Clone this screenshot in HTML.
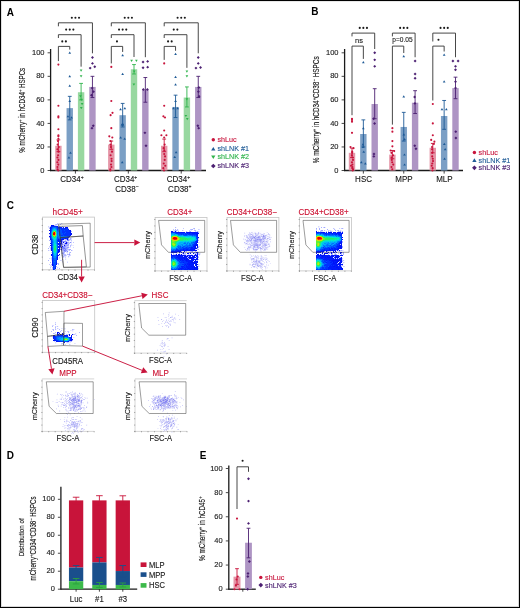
<!DOCTYPE html>
<html><head><meta charset="utf-8"><style>
html,body{margin:0;padding:0;background:#fff;}
body{width:520px;height:608px;overflow:hidden;position:relative;}
svg{display:block;font-family:"Liberation Sans", sans-serif;}
#fig{filter:blur(0.3px);}
#brd{position:absolute;left:0;top:0;}
</style></head><body>
<svg id="fig" width="520" height="608" viewBox="0 0 520 608">
<defs>
<filter id="blur2" x="-50%" y="-50%" width="200%" height="200%"><feGaussianBlur stdDeviation="2"/></filter>
</defs>
<rect x="0" y="0" width="520" height="608" fill="#fff"/>
<text transform="translate(6.80 15.60) scale(1 1.08)" font-size="10" text-anchor="start" fill="#000" font-weight="bold" >A</text>
<line x1="50.60" y1="49.00" x2="50.60" y2="171.10" stroke="#1a1a1a" stroke-width="1.3" />
<line x1="50.00" y1="170.50" x2="206.00" y2="170.50" stroke="#1a1a1a" stroke-width="1.3" />
<line x1="47.60" y1="170.50" x2="50.00" y2="170.50" stroke="#1a1a1a" stroke-width="0.8" />
<text transform="translate(44.50 172.65) scale(1 1.08)" font-size="7.5" text-anchor="end" fill="#1a1a1a" font-weight="normal" stroke="#1a1a1a" stroke-width="0.12" >0</text>
<line x1="47.60" y1="146.96" x2="50.00" y2="146.96" stroke="#1a1a1a" stroke-width="0.8" />
<text transform="translate(44.50 149.11) scale(1 1.08)" font-size="7.5" text-anchor="end" fill="#1a1a1a" font-weight="normal" stroke="#1a1a1a" stroke-width="0.12" >20</text>
<line x1="47.60" y1="123.42" x2="50.00" y2="123.42" stroke="#1a1a1a" stroke-width="0.8" />
<text transform="translate(44.50 125.57) scale(1 1.08)" font-size="7.5" text-anchor="end" fill="#1a1a1a" font-weight="normal" stroke="#1a1a1a" stroke-width="0.12" >40</text>
<line x1="47.60" y1="99.88" x2="50.00" y2="99.88" stroke="#1a1a1a" stroke-width="0.8" />
<text transform="translate(44.50 102.03) scale(1 1.08)" font-size="7.5" text-anchor="end" fill="#1a1a1a" font-weight="normal" stroke="#1a1a1a" stroke-width="0.12" >60</text>
<line x1="47.60" y1="76.34" x2="50.00" y2="76.34" stroke="#1a1a1a" stroke-width="0.8" />
<text transform="translate(44.50 78.49) scale(1 1.08)" font-size="7.5" text-anchor="end" fill="#1a1a1a" font-weight="normal" stroke="#1a1a1a" stroke-width="0.12" >80</text>
<line x1="47.60" y1="52.80" x2="50.00" y2="52.80" stroke="#1a1a1a" stroke-width="0.8" />
<text transform="translate(44.50 54.95) scale(1 1.08)" font-size="7.5" text-anchor="end" fill="#1a1a1a" font-weight="normal" stroke="#1a1a1a" stroke-width="0.12" >100</text>
<line x1="75.42" y1="170.50" x2="75.42" y2="173.60" stroke="#1a1a1a" stroke-width="0.8" />
<line x1="128.32" y1="170.50" x2="128.32" y2="173.60" stroke="#1a1a1a" stroke-width="0.8" />
<line x1="181.22" y1="170.50" x2="181.22" y2="173.60" stroke="#1a1a1a" stroke-width="0.8" />
<rect x="55.20" y="145.78" width="6.40" height="24.72" fill="#e596a8"/>
<circle cx="58.40" cy="64.57" r="1.06" fill="#c8143c"/>
<circle cx="58.40" cy="105.77" r="1.06" fill="#c8143c"/>
<circle cx="58.40" cy="116.36" r="1.06" fill="#c8143c"/>
<circle cx="58.40" cy="117.53" r="1.06" fill="#c8143c"/>
<circle cx="58.40" cy="129.31" r="1.06" fill="#c8143c"/>
<circle cx="58.40" cy="135.19" r="1.06" fill="#c8143c"/>
<circle cx="58.40" cy="136.37" r="1.06" fill="#c8143c"/>
<circle cx="58.40" cy="138.72" r="1.06" fill="#c8143c"/>
<circle cx="58.01" cy="141.07" r="1.06" fill="#c8143c"/>
<circle cx="57.63" cy="144.61" r="1.06" fill="#c8143c"/>
<circle cx="58.73" cy="146.96" r="1.06" fill="#c8143c"/>
<circle cx="57.46" cy="149.31" r="1.06" fill="#c8143c"/>
<circle cx="58.48" cy="151.67" r="1.06" fill="#c8143c"/>
<circle cx="58.10" cy="155.20" r="1.06" fill="#c8143c"/>
<circle cx="57.43" cy="157.55" r="1.06" fill="#c8143c"/>
<circle cx="58.42" cy="159.91" r="1.06" fill="#c8143c"/>
<circle cx="57.38" cy="162.26" r="1.06" fill="#c8143c"/>
<circle cx="58.25" cy="164.62" r="1.06" fill="#c8143c"/>
<circle cx="57.45" cy="166.97" r="1.06" fill="#c8143c"/>
<circle cx="57.50" cy="169.32" r="1.06" fill="#c8143c"/>
<circle cx="58.23" cy="170.50" r="1.06" fill="#c8143c"/>
<line x1="58.40" y1="151.67" x2="58.40" y2="139.90" stroke="#c8143c" stroke-width="0.9" />
<line x1="56.50" y1="139.90" x2="60.30" y2="139.90" stroke="#c8143c" stroke-width="0.9" />
<line x1="56.50" y1="151.67" x2="60.30" y2="151.67" stroke="#c8143c" stroke-width="0.9" />
<rect x="66.55" y="108.12" width="6.40" height="62.38" fill="#7b9fc5"/>
<path d="M69.75 51.57L71.09 53.81L68.41 53.81Z" fill="#1e5a96"/>
<path d="M69.75 75.11L71.09 77.35L68.41 77.35Z" fill="#1e5a96"/>
<path d="M69.75 84.52L71.09 86.76L68.41 86.76Z" fill="#1e5a96"/>
<path d="M69.75 99.83L71.09 102.06L68.41 102.06Z" fill="#1e5a96"/>
<path d="M67.95 115.13L69.29 117.37L66.61 117.37Z" fill="#1e5a96"/>
<path d="M71.55 116.30L72.89 118.54L70.21 118.54Z" fill="#1e5a96"/>
<path d="M70.47 151.61L71.81 153.85L69.13 153.85Z" fill="#1e5a96"/>
<path d="M68.92 156.32L70.27 158.56L67.58 158.56Z" fill="#1e5a96"/>
<line x1="69.75" y1="119.89" x2="69.75" y2="96.35" stroke="#1e5a96" stroke-width="0.9" />
<line x1="67.85" y1="96.35" x2="71.65" y2="96.35" stroke="#1e5a96" stroke-width="0.9" />
<line x1="67.85" y1="119.89" x2="71.65" y2="119.89" stroke="#1e5a96" stroke-width="0.9" />
<rect x="77.90" y="92.23" width="6.40" height="78.27" fill="#98d8a0"/>
<path d="M81.10 71.69L82.44 69.45L79.76 69.45Z" fill="#2fb44c"/>
<path d="M81.10 77.57L82.44 75.33L79.76 75.33Z" fill="#2fb44c"/>
<path d="M80.49 97.58L81.84 95.34L79.15 95.34Z" fill="#2fb44c"/>
<path d="M81.38 101.11L82.72 98.87L80.04 98.87Z" fill="#2fb44c"/>
<path d="M82.08 105.23L83.43 102.99L80.74 102.99Z" fill="#2fb44c"/>
<path d="M81.27 109.35L82.61 107.11L79.93 107.11Z" fill="#2fb44c"/>
<line x1="81.10" y1="99.88" x2="81.10" y2="83.40" stroke="#2fb44c" stroke-width="0.9" />
<line x1="79.20" y1="83.40" x2="83.00" y2="83.40" stroke="#2fb44c" stroke-width="0.9" />
<line x1="79.20" y1="99.88" x2="83.00" y2="99.88" stroke="#2fb44c" stroke-width="0.9" />
<rect x="89.25" y="86.93" width="6.40" height="83.57" fill="#ae95c4"/>
<path d="M92.45 56.05L93.91 57.51L92.45 58.96L90.99 57.51Z" fill="#4c2072"/>
<path d="M92.45 61.94L93.91 63.39L92.45 64.85L90.99 63.39Z" fill="#4c2072"/>
<path d="M94.75 65.23L96.21 66.69L94.75 68.14L93.29 66.69Z" fill="#4c2072"/>
<path d="M90.15 66.64L91.61 68.10L90.15 69.56L88.69 68.10Z" fill="#4c2072"/>
<path d="M92.22 86.65L93.68 88.11L92.22 89.57L90.77 88.11Z" fill="#4c2072"/>
<path d="M93.50 90.18L94.95 91.64L93.50 93.10L92.04 91.64Z" fill="#4c2072"/>
<path d="M91.45 93.72L92.91 95.17L91.45 96.63L90.00 95.17Z" fill="#4c2072"/>
<path d="M93.24 124.32L94.69 125.77L93.24 127.23L91.78 125.77Z" fill="#4c2072"/>
<path d="M91.99 126.67L93.44 128.13L91.99 129.58L90.53 128.13Z" fill="#4c2072"/>
<line x1="92.45" y1="97.53" x2="92.45" y2="76.34" stroke="#4c2072" stroke-width="0.9" />
<line x1="90.55" y1="76.34" x2="94.35" y2="76.34" stroke="#4c2072" stroke-width="0.9" />
<line x1="90.55" y1="97.53" x2="94.35" y2="97.53" stroke="#4c2072" stroke-width="0.9" />
<rect x="108.10" y="144.61" width="6.40" height="25.89" fill="#e596a8"/>
<circle cx="111.30" cy="66.92" r="1.06" fill="#c8143c"/>
<circle cx="111.30" cy="101.06" r="1.06" fill="#c8143c"/>
<circle cx="112.50" cy="112.83" r="1.06" fill="#c8143c"/>
<circle cx="110.60" cy="115.18" r="1.06" fill="#c8143c"/>
<circle cx="111.30" cy="128.13" r="1.06" fill="#c8143c"/>
<circle cx="109.30" cy="136.37" r="1.06" fill="#c8143c"/>
<circle cx="112.30" cy="137.54" r="1.06" fill="#c8143c"/>
<circle cx="110.52" cy="141.07" r="1.06" fill="#c8143c"/>
<circle cx="110.46" cy="144.61" r="1.06" fill="#c8143c"/>
<circle cx="110.88" cy="146.96" r="1.06" fill="#c8143c"/>
<circle cx="112.00" cy="151.67" r="1.06" fill="#c8143c"/>
<circle cx="110.60" cy="155.20" r="1.06" fill="#c8143c"/>
<circle cx="111.48" cy="158.73" r="1.06" fill="#c8143c"/>
<circle cx="111.61" cy="161.08" r="1.06" fill="#c8143c"/>
<circle cx="111.02" cy="164.62" r="1.06" fill="#c8143c"/>
<circle cx="111.41" cy="166.97" r="1.06" fill="#c8143c"/>
<circle cx="110.34" cy="169.32" r="1.06" fill="#c8143c"/>
<circle cx="110.33" cy="170.50" r="1.06" fill="#c8143c"/>
<line x1="111.30" y1="149.31" x2="111.30" y2="141.07" stroke="#c8143c" stroke-width="0.9" />
<line x1="109.40" y1="141.07" x2="113.20" y2="141.07" stroke="#c8143c" stroke-width="0.9" />
<line x1="109.40" y1="149.31" x2="113.20" y2="149.31" stroke="#c8143c" stroke-width="0.9" />
<rect x="119.45" y="115.18" width="6.40" height="55.32" fill="#7b9fc5"/>
<path d="M122.65 53.92L123.99 56.16L121.31 56.16Z" fill="#1e5a96"/>
<path d="M122.65 72.75L123.99 74.99L121.31 74.99Z" fill="#1e5a96"/>
<path d="M124.85 106.89L126.19 109.13L123.51 109.13Z" fill="#1e5a96"/>
<path d="M120.55 108.06L121.89 110.30L119.21 110.30Z" fill="#1e5a96"/>
<path d="M122.00 123.37L123.35 125.61L120.66 125.61Z" fill="#1e5a96"/>
<path d="M123.05 123.37L124.39 125.61L121.70 125.61Z" fill="#1e5a96"/>
<path d="M122.49 123.37L123.83 125.61L121.15 125.61Z" fill="#1e5a96"/>
<path d="M120.65 136.31L121.99 138.55L119.31 138.55Z" fill="#1e5a96"/>
<path d="M124.65 137.49L125.99 139.73L123.31 139.73Z" fill="#1e5a96"/>
<path d="M122.24 161.03L123.59 163.27L120.90 163.27Z" fill="#1e5a96"/>
<line x1="122.65" y1="126.95" x2="122.65" y2="103.41" stroke="#1e5a96" stroke-width="0.9" />
<line x1="120.75" y1="103.41" x2="124.55" y2="103.41" stroke="#1e5a96" stroke-width="0.9" />
<line x1="120.75" y1="126.95" x2="124.55" y2="126.95" stroke="#1e5a96" stroke-width="0.9" />
<rect x="130.80" y="69.28" width="6.40" height="101.22" fill="#98d8a0"/>
<path d="M131.60 62.04L132.94 59.80L130.26 59.80Z" fill="#2fb44c"/>
<path d="M136.40 62.04L137.74 59.80L135.06 59.80Z" fill="#2fb44c"/>
<path d="M134.19 72.86L135.53 70.62L132.84 70.62Z" fill="#2fb44c"/>
<path d="M133.90 85.81L135.24 83.57L132.55 83.57Z" fill="#2fb44c"/>
<line x1="134.00" y1="73.99" x2="134.00" y2="64.57" stroke="#2fb44c" stroke-width="0.9" />
<line x1="132.10" y1="64.57" x2="135.90" y2="64.57" stroke="#2fb44c" stroke-width="0.9" />
<line x1="132.10" y1="73.99" x2="135.90" y2="73.99" stroke="#2fb44c" stroke-width="0.9" />
<rect x="142.15" y="89.76" width="6.40" height="80.74" fill="#ae95c4"/>
<path d="M143.05 60.52L144.51 61.98L143.05 63.44L141.59 61.98Z" fill="#4c2072"/>
<path d="M147.65 59.94L149.11 61.39L147.65 62.85L146.19 61.39Z" fill="#4c2072"/>
<path d="M143.05 66.29L144.51 67.75L143.05 69.20L141.59 67.75Z" fill="#4c2072"/>
<path d="M147.65 65.70L149.11 67.16L147.65 68.62L146.19 67.16Z" fill="#4c2072"/>
<path d="M143.35 88.07L144.81 89.52L143.35 90.98L141.89 89.52Z" fill="#4c2072"/>
<path d="M147.35 88.07L148.81 89.52L147.35 90.98L145.89 89.52Z" fill="#4c2072"/>
<path d="M144.91 131.38L146.37 132.84L144.91 134.29L143.45 132.84Z" fill="#4c2072"/>
<path d="M146.00 144.33L147.45 145.78L146.00 147.24L144.54 145.78Z" fill="#4c2072"/>
<line x1="145.35" y1="102.23" x2="145.35" y2="77.52" stroke="#4c2072" stroke-width="0.9" />
<line x1="143.45" y1="77.52" x2="147.25" y2="77.52" stroke="#4c2072" stroke-width="0.9" />
<line x1="143.45" y1="102.23" x2="147.25" y2="102.23" stroke="#4c2072" stroke-width="0.9" />
<rect x="161.00" y="145.78" width="6.40" height="24.72" fill="#e596a8"/>
<circle cx="164.20" cy="63.39" r="1.06" fill="#c8143c"/>
<circle cx="164.20" cy="105.77" r="1.06" fill="#c8143c"/>
<circle cx="163.40" cy="116.36" r="1.06" fill="#c8143c"/>
<circle cx="165.00" cy="117.53" r="1.06" fill="#c8143c"/>
<circle cx="164.20" cy="130.48" r="1.06" fill="#c8143c"/>
<circle cx="161.40" cy="135.19" r="1.06" fill="#c8143c"/>
<circle cx="166.40" cy="135.19" r="1.06" fill="#c8143c"/>
<circle cx="164.20" cy="137.54" r="1.06" fill="#c8143c"/>
<circle cx="164.64" cy="144.61" r="1.06" fill="#c8143c"/>
<circle cx="163.64" cy="148.14" r="1.06" fill="#c8143c"/>
<circle cx="164.36" cy="150.49" r="1.06" fill="#c8143c"/>
<circle cx="164.26" cy="154.02" r="1.06" fill="#c8143c"/>
<circle cx="165.03" cy="156.38" r="1.06" fill="#c8143c"/>
<circle cx="164.70" cy="159.91" r="1.06" fill="#c8143c"/>
<circle cx="163.73" cy="163.44" r="1.06" fill="#c8143c"/>
<circle cx="165.26" cy="165.79" r="1.06" fill="#c8143c"/>
<circle cx="163.36" cy="168.15" r="1.06" fill="#c8143c"/>
<circle cx="164.02" cy="170.50" r="1.06" fill="#c8143c"/>
<line x1="164.20" y1="151.67" x2="164.20" y2="139.07" stroke="#c8143c" stroke-width="0.9" />
<line x1="162.30" y1="139.07" x2="166.10" y2="139.07" stroke="#c8143c" stroke-width="0.9" />
<line x1="162.30" y1="151.67" x2="166.10" y2="151.67" stroke="#c8143c" stroke-width="0.9" />
<rect x="172.35" y="106.94" width="6.40" height="63.56" fill="#7b9fc5"/>
<path d="M175.55 52.74L176.89 54.98L174.21 54.98Z" fill="#1e5a96"/>
<path d="M175.55 75.70L176.89 77.94L174.21 77.94Z" fill="#1e5a96"/>
<path d="M175.55 83.35L176.89 85.59L174.21 85.59Z" fill="#1e5a96"/>
<path d="M175.55 99.83L176.89 102.06L174.21 102.06Z" fill="#1e5a96"/>
<path d="M173.45 106.89L174.79 109.13L172.11 109.13Z" fill="#1e5a96"/>
<path d="M177.65 106.89L178.99 109.13L176.31 109.13Z" fill="#1e5a96"/>
<path d="M176.12 150.91L177.46 153.15L174.77 153.15Z" fill="#1e5a96"/>
<path d="M174.78 155.73L176.13 157.97L173.44 157.97Z" fill="#1e5a96"/>
<line x1="175.55" y1="117.53" x2="175.55" y2="95.17" stroke="#1e5a96" stroke-width="0.9" />
<line x1="173.65" y1="95.17" x2="177.45" y2="95.17" stroke="#1e5a96" stroke-width="0.9" />
<line x1="173.65" y1="117.53" x2="177.45" y2="117.53" stroke="#1e5a96" stroke-width="0.9" />
<rect x="183.70" y="97.53" width="6.40" height="72.97" fill="#98d8a0"/>
<path d="M186.90 72.86L188.24 70.62L185.56 70.62Z" fill="#2fb44c"/>
<path d="M186.90 77.57L188.24 75.33L185.56 75.33Z" fill="#2fb44c"/>
<path d="M186.88 100.52L188.22 98.28L185.53 98.28Z" fill="#2fb44c"/>
<path d="M185.89 117.12L187.23 114.88L184.54 114.88Z" fill="#2fb44c"/>
<path d="M187.27 120.18L188.61 117.94L185.93 117.94Z" fill="#2fb44c"/>
<line x1="186.90" y1="106.94" x2="186.90" y2="86.93" stroke="#2fb44c" stroke-width="0.9" />
<line x1="185.00" y1="86.93" x2="188.80" y2="86.93" stroke="#2fb44c" stroke-width="0.9" />
<line x1="185.00" y1="106.94" x2="188.80" y2="106.94" stroke="#2fb44c" stroke-width="0.9" />
<rect x="195.05" y="86.93" width="6.40" height="83.57" fill="#ae95c4"/>
<path d="M198.25 56.05L199.71 57.51L198.25 58.96L196.79 57.51Z" fill="#4c2072"/>
<path d="M198.25 61.94L199.71 63.39L198.25 64.85L196.79 63.39Z" fill="#4c2072"/>
<path d="M195.95 66.64L197.41 68.10L195.95 69.56L194.49 68.10Z" fill="#4c2072"/>
<path d="M200.55 66.06L202.01 67.51L200.55 68.97L199.09 67.51Z" fill="#4c2072"/>
<path d="M198.83 86.07L200.29 87.52L198.83 88.98L197.38 87.52Z" fill="#4c2072"/>
<path d="M198.41 90.18L199.87 91.64L198.41 93.10L196.95 91.64Z" fill="#4c2072"/>
<path d="M199.08 94.89L200.53 96.35L199.08 97.81L197.62 96.35Z" fill="#4c2072"/>
<path d="M197.84 124.32L199.30 125.77L197.84 127.23L196.38 125.77Z" fill="#4c2072"/>
<path d="M198.68 126.67L200.14 128.13L198.68 129.58L197.22 128.13Z" fill="#4c2072"/>
<line x1="198.25" y1="97.53" x2="198.25" y2="76.34" stroke="#4c2072" stroke-width="0.9" />
<line x1="196.35" y1="76.34" x2="200.15" y2="76.34" stroke="#4c2072" stroke-width="0.9" />
<line x1="196.35" y1="97.53" x2="200.15" y2="97.53" stroke="#4c2072" stroke-width="0.9" />
<path d="M58.40 26.30V22.80H92.45V53.31" fill="none" stroke="#333" stroke-width="0.9"/>
<path d="M58.40 38.00V34.70H81.10V66.66" fill="none" stroke="#333" stroke-width="0.9"/>
<path d="M58.40 61.07V46.40H69.75V49.60" fill="none" stroke="#333" stroke-width="0.9"/>
<circle cx="71.83" cy="17.70" r="1.05" fill="#1a1a1a"/>
<circle cx="75.42" cy="17.70" r="1.05" fill="#1a1a1a"/>
<circle cx="79.02" cy="17.70" r="1.05" fill="#1a1a1a"/>
<circle cx="66.15" cy="29.60" r="1.05" fill="#1a1a1a"/>
<circle cx="69.75" cy="29.60" r="1.05" fill="#1a1a1a"/>
<circle cx="73.35" cy="29.60" r="1.05" fill="#1a1a1a"/>
<circle cx="62.28" cy="41.40" r="1.05" fill="#1a1a1a"/>
<circle cx="65.88" cy="41.40" r="1.05" fill="#1a1a1a"/>
<path d="M111.30 26.30V22.80H145.35V57.19" fill="none" stroke="#333" stroke-width="0.9"/>
<path d="M111.30 38.00V34.70H134.00V57.00" fill="none" stroke="#333" stroke-width="0.9"/>
<path d="M111.30 63.42V46.40H122.65V51.95" fill="none" stroke="#333" stroke-width="0.9"/>
<circle cx="124.72" cy="17.70" r="1.05" fill="#1a1a1a"/>
<circle cx="128.32" cy="17.70" r="1.05" fill="#1a1a1a"/>
<circle cx="131.92" cy="17.70" r="1.05" fill="#1a1a1a"/>
<circle cx="119.05" cy="29.60" r="1.05" fill="#1a1a1a"/>
<circle cx="122.65" cy="29.60" r="1.05" fill="#1a1a1a"/>
<circle cx="126.25" cy="29.60" r="1.05" fill="#1a1a1a"/>
<circle cx="116.97" cy="41.40" r="1.05" fill="#1a1a1a"/>
<path d="M164.20 26.30V22.80H198.25V53.31" fill="none" stroke="#333" stroke-width="0.9"/>
<path d="M164.20 38.00V34.70H186.90V67.83" fill="none" stroke="#333" stroke-width="0.9"/>
<path d="M164.20 59.89V46.40H175.55V50.78" fill="none" stroke="#333" stroke-width="0.9"/>
<circle cx="177.62" cy="17.70" r="1.05" fill="#1a1a1a"/>
<circle cx="181.22" cy="17.70" r="1.05" fill="#1a1a1a"/>
<circle cx="184.82" cy="17.70" r="1.05" fill="#1a1a1a"/>
<circle cx="173.75" cy="29.60" r="1.05" fill="#1a1a1a"/>
<circle cx="177.35" cy="29.60" r="1.05" fill="#1a1a1a"/>
<circle cx="168.07" cy="41.40" r="1.05" fill="#1a1a1a"/>
<circle cx="171.68" cy="41.40" r="1.05" fill="#1a1a1a"/>
<text transform="translate(60.32 182.30) scale(1 1.08)" font-size="8" fill="#1a1a1a" stroke="#1a1a1a" stroke-width="0.12">CD34<tspan font-size="5" dy="-3.1">+</tspan></text>
<text transform="translate(113.92 182.30) scale(1 1.08)" font-size="8" fill="#1a1a1a" stroke="#1a1a1a" stroke-width="0.12">CD34<tspan font-size="5" dy="-3.1">+</tspan></text>
<text transform="translate(115.22 191.50) scale(1 1.08)" font-size="8" fill="#1a1a1a" stroke="#1a1a1a" stroke-width="0.12">CD38<tspan font-size="5" dy="-3.1">−</tspan></text>
<text transform="translate(166.82 182.30) scale(1 1.08)" font-size="8" fill="#1a1a1a" stroke="#1a1a1a" stroke-width="0.12">CD34<tspan font-size="5" dy="-3.1">+</tspan></text>
<text transform="translate(168.12 191.50) scale(1 1.08)" font-size="8" fill="#1a1a1a" stroke="#1a1a1a" stroke-width="0.12">CD38<tspan font-size="5" dy="-3.1">+</tspan></text>
<text transform="translate(24.60 110.30) rotate(-90)" font-size="8.3" text-anchor="middle" fill="#1a1a1a" stroke="#1a1a1a" stroke-width="0.15" textLength="85" lengthAdjust="spacingAndGlyphs">% mCherry<tspan font-size="5.4" dy="-3.0">+</tspan><tspan dy="3.0"> in hCD34<tspan font-size="5.4" dy="-3.0">+</tspan><tspan dy="3.0"> HSPCs</tspan></tspan></text>
<circle cx="213.30" cy="139.80" r="1.71" fill="#c8143c"/>
<text transform="translate(217.50 142.10) scale(1 1.08)" font-size="7.2" text-anchor="start" fill="#c8143c" font-weight="normal" stroke="#c8143c" stroke-width="0.12" >shLuc</text>
<path d="M213.30 146.92L215.46 150.52L211.14 150.52Z" fill="#1e5a96"/>
<text transform="translate(217.50 151.20) scale(1 1.08)" font-size="7.2" text-anchor="start" fill="#1e5a96" font-weight="normal" stroke="#1e5a96" stroke-width="0.12" >shLNK #1</text>
<path d="M213.30 158.98L215.46 155.38L211.14 155.38Z" fill="#2fb44c"/>
<text transform="translate(217.50 159.30) scale(1 1.08)" font-size="7.2" text-anchor="start" fill="#2fb44c" font-weight="normal" stroke="#2fb44c" stroke-width="0.12" >shLNK #2</text>
<path d="M213.30 163.66L215.64 166.00L213.30 168.34L210.96 166.00Z" fill="#4c2072"/>
<text transform="translate(217.50 168.30) scale(1 1.08)" font-size="7.2" text-anchor="start" fill="#4c2072" font-weight="normal" stroke="#4c2072" stroke-width="0.12" >shLNK #3</text>
<text transform="translate(311.20 15.30) scale(1 1.08)" font-size="10" text-anchor="start" fill="#000" font-weight="bold" >B</text>
<line x1="344.60" y1="49.00" x2="344.60" y2="171.10" stroke="#1a1a1a" stroke-width="1.3" />
<line x1="344.00" y1="170.50" x2="463.00" y2="170.50" stroke="#1a1a1a" stroke-width="1.3" />
<line x1="341.60" y1="170.50" x2="344.00" y2="170.50" stroke="#1a1a1a" stroke-width="0.8" />
<text transform="translate(338.50 172.65) scale(1 1.08)" font-size="7.5" text-anchor="end" fill="#1a1a1a" font-weight="normal" stroke="#1a1a1a" stroke-width="0.12" >0</text>
<line x1="341.60" y1="146.96" x2="344.00" y2="146.96" stroke="#1a1a1a" stroke-width="0.8" />
<text transform="translate(338.50 149.11) scale(1 1.08)" font-size="7.5" text-anchor="end" fill="#1a1a1a" font-weight="normal" stroke="#1a1a1a" stroke-width="0.12" >20</text>
<line x1="341.60" y1="123.42" x2="344.00" y2="123.42" stroke="#1a1a1a" stroke-width="0.8" />
<text transform="translate(338.50 125.57) scale(1 1.08)" font-size="7.5" text-anchor="end" fill="#1a1a1a" font-weight="normal" stroke="#1a1a1a" stroke-width="0.12" >40</text>
<line x1="341.60" y1="99.88" x2="344.00" y2="99.88" stroke="#1a1a1a" stroke-width="0.8" />
<text transform="translate(338.50 102.03) scale(1 1.08)" font-size="7.5" text-anchor="end" fill="#1a1a1a" font-weight="normal" stroke="#1a1a1a" stroke-width="0.12" >60</text>
<line x1="341.60" y1="76.34" x2="344.00" y2="76.34" stroke="#1a1a1a" stroke-width="0.8" />
<text transform="translate(338.50 78.49) scale(1 1.08)" font-size="7.5" text-anchor="end" fill="#1a1a1a" font-weight="normal" stroke="#1a1a1a" stroke-width="0.12" >80</text>
<line x1="341.60" y1="52.80" x2="344.00" y2="52.80" stroke="#1a1a1a" stroke-width="0.8" />
<text transform="translate(338.50 54.95) scale(1 1.08)" font-size="7.5" text-anchor="end" fill="#1a1a1a" font-weight="normal" stroke="#1a1a1a" stroke-width="0.12" >100</text>
<line x1="363.35" y1="170.50" x2="363.35" y2="173.60" stroke="#1a1a1a" stroke-width="0.8" />
<line x1="403.75" y1="170.50" x2="403.75" y2="173.60" stroke="#1a1a1a" stroke-width="0.8" />
<line x1="444.15" y1="170.50" x2="444.15" y2="173.60" stroke="#1a1a1a" stroke-width="0.8" />
<rect x="348.80" y="152.84" width="6.40" height="17.66" fill="#e596a8"/>
<circle cx="352.00" cy="118.71" r="1.06" fill="#c8143c"/>
<circle cx="352.00" cy="119.89" r="1.06" fill="#c8143c"/>
<circle cx="352.00" cy="121.65" r="1.06" fill="#c8143c"/>
<circle cx="352.00" cy="132.84" r="1.06" fill="#c8143c"/>
<circle cx="350.50" cy="146.96" r="1.06" fill="#c8143c"/>
<circle cx="353.50" cy="148.14" r="1.06" fill="#c8143c"/>
<circle cx="352.21" cy="151.67" r="1.06" fill="#c8143c"/>
<circle cx="352.18" cy="152.84" r="1.06" fill="#c8143c"/>
<circle cx="351.90" cy="155.20" r="1.06" fill="#c8143c"/>
<circle cx="352.75" cy="157.55" r="1.06" fill="#c8143c"/>
<circle cx="352.98" cy="159.91" r="1.06" fill="#c8143c"/>
<circle cx="351.94" cy="162.26" r="1.06" fill="#c8143c"/>
<circle cx="352.36" cy="164.62" r="1.06" fill="#c8143c"/>
<circle cx="351.03" cy="165.79" r="1.06" fill="#c8143c"/>
<circle cx="352.44" cy="166.97" r="1.06" fill="#c8143c"/>
<circle cx="352.32" cy="168.15" r="1.06" fill="#c8143c"/>
<circle cx="353.08" cy="169.32" r="1.06" fill="#c8143c"/>
<circle cx="352.71" cy="170.50" r="1.06" fill="#c8143c"/>
<line x1="352.00" y1="157.55" x2="352.00" y2="148.14" stroke="#c8143c" stroke-width="0.9" />
<line x1="350.10" y1="148.14" x2="353.90" y2="148.14" stroke="#c8143c" stroke-width="0.9" />
<line x1="350.10" y1="157.55" x2="353.90" y2="157.55" stroke="#c8143c" stroke-width="0.9" />
<rect x="360.15" y="134.01" width="6.40" height="36.49" fill="#7b9fc5"/>
<path d="M363.35 60.98L364.69 63.22L362.01 63.22Z" fill="#1e5a96"/>
<path d="M363.35 126.90L364.69 129.14L362.01 129.14Z" fill="#1e5a96"/>
<path d="M362.88 143.37L364.22 145.61L361.53 145.61Z" fill="#1e5a96"/>
<path d="M363.10 145.73L364.44 147.97L361.75 147.97Z" fill="#1e5a96"/>
<path d="M363.72 150.44L365.07 152.68L362.38 152.68Z" fill="#1e5a96"/>
<path d="M361.35 161.03L362.69 163.27L360.01 163.27Z" fill="#1e5a96"/>
<path d="M365.35 162.21L366.69 164.45L364.01 164.45Z" fill="#1e5a96"/>
<line x1="363.35" y1="146.96" x2="363.35" y2="119.89" stroke="#1e5a96" stroke-width="0.9" />
<line x1="361.45" y1="119.89" x2="365.25" y2="119.89" stroke="#1e5a96" stroke-width="0.9" />
<line x1="361.45" y1="146.96" x2="365.25" y2="146.96" stroke="#1e5a96" stroke-width="0.9" />
<rect x="371.50" y="104.00" width="6.40" height="66.50" fill="#ae95c4"/>
<path d="M374.70 51.34L376.16 52.80L374.70 54.26L373.24 52.80Z" fill="#4c2072"/>
<path d="M374.70 58.41L376.16 59.86L374.70 61.32L373.24 59.86Z" fill="#4c2072"/>
<path d="M374.70 64.88L376.16 66.34L374.70 67.79L373.24 66.34Z" fill="#4c2072"/>
<path d="M373.65 117.26L375.11 118.71L373.65 120.17L372.19 118.71Z" fill="#4c2072"/>
<path d="M374.62 121.96L376.07 123.42L374.62 124.88L373.16 123.42Z" fill="#4c2072"/>
<path d="M373.97 152.57L375.43 154.02L373.97 155.48L372.51 154.02Z" fill="#4c2072"/>
<path d="M373.86 154.92L375.31 156.38L373.86 157.83L372.40 156.38Z" fill="#4c2072"/>
<line x1="374.70" y1="118.71" x2="374.70" y2="88.70" stroke="#4c2072" stroke-width="0.9" />
<line x1="372.80" y1="88.70" x2="376.60" y2="88.70" stroke="#4c2072" stroke-width="0.9" />
<line x1="372.80" y1="118.71" x2="376.60" y2="118.71" stroke="#4c2072" stroke-width="0.9" />
<rect x="389.20" y="154.61" width="6.40" height="15.89" fill="#e596a8"/>
<circle cx="392.40" cy="128.13" r="1.06" fill="#c8143c"/>
<circle cx="392.40" cy="131.66" r="1.06" fill="#c8143c"/>
<circle cx="392.40" cy="141.07" r="1.06" fill="#c8143c"/>
<circle cx="392.40" cy="146.37" r="1.06" fill="#c8143c"/>
<circle cx="390.60" cy="150.49" r="1.06" fill="#c8143c"/>
<circle cx="394.20" cy="151.08" r="1.06" fill="#c8143c"/>
<circle cx="391.43" cy="152.84" r="1.06" fill="#c8143c"/>
<circle cx="392.99" cy="155.20" r="1.06" fill="#c8143c"/>
<circle cx="391.58" cy="157.55" r="1.06" fill="#c8143c"/>
<circle cx="391.84" cy="159.91" r="1.06" fill="#c8143c"/>
<circle cx="392.16" cy="162.26" r="1.06" fill="#c8143c"/>
<circle cx="393.22" cy="164.62" r="1.06" fill="#c8143c"/>
<circle cx="391.48" cy="166.97" r="1.06" fill="#c8143c"/>
<circle cx="392.29" cy="169.32" r="1.06" fill="#c8143c"/>
<line x1="392.40" y1="158.73" x2="392.40" y2="150.49" stroke="#c8143c" stroke-width="0.9" />
<line x1="390.50" y1="150.49" x2="394.30" y2="150.49" stroke="#c8143c" stroke-width="0.9" />
<line x1="390.50" y1="158.73" x2="394.30" y2="158.73" stroke="#c8143c" stroke-width="0.9" />
<rect x="400.55" y="126.95" width="6.40" height="43.55" fill="#7b9fc5"/>
<path d="M403.75 55.10L405.09 57.34L402.41 57.34Z" fill="#1e5a96"/>
<path d="M403.75 95.35L405.09 97.59L402.41 97.59Z" fill="#1e5a96"/>
<path d="M403.86 133.37L405.20 135.61L402.51 135.61Z" fill="#1e5a96"/>
<path d="M404.59 138.08L405.94 140.32L403.25 140.32Z" fill="#1e5a96"/>
<path d="M404.45 153.38L405.80 155.62L403.11 155.62Z" fill="#1e5a96"/>
<path d="M404.55 163.38L405.89 165.62L403.21 165.62Z" fill="#1e5a96"/>
<line x1="403.75" y1="141.07" x2="403.75" y2="112.36" stroke="#1e5a96" stroke-width="0.9" />
<line x1="401.85" y1="112.36" x2="405.65" y2="112.36" stroke="#1e5a96" stroke-width="0.9" />
<line x1="401.85" y1="141.07" x2="405.65" y2="141.07" stroke="#1e5a96" stroke-width="0.9" />
<rect x="411.90" y="102.70" width="6.40" height="67.80" fill="#ae95c4"/>
<path d="M415.10 59.58L416.56 61.04L415.10 62.50L413.64 61.04Z" fill="#4c2072"/>
<path d="M415.10 72.53L416.56 73.99L415.10 75.44L413.64 73.99Z" fill="#4c2072"/>
<path d="M415.10 76.77L416.56 78.22L415.10 79.68L413.64 78.22Z" fill="#4c2072"/>
<path d="M414.61 95.48L416.07 96.94L414.61 98.39L413.16 96.94Z" fill="#4c2072"/>
<path d="M414.91 101.95L416.37 103.41L414.91 104.87L413.46 103.41Z" fill="#4c2072"/>
<path d="M414.79 144.33L416.25 145.78L414.79 147.24L413.33 145.78Z" fill="#4c2072"/>
<path d="M415.95 147.27L417.40 148.73L415.95 150.18L414.49 148.73Z" fill="#4c2072"/>
<line x1="415.10" y1="113.53" x2="415.10" y2="90.70" stroke="#4c2072" stroke-width="0.9" />
<line x1="413.20" y1="90.70" x2="417.00" y2="90.70" stroke="#4c2072" stroke-width="0.9" />
<line x1="413.20" y1="113.53" x2="417.00" y2="113.53" stroke="#4c2072" stroke-width="0.9" />
<rect x="429.60" y="147.78" width="6.40" height="22.72" fill="#e596a8"/>
<circle cx="432.80" cy="104.00" r="1.06" fill="#c8143c"/>
<circle cx="432.80" cy="123.42" r="1.06" fill="#c8143c"/>
<circle cx="432.80" cy="135.19" r="1.06" fill="#c8143c"/>
<circle cx="431.20" cy="139.90" r="1.06" fill="#c8143c"/>
<circle cx="434.40" cy="141.66" r="1.06" fill="#c8143c"/>
<circle cx="433.81" cy="144.02" r="1.06" fill="#c8143c"/>
<circle cx="432.03" cy="146.96" r="1.06" fill="#c8143c"/>
<circle cx="432.09" cy="149.31" r="1.06" fill="#c8143c"/>
<circle cx="432.21" cy="152.84" r="1.06" fill="#c8143c"/>
<circle cx="432.21" cy="156.38" r="1.06" fill="#c8143c"/>
<circle cx="432.77" cy="158.73" r="1.06" fill="#c8143c"/>
<circle cx="433.00" cy="161.08" r="1.06" fill="#c8143c"/>
<circle cx="432.28" cy="163.44" r="1.06" fill="#c8143c"/>
<circle cx="431.71" cy="165.79" r="1.06" fill="#c8143c"/>
<circle cx="432.62" cy="168.15" r="1.06" fill="#c8143c"/>
<circle cx="432.51" cy="170.50" r="1.06" fill="#c8143c"/>
<line x1="432.80" y1="152.84" x2="432.80" y2="143.43" stroke="#c8143c" stroke-width="0.9" />
<line x1="430.90" y1="143.43" x2="434.70" y2="143.43" stroke="#c8143c" stroke-width="0.9" />
<line x1="430.90" y1="152.84" x2="434.70" y2="152.84" stroke="#c8143c" stroke-width="0.9" />
<rect x="440.95" y="116.00" width="6.40" height="54.50" fill="#7b9fc5"/>
<path d="M444.15 53.57L445.49 55.81L442.81 55.81Z" fill="#1e5a96"/>
<path d="M444.15 80.17L445.49 82.41L442.81 82.41Z" fill="#1e5a96"/>
<path d="M441.95 108.06L443.29 110.30L440.61 110.30Z" fill="#1e5a96"/>
<path d="M446.35 108.06L447.69 110.30L445.01 110.30Z" fill="#1e5a96"/>
<path d="M444.30 142.79L445.64 145.03L442.95 145.03Z" fill="#1e5a96"/>
<path d="M445.15 148.08L446.49 150.32L443.80 150.32Z" fill="#1e5a96"/>
<path d="M444.57 157.50L445.91 159.74L443.23 159.74Z" fill="#1e5a96"/>
<line x1="444.15" y1="129.31" x2="444.15" y2="100.47" stroke="#1e5a96" stroke-width="0.9" />
<line x1="442.25" y1="100.47" x2="446.05" y2="100.47" stroke="#1e5a96" stroke-width="0.9" />
<line x1="442.25" y1="129.31" x2="446.05" y2="129.31" stroke="#1e5a96" stroke-width="0.9" />
<rect x="452.30" y="88.11" width="6.40" height="82.39" fill="#ae95c4"/>
<path d="M452.90 59.58L454.36 61.04L452.90 62.50L451.44 61.04Z" fill="#4c2072"/>
<path d="M458.10 59.58L459.56 61.04L458.10 62.50L456.64 61.04Z" fill="#4c2072"/>
<path d="M455.50 64.88L456.96 66.34L455.50 67.79L454.04 66.34Z" fill="#4c2072"/>
<path d="M455.50 68.29L456.96 69.75L455.50 71.20L454.04 69.75Z" fill="#4c2072"/>
<path d="M455.50 80.18L456.96 81.64L455.50 83.09L454.04 81.64Z" fill="#4c2072"/>
<path d="M455.53 86.65L456.99 88.11L455.53 89.57L454.08 88.11Z" fill="#4c2072"/>
<path d="M455.76 130.20L457.21 131.66L455.76 133.11L454.30 131.66Z" fill="#4c2072"/>
<path d="M455.89 136.56L457.34 138.01L455.89 139.47L454.43 138.01Z" fill="#4c2072"/>
<line x1="455.50" y1="98.70" x2="455.50" y2="77.16" stroke="#4c2072" stroke-width="0.9" />
<line x1="453.60" y1="77.16" x2="457.40" y2="77.16" stroke="#4c2072" stroke-width="0.9" />
<line x1="453.60" y1="98.70" x2="457.40" y2="98.70" stroke="#4c2072" stroke-width="0.9" />
<path d="M352.00 36.40V33.10H374.70V49.00" fill="none" stroke="#333" stroke-width="0.9"/>
<path d="M352.00 115.21V46.10H363.35V58.92" fill="none" stroke="#333" stroke-width="0.9"/>
<circle cx="359.75" cy="27.90" r="1.05" fill="#1a1a1a"/>
<circle cx="363.35" cy="27.90" r="1.05" fill="#1a1a1a"/>
<circle cx="366.95" cy="27.90" r="1.05" fill="#1a1a1a"/>
<text transform="translate(358.98 42.60) scale(1 1.08)" font-size="7.5" text-anchor="middle" fill="#222" font-weight="normal" stroke="#222" stroke-width="0.12" >ns</text>
<path d="M392.40 36.40V33.10H415.10V57.24" fill="none" stroke="#333" stroke-width="0.9"/>
<path d="M392.40 124.63V46.10H403.75V53.03" fill="none" stroke="#333" stroke-width="0.9"/>
<circle cx="400.15" cy="27.90" r="1.05" fill="#1a1a1a"/>
<circle cx="403.75" cy="27.90" r="1.05" fill="#1a1a1a"/>
<circle cx="407.35" cy="27.90" r="1.05" fill="#1a1a1a"/>
<text transform="translate(392.30 42.30) scale(1 1.08)" font-size="6.6" text-anchor="start" fill="#222" font-weight="normal" stroke="#222" stroke-width="0.12" >p=0.05</text>
<path d="M432.80 41.50V33.10H455.50V57.24" fill="none" stroke="#333" stroke-width="0.9"/>
<path d="M432.80 100.50V46.10H444.15V51.50" fill="none" stroke="#333" stroke-width="0.9"/>
<circle cx="440.55" cy="27.90" r="1.05" fill="#1a1a1a"/>
<circle cx="444.15" cy="27.90" r="1.05" fill="#1a1a1a"/>
<circle cx="447.75" cy="27.90" r="1.05" fill="#1a1a1a"/>
<circle cx="438.48" cy="39.80" r="1.05" fill="#1a1a1a"/>
<text transform="translate(363.55 181.70) scale(1 1.08)" font-size="8" text-anchor="middle" fill="#1a1a1a" font-weight="normal" stroke="#1a1a1a" stroke-width="0.12" >HSC</text>
<text transform="translate(403.95 181.70) scale(1 1.08)" font-size="8" text-anchor="middle" fill="#1a1a1a" font-weight="normal" stroke="#1a1a1a" stroke-width="0.12" >MPP</text>
<text transform="translate(444.35 181.70) scale(1 1.08)" font-size="8" text-anchor="middle" fill="#1a1a1a" font-weight="normal" stroke="#1a1a1a" stroke-width="0.12" >MLP</text>
<text transform="translate(319.40 109.80) rotate(-90)" font-size="8.3" text-anchor="middle" fill="#1a1a1a" stroke="#1a1a1a" stroke-width="0.15" textLength="106.8" lengthAdjust="spacingAndGlyphs">% mCherry<tspan font-size="5.4" dy="-3.0">+</tspan><tspan dy="3.0"> in hCD34<tspan font-size="5.4" dy="-3.0">+</tspan><tspan dy="3.0">CD38<tspan font-size="5.4" dy="-3.0">&#8722;</tspan><tspan dy="3.0"> HSPCs</tspan></tspan></tspan></text>
<circle cx="474.40" cy="152.50" r="1.71" fill="#c8143c"/>
<text transform="translate(478.60 154.70) scale(1 1.08)" font-size="7.2" text-anchor="start" fill="#c8143c" font-weight="normal" stroke="#c8143c" stroke-width="0.12" >shLuc</text>
<path d="M474.40 158.32L476.56 161.92L472.24 161.92Z" fill="#1e5a96"/>
<text transform="translate(478.60 162.50) scale(1 1.08)" font-size="7.2" text-anchor="start" fill="#1e5a96" font-weight="normal" stroke="#1e5a96" stroke-width="0.12" >shLNK #1</text>
<path d="M474.40 165.46L476.74 167.80L474.40 170.14L472.06 167.80Z" fill="#4c2072"/>
<text transform="translate(478.60 170.00) scale(1 1.08)" font-size="7.2" text-anchor="start" fill="#4c2072" font-weight="normal" stroke="#4c2072" stroke-width="0.12" >shLNK #3</text>
<text transform="translate(6.80 209.00) scale(1 1.08)" font-size="10" text-anchor="start" fill="#000" font-weight="bold" >C</text>
<rect x="42.60" y="217.10" width="51.90" height="52.70" fill="none" stroke="#c4c4c4" stroke-width="0.8"/>
<path d="M41.70 219.10h1.1M42.60 269.60v1.1M41.70 225.44h1.1M49.09 269.60v1.1M41.70 231.78h1.1M55.58 269.60v1.1M41.70 238.11h1.1M62.06 269.60v1.1M41.70 244.45h1.1M68.55 269.60v1.1M41.70 250.79h1.1M75.04 269.60v1.1M41.70 257.12h1.1M81.53 269.60v1.1M41.70 263.46h1.1M88.01 269.60v1.1M41.70 269.80h1.1M94.50 269.60v1.1" stroke="#555" stroke-width="0.5"/>
<text transform="translate(52.60 214.90) scale(1 1.08)" font-size="8.2" text-anchor="start" fill="#cc1030" font-weight="normal" stroke="#cc1030" stroke-width="0.12" >hCD45+</text>
<text transform="translate(38.00 244.60) rotate(-90) scale(1 1.08)" font-size="7.9" text-anchor="middle" fill="#1a1a1a" stroke="#1a1a1a" stroke-width="0.12">CD38</text>
<text transform="translate(57.60 279.60) scale(1 1.08)" font-size="8" text-anchor="start" fill="#1a1a1a" font-weight="normal" stroke="#1a1a1a" stroke-width="0.12" >CD34</text>
<path d="M51 225h3v1h-3zM63 227h1v1h-1zM65 227h3v1h-3zM70 230h1v1h-1zM49 233h1v1h-1zM71 233h1v1h-1zM71 234h1v1h-1zM70 235h1v1h-1zM50 239h1v1h-1zM62 239h2v1h-2zM67 239h1v1h-1zM61 240h1v1h-1zM61 241h1v1h-1zM61 242h1v1h-1zM50 243h1v1h-1zM60 243h2v1h-2zM58 244h1v1h-1zM60 244h1v1h-1zM60 245h1v1h-1zM58 246h1v1h-1zM60 246h1v1h-1zM58 247h2v1h-2zM61 247h1v1h-1zM51 248h1v1h-1zM59 248h1v1h-1zM51 249h1v1h-1zM58 249h2v1h-2zM61 249h1v1h-1zM51 250h1v1h-1zM58 250h2v1h-2zM58 251h2v1h-2zM58 252h1v1h-1zM51 254h1v1h-1zM51 255h1v1h-1zM57 257h1v1h-1zM57 258h1v1h-1zM57 259h1v1h-1zM52 264h1v1h-1zM56 264h1v1h-1zM52 265h1v1h-1zM55 268h1v1h-1z" fill="#0012f5"/>
<path d="M51 226h1v1h-1zM57 226h1v1h-1zM50 227h1v1h-1zM59 227h3v1h-3zM50 228h1v1h-1zM65 228h1v1h-1zM67 228h1v1h-1zM50 229h1v1h-1zM68 229h1v1h-1zM50 230h1v1h-1zM69 230h1v1h-1zM50 231h1v1h-1zM70 231h1v1h-1zM50 232h1v1h-1zM70 232h1v1h-1zM70 233h1v1h-1zM70 234h1v1h-1zM50 236h1v1h-1zM69 236h1v1h-1zM50 237h1v1h-1zM68 237h1v1h-1zM50 238h1v1h-1zM65 238h1v1h-1zM67 238h1v1h-1zM58 239h1v1h-1zM60 239h2v1h-2zM58 240h1v1h-1zM60 240h1v1h-1zM58 241h3v1h-3zM59 242h1v1h-1zM51 243h1v1h-1zM58 243h2v1h-2zM51 244h1v1h-1zM59 244h1v1h-1zM51 245h1v1h-1zM59 245h1v1h-1zM51 246h1v1h-1zM59 246h1v1h-1zM51 247h1v1h-1zM57 255h1v1h-1zM57 256h1v1h-1zM52 260h1v1h-1zM52 261h1v1h-1zM52 262h1v1h-1zM56 262h1v1h-1zM52 263h1v1h-1zM56 263h1v1h-1zM55 267h1v1h-1zM53 269h1v1h-1z" fill="#001bfc"/>
<path d="M52 226h5v1h-5zM51 227h1v1h-1zM57 227h2v1h-2zM51 228h1v1h-1zM57 228h1v1h-1zM59 228h6v1h-6zM66 228h1v1h-1zM57 229h1v1h-1zM61 229h7v1h-7zM62 230h2v1h-2zM65 230h4v1h-4zM62 231h8v1h-8zM62 232h3v1h-3zM66 232h4v1h-4zM50 233h1v1h-1zM63 233h1v1h-1zM65 233h5v1h-5zM50 234h1v1h-1zM63 234h7v1h-7zM50 235h1v1h-1zM61 235h2v1h-2zM64 235h6v1h-6zM67 237h1v1h-1zM62 238h3v1h-3zM66 238h1v1h-1zM51 239h1v1h-1zM59 239h1v1h-1zM51 240h1v1h-1zM57 240h1v1h-1zM59 240h1v1h-1zM51 241h1v1h-1zM51 242h1v1h-1zM57 243h1v1h-1zM57 252h1v1h-1zM52 253h1v1h-1zM57 253h1v1h-1zM52 254h1v1h-1zM57 254h1v1h-1zM52 255h1v1h-1zM52 256h1v1h-1zM52 257h1v1h-1zM52 258h1v1h-1zM52 259h1v1h-1zM56 260h1v1h-1zM56 261h1v1h-1zM53 264h1v1h-1zM53 265h1v1h-1zM55 265h1v1h-1zM53 266h1v1h-1zM55 266h1v1h-1zM53 267h1v1h-1zM53 268h1v1h-1z" fill="#0032ff"/>
<path d="M52 227h1v1h-1zM56 227h1v1h-1zM58 228h1v1h-1zM51 229h1v1h-1zM59 229h2v1h-2zM51 230h1v1h-1zM57 230h1v1h-1zM59 230h3v1h-3zM64 230h1v1h-1zM59 231h3v1h-3zM59 232h3v1h-3zM65 232h1v1h-1zM59 233h4v1h-4zM64 233h1v1h-1zM59 234h4v1h-4zM59 235h2v1h-2zM63 235h1v1h-1zM67 236h2v1h-2zM57 237h1v1h-1zM62 237h5v1h-5zM51 238h1v1h-1zM57 238h2v1h-2zM60 238h2v1h-2zM57 239h1v1h-1zM52 241h1v1h-1zM57 241h1v1h-1zM52 242h1v1h-1zM57 242h1v1h-1zM52 244h1v1h-1zM57 244h1v1h-1zM52 245h1v1h-1zM57 245h1v1h-1zM57 246h1v1h-1zM52 247h1v1h-1zM57 247h1v1h-1zM52 248h1v1h-1zM57 248h1v1h-1zM52 249h1v1h-1zM57 249h1v1h-1zM52 250h1v1h-1zM57 250h1v1h-1zM52 251h1v1h-1zM57 251h1v1h-1zM52 252h1v1h-1zM56 257h1v1h-1zM53 258h1v1h-1zM56 258h1v1h-1zM53 259h1v1h-1zM56 259h1v1h-1zM53 260h3v1h-3zM53 261h1v1h-1zM55 261h1v1h-1zM53 262h3v1h-3zM53 263h3v1h-3zM54 264h2v1h-2zM54 265h1v1h-1zM54 266h1v1h-1zM54 267h1v1h-1zM54 268h1v1h-1zM54 269h1v1h-1z" fill="#0051ff"/>
<path d="M53 227h3v1h-3zM52 228h1v1h-1zM56 228h1v1h-1zM58 229h1v1h-1zM58 230h1v1h-1zM51 231h1v1h-1zM57 231h2v1h-2zM57 232h1v1h-1zM57 233h1v1h-1zM57 234h1v1h-1zM57 235h1v1h-1zM51 236h1v1h-1zM57 236h2v1h-2zM61 236h6v1h-6zM51 237h1v1h-1zM58 237h1v1h-1zM60 237h2v1h-2zM59 238h1v1h-1zM52 239h1v1h-1zM52 240h1v1h-1zM52 243h1v1h-1zM52 246h1v1h-1zM53 255h1v1h-1zM56 255h1v1h-1zM53 256h1v1h-1zM56 256h1v1h-1zM53 257h1v1h-1zM54 258h2v1h-2zM54 259h2v1h-2zM54 261h1v1h-1z" fill="#0070ff"/>
<path d="M53 228h1v1h-1zM55 228h1v1h-1zM52 229h1v1h-1zM56 229h1v1h-1zM51 232h1v1h-1zM58 232h1v1h-1zM51 233h1v1h-1zM58 233h1v1h-1zM51 234h1v1h-1zM58 234h1v1h-1zM51 235h1v1h-1zM58 235h1v1h-1zM60 236h1v1h-1zM59 237h1v1h-1zM56 239h1v1h-1zM56 240h1v1h-1zM56 241h1v1h-1zM53 242h1v1h-1zM56 242h1v1h-1zM56 243h1v1h-1zM53 253h1v1h-1zM56 253h1v1h-1zM53 254h1v1h-1zM56 254h1v1h-1zM54 256h2v1h-2zM54 257h2v1h-2z" fill="#0090ff"/>
<path d="M54 228h1v1h-1zM52 230h1v1h-1zM56 230h1v1h-1zM59 236h1v1h-1zM52 238h1v1h-1zM56 238h1v1h-1zM53 240h1v1h-1zM53 241h1v1h-1zM53 243h1v1h-1zM53 244h1v1h-1zM56 244h1v1h-1zM53 245h1v1h-1zM56 245h1v1h-1zM53 252h1v1h-1zM56 252h1v1h-1zM54 255h1v1h-1z" fill="#00adfd"/>
<path d="M53 229h1v1h-1zM55 229h1v1h-1zM56 231h1v1h-1zM52 237h1v1h-1zM56 237h1v1h-1zM53 239h1v1h-1zM55 240h1v1h-1zM54 241h2v1h-2zM55 242h1v1h-1zM53 246h1v1h-1zM56 246h1v1h-1zM53 247h1v1h-1zM56 247h1v1h-1zM53 248h1v1h-1zM53 249h1v1h-1zM56 249h1v1h-1zM53 250h1v1h-1zM56 250h1v1h-1zM53 251h1v1h-1zM56 251h1v1h-1zM54 254h2v1h-2zM55 255h1v1h-1z" fill="#00c0ef"/>
<path d="M54 229h1v1h-1zM52 231h1v1h-1zM56 232h1v1h-1zM56 236h1v1h-1zM55 239h1v1h-1zM54 240h1v1h-1zM54 242h1v1h-1zM54 243h2v1h-2zM56 248h1v1h-1zM54 253h2v1h-2z" fill="#00d4e2"/>
<path d="M49 230h1v1h-1zM49 236h1v1h-1zM63 242h1v1h-1zM66 242h1v1h-1zM65 243h2v1h-2zM50 245h1v1h-1zM64 245h1v1h-1zM62 246h1v1h-1zM59 254h1v1h-1zM58 255h1v1h-1z" fill="#0009ed"/>
<path d="M53 230h1v1h-1zM55 230h1v1h-1zM56 233h1v1h-1zM56 235h1v1h-1zM52 236h1v1h-1zM53 238h1v1h-1zM55 238h1v1h-1zM54 239h1v1h-1zM54 244h2v1h-2zM54 252h1v1h-1z" fill="#00e7d5"/>
<path d="M54 230h1v1h-1zM56 234h1v1h-1zM53 237h1v1h-1zM54 238h1v1h-1zM54 245h2v1h-2zM55 251h1v1h-1zM55 252h1v1h-1z" fill="#0aecb3"/>
<path d="M53 231h1v1h-1z" fill="#63f033"/>
<path d="M54 231h1v1h-1zM55 235h1v1h-1z" fill="#b4f00a"/>
<path d="M55 231h1v1h-1zM55 236h1v1h-1zM54 237h1v1h-1zM54 248h2v1h-2zM54 249h2v1h-2z" fill="#21ef66"/>
<path d="M52 232h1v1h-1zM52 235h1v1h-1zM55 237h1v1h-1zM54 246h2v1h-2zM54 247h2v1h-2zM54 250h2v1h-2zM54 251h1v1h-1z" fill="#15ee8c"/>
<path d="M53 232h1v1h-1z" fill="#ff4500"/>
<path d="M54 232h1v1h-1zM53 233h2v1h-2zM53 234h2v1h-2z" fill="#e60000"/>
<path d="M55 232h1v1h-1z" fill="#cfe700"/>
<path d="M52 233h1v1h-1zM52 234h1v1h-1zM53 236h1v1h-1z" fill="#3af047"/>
<path d="M55 233h1v1h-1zM54 235h1v1h-1z" fill="#ff9300"/>
<path d="M55 234h1v1h-1zM53 235h1v1h-1z" fill="#ebc300"/>
<path d="M54 236h1v1h-1z" fill="#8cf01e"/>
<path d="M57.5 223.0h.7v.7h-.7zM61.5 223.1h.7v.7h-.7zM55.5 224.0h.7v.7h-.7zM56.2 224.5h.7v.7h-.7zM57.3 224.4h.7v.7h-.7zM60.1 224.3h.7v.7h-.7zM54.2 225.2h.7v.7h-.7zM55.1 225.4h.7v.7h-.7zM58.4 225.5h.7v.7h-.7zM48.4 226.5h.7v.7h-.7zM50.1 226.1h.7v.7h-.7zM59.5 226.5h.7v.7h-.7zM62.2 226.3h.7v.7h-.7zM49.6 227.3h.7v.7h-.7zM62.3 227.6h.7v.7h-.7zM49.3 228.0h.7v.7h-.7zM68.1 228.4h.7v.7h-.7zM71.1 231.1h.7v.7h-.7zM49.5 234.5h.7v.7h-.7zM49.2 237.1h.7v.7h-.7zM69.0 237.4h.7v.7h-.7zM68.1 238.3h.7v.7h-.7zM70.1 238.1h.7v.7h-.7zM65.4 239.4h.7v.7h-.7zM68.1 239.0h.7v.7h-.7zM70.4 239.3h.7v.7h-.7zM49.1 240.1h.7v.7h-.7zM50.3 240.1h.7v.7h-.7zM62.0 240.3h.7v.7h-.7zM67.0 240.1h.7v.7h-.7zM68.2 240.5h.7v.7h-.7zM71.3 240.5h.7v.7h-.7zM50.4 241.3h.7v.7h-.7zM62.2 241.4h.7v.7h-.7zM63.1 241.2h.7v.7h-.7zM64.4 241.2h.7v.7h-.7zM65.4 241.5h.7v.7h-.7zM50.5 242.4h.7v.7h-.7zM60.2 242.1h.7v.7h-.7zM70.2 242.2h.7v.7h-.7zM62.3 243.2h.7v.7h-.7zM61.5 244.1h.7v.7h-.7zM62.1 244.3h.7v.7h-.7zM64.5 244.1h.7v.7h-.7zM68.1 244.5h.7v.7h-.7zM58.4 245.6h.7v.7h-.7zM65.5 245.3h.7v.7h-.7zM49.1 246.5h.7v.7h-.7zM50.5 247.1h.7v.7h-.7zM60.2 247.2h.7v.7h-.7zM62.2 247.3h.7v.7h-.7zM63.5 247.5h.7v.7h-.7zM67.0 247.6h.7v.7h-.7zM48.3 248.1h.7v.7h-.7zM50.4 248.3h.7v.7h-.7zM62.3 248.6h.7v.7h-.7zM63.5 248.6h.7v.7h-.7zM64.5 248.4h.7v.7h-.7zM67.5 248.6h.7v.7h-.7zM50.2 249.6h.7v.7h-.7zM60.5 249.1h.7v.7h-.7zM65.1 249.4h.7v.7h-.7zM68.2 249.6h.7v.7h-.7zM70.2 249.1h.7v.7h-.7zM48.5 250.2h.7v.7h-.7zM63.6 250.5h.7v.7h-.7zM64.3 250.6h.7v.7h-.7zM65.4 250.1h.7v.7h-.7zM66.6 250.2h.7v.7h-.7zM67.4 251.0h.7v.7h-.7zM51.4 252.1h.7v.7h-.7zM59.3 252.4h.7v.7h-.7zM62.3 252.6h.7v.7h-.7zM63.5 252.0h.7v.7h-.7zM69.3 252.6h.7v.7h-.7zM70.0 252.2h.7v.7h-.7zM63.2 254.4h.7v.7h-.7zM67.5 254.4h.7v.7h-.7zM69.5 254.5h.7v.7h-.7zM59.4 255.4h.7v.7h-.7zM64.2 255.4h.7v.7h-.7zM65.5 255.3h.7v.7h-.7zM51.5 257.4h.7v.7h-.7zM59.4 257.5h.7v.7h-.7zM49.5 258.4h.7v.7h-.7zM51.2 258.4h.7v.7h-.7zM51.5 259.6h.7v.7h-.7zM62.1 259.0h.7v.7h-.7zM48.2 260.0h.7v.7h-.7zM60.6 260.2h.7v.7h-.7zM50.2 262.1h.7v.7h-.7zM57.0 263.2h.7v.7h-.7zM58.0 263.3h.7v.7h-.7zM49.1 264.4h.7v.7h-.7zM51.2 264.3h.7v.7h-.7zM58.3 264.0h.7v.7h-.7zM50.5 265.6h.7v.7h-.7zM51.5 266.4h.7v.7h-.7zM56.1 266.1h.7v.7h-.7zM50.2 267.5h.7v.7h-.7zM52.3 267.0h.7v.7h-.7zM57.4 267.5h.7v.7h-.7zM52.0 268.6h.7v.7h-.7zM59.3 268.3h.7v.7h-.7z" fill="#1428ff" fill-opacity="0.7"/>
<path d="M71.1 250.3h0.7v0.7h-0.7zM65.0 240.3h0.7v0.7h-0.7zM62.7 247.7h0.7v0.7h-0.7zM63.2 244.4h0.7v0.7h-0.7zM66.2 247.7h0.7v0.7h-0.7zM65.7 250.7h0.7v0.7h-0.7zM64.1 246.0h0.7v0.7h-0.7zM64.9 248.3h0.7v0.7h-0.7zM63.5 247.0h0.7v0.7h-0.7zM67.4 240.1h0.7v0.7h-0.7zM65.6 249.7h0.7v0.7h-0.7zM62.1 250.7h0.7v0.7h-0.7zM68.9 254.1h0.7v0.7h-0.7zM67.9 245.7h0.7v0.7h-0.7zM62.5 246.3h0.7v0.7h-0.7zM66.6 249.3h0.7v0.7h-0.7zM63.4 257.2h0.7v0.7h-0.7zM64.4 247.1h0.7v0.7h-0.7zM68.1 243.8h0.7v0.7h-0.7zM66.7 252.0h0.7v0.7h-0.7zM68.2 247.2h0.7v0.7h-0.7zM70.9 244.4h0.7v0.7h-0.7zM63.1 241.6h0.7v0.7h-0.7zM62.6 248.7h0.7v0.7h-0.7zM64.6 238.7h0.7v0.7h-0.7zM64.6 240.7h0.7v0.7h-0.7zM65.1 256.8h0.7v0.7h-0.7zM70.8 244.9h0.7v0.7h-0.7zM63.8 241.7h0.7v0.7h-0.7zM60.7 245.4h0.7v0.7h-0.7zM64.8 246.3h0.7v0.7h-0.7zM63.5 250.6h0.7v0.7h-0.7zM72.7 244.9h0.7v0.7h-0.7zM62.4 249.2h0.7v0.7h-0.7zM64.3 249.9h0.7v0.7h-0.7zM65.4 254.1h0.7v0.7h-0.7zM69.4 239.3h0.7v0.7h-0.7zM64.5 243.6h0.7v0.7h-0.7zM61.8 246.5h0.7v0.7h-0.7zM64.8 240.8h0.7v0.7h-0.7zM61.2 249.7h0.7v0.7h-0.7zM69.3 242.8h0.7v0.7h-0.7zM64.9 248.7h0.7v0.7h-0.7zM68.4 256.6h0.7v0.7h-0.7zM64.7 242.8h0.7v0.7h-0.7zM62.2 241.3h0.7v0.7h-0.7zM62.2 245.0h0.7v0.7h-0.7zM73.3 247.4h0.7v0.7h-0.7zM61.5 240.1h0.7v0.7h-0.7zM67.4 243.4h0.7v0.7h-0.7zM68.5 237.9h0.7v0.7h-0.7zM64.6 250.4h0.7v0.7h-0.7zM63.3 250.3h0.7v0.7h-0.7zM61.7 243.6h0.7v0.7h-0.7zM62.4 247.5h0.7v0.7h-0.7zM66.8 243.0h0.7v0.7h-0.7zM59.5 248.1h0.7v0.7h-0.7zM67.0 242.5h0.7v0.7h-0.7zM67.6 242.5h0.7v0.7h-0.7zM59.8 244.5h0.7v0.7h-0.7zM67.7 246.8h0.7v0.7h-0.7zM64.1 246.5h0.7v0.7h-0.7zM64.7 242.5h0.7v0.7h-0.7zM61.1 244.1h0.7v0.7h-0.7zM59.6 245.1h0.7v0.7h-0.7zM64.4 243.2h0.7v0.7h-0.7zM61.5 244.3h0.7v0.7h-0.7zM63.0 256.2h0.7v0.7h-0.7zM59.5 245.6h0.7v0.7h-0.7zM59.8 245.7h0.7v0.7h-0.7zM62.6 239.8h0.7v0.7h-0.7zM60.1 244.6h0.7v0.7h-0.7zM69.1 242.7h0.7v0.7h-0.7zM63.7 253.7h0.7v0.7h-0.7zM70.3 242.0h0.7v0.7h-0.7zM65.2 248.3h0.7v0.7h-0.7zM62.7 246.8h0.7v0.7h-0.7zM64.1 248.3h0.7v0.7h-0.7zM65.6 243.9h0.7v0.7h-0.7zM68.5 255.7h0.7v0.7h-0.7zM66.4 245.1h0.7v0.7h-0.7zM67.4 244.2h0.7v0.7h-0.7zM65.0 242.9h0.7v0.7h-0.7zM60.2 249.0h0.7v0.7h-0.7zM62.8 249.4h0.7v0.7h-0.7zM61.7 254.7h0.7v0.7h-0.7zM68.4 246.9h0.7v0.7h-0.7zM63.4 246.4h0.7v0.7h-0.7zM61.6 253.3h0.7v0.7h-0.7zM62.7 245.8h0.7v0.7h-0.7zM70.1 245.0h0.7v0.7h-0.7zM65.6 245.5h0.7v0.7h-0.7zM63.9 247.7h0.7v0.7h-0.7zM64.5 241.3h0.7v0.7h-0.7zM66.5 250.6h0.7v0.7h-0.7zM69.5 240.1h0.7v0.7h-0.7zM63.9 249.4h0.7v0.7h-0.7zM68.0 242.2h0.7v0.7h-0.7zM63.5 243.5h0.7v0.7h-0.7zM69.0 249.2h0.7v0.7h-0.7zM62.8 247.1h0.7v0.7h-0.7zM68.6 242.8h0.7v0.7h-0.7zM64.5 243.6h0.7v0.7h-0.7zM64.8 244.3h0.7v0.7h-0.7zM66.5 241.0h0.7v0.7h-0.7zM61.6 252.5h0.7v0.7h-0.7zM66.5 243.9h0.7v0.7h-0.7zM66.9 251.3h0.7v0.7h-0.7zM64.1 248.9h0.7v0.7h-0.7zM64.6 247.6h0.7v0.7h-0.7zM64.9 251.0h0.7v0.7h-0.7zM62.0 255.5h0.7v0.7h-0.7zM63.0 252.8h0.7v0.7h-0.7zM65.4 251.0h0.7v0.7h-0.7zM66.6 246.5h0.7v0.7h-0.7zM69.7 246.9h0.7v0.7h-0.7zM61.8 244.8h0.7v0.7h-0.7zM69.1 252.9h0.7v0.7h-0.7zM60.3 248.9h0.7v0.7h-0.7zM65.8 240.8h0.7v0.7h-0.7zM67.2 245.4h0.7v0.7h-0.7zM66.7 237.8h0.7v0.7h-0.7zM61.7 241.4h0.7v0.7h-0.7zM63.3 247.6h0.7v0.7h-0.7zM64.9 247.7h0.7v0.7h-0.7zM63.8 241.4h0.7v0.7h-0.7zM64.8 248.2h0.7v0.7h-0.7zM62.6 241.7h0.7v0.7h-0.7zM64.1 251.0h0.7v0.7h-0.7zM62.0 246.9h0.7v0.7h-0.7zM61.4 247.6h0.7v0.7h-0.7zM73.1 242.2h0.7v0.7h-0.7zM61.5 244.7h0.7v0.7h-0.7zM66.9 244.9h0.7v0.7h-0.7zM63.9 246.2h0.7v0.7h-0.7zM61.1 250.6h0.7v0.7h-0.7zM61.7 245.9h0.7v0.7h-0.7zM63.7 246.0h0.7v0.7h-0.7zM63.9 248.6h0.7v0.7h-0.7zM63.2 247.0h0.7v0.7h-0.7zM67.0 246.7h0.7v0.7h-0.7zM64.5 253.9h0.7v0.7h-0.7zM61.0 238.0h0.7v0.7h-0.7zM66.5 241.9h0.7v0.7h-0.7zM67.3 253.8h0.7v0.7h-0.7zM63.3 244.6h0.7v0.7h-0.7zM60.0 239.0h0.7v0.7h-0.7zM64.7 243.0h0.7v0.7h-0.7zM59.9 244.9h0.7v0.7h-0.7zM66.1 239.0h0.7v0.7h-0.7zM68.1 240.3h0.7v0.7h-0.7zM63.1 241.9h0.7v0.7h-0.7zM65.8 246.6h0.7v0.7h-0.7zM62.9 248.2h0.7v0.7h-0.7zM66.3 239.4h0.7v0.7h-0.7zM60.6 239.9h0.7v0.7h-0.7zM62.3 239.7h0.7v0.7h-0.7zM70.3 246.2h0.7v0.7h-0.7zM64.0 238.9h0.7v0.7h-0.7zM69.2 250.0h0.7v0.7h-0.7zM64.0 248.4h0.7v0.7h-0.7zM63.4 255.7h0.7v0.7h-0.7zM65.6 255.5h0.7v0.7h-0.7zM68.0 244.9h0.7v0.7h-0.7zM61.0 250.6h0.7v0.7h-0.7zM60.3 240.2h0.7v0.7h-0.7zM65.7 247.6h0.7v0.7h-0.7zM63.9 255.9h0.7v0.7h-0.7zM62.5 253.3h0.7v0.7h-0.7zM65.2 246.2h0.7v0.7h-0.7zM63.4 254.9h0.7v0.7h-0.7zM62.1 237.6h0.7v0.7h-0.7zM62.9 253.0h0.7v0.7h-0.7zM60.2 247.5h0.7v0.7h-0.7zM69.4 254.6h0.7v0.7h-0.7zM67.0 261.8h0.7v0.7h-0.7zM64.6 245.6h0.7v0.7h-0.7zM67.7 244.7h0.7v0.7h-0.7zM63.7 250.1h0.7v0.7h-0.7zM66.3 244.6h0.7v0.7h-0.7zM62.3 244.4h0.7v0.7h-0.7zM68.4 254.2h0.7v0.7h-0.7zM63.3 241.8h0.7v0.7h-0.7zM67.2 241.9h0.7v0.7h-0.7zM64.3 246.1h0.7v0.7h-0.7zM60.2 246.3h0.7v0.7h-0.7zM63.4 249.1h0.7v0.7h-0.7zM62.3 250.3h0.7v0.7h-0.7zM64.1 245.7h0.7v0.7h-0.7zM69.8 255.4h0.7v0.7h-0.7zM63.2 251.6h0.7v0.7h-0.7zM61.2 243.0h0.7v0.7h-0.7zM61.5 248.1h0.7v0.7h-0.7zM65.5 246.8h0.7v0.7h-0.7zM65.5 241.8h0.7v0.7h-0.7zM66.4 244.2h0.7v0.7h-0.7zM63.6 253.1h0.7v0.7h-0.7zM65.2 251.4h0.7v0.7h-0.7zM71.0 242.6h0.7v0.7h-0.7zM65.9 238.2h0.7v0.7h-0.7zM71.1 238.6h0.7v0.7h-0.7zM69.4 249.0h0.7v0.7h-0.7zM62.2 242.1h0.7v0.7h-0.7zM71.6 250.2h0.7v0.7h-0.7zM66.8 250.9h0.7v0.7h-0.7zM62.4 250.2h0.7v0.7h-0.7zM63.7 254.7h0.7v0.7h-0.7zM62.6 253.3h0.7v0.7h-0.7zM62.3 248.2h0.7v0.7h-0.7zM65.3 249.5h0.7v0.7h-0.7zM67.4 242.1h0.7v0.7h-0.7zM65.4 258.8h0.7v0.7h-0.7zM67.8 245.9h0.7v0.7h-0.7zM65.5 249.0h0.7v0.7h-0.7zM66.7 249.0h0.7v0.7h-0.7zM66.2 248.4h0.7v0.7h-0.7zM63.8 253.8h0.7v0.7h-0.7zM68.4 239.5h0.7v0.7h-0.7zM60.9 249.2h0.7v0.7h-0.7zM60.6 245.1h0.7v0.7h-0.7zM63.3 247.8h0.7v0.7h-0.7zM62.4 261.5h0.7v0.7h-0.7zM66.9 251.0h0.7v0.7h-0.7zM64.6 250.7h0.7v0.7h-0.7zM64.0 252.1h0.7v0.7h-0.7z" fill="#2030ff" fill-opacity="0.55"/>
<path d="M58.50 224.10L90.20 223.20L90.20 267.10L63.60 267.60Z" fill="none" stroke="#3a3a3a" stroke-width="0.5"/>
<path d="M58.80 226.40L82.40 225.60L83.20 236.00L60.30 237.60Z" fill="none" stroke="#3a3a3a" stroke-width="0.55"/>
<path d="M60.30 237.60L83.20 236.00L86.40 266.80L63.60 267.20Z" fill="none" stroke="#3a3a3a" stroke-width="0.55"/>
<line x1="94.60" y1="242.60" x2="134.30" y2="242.60" stroke="#c8143c" stroke-width="0.95" />
<path d="M140.30 242.60L134.30 245.80L134.30 239.40Z" fill="#c8143c"/>
<line x1="81.60" y1="259.80" x2="81.60" y2="276.50" stroke="#c8143c" stroke-width="0.95" />
<path d="M81.60 282.50L78.40 276.50L84.80 276.50Z" fill="#c8143c"/>
<rect x="155.10" y="217.50" width="51.90" height="53.40" fill="none" stroke="#c4c4c4" stroke-width="0.8"/>
<path d="M154.20 219.50h1.1M155.10 270.70v1.1M154.20 225.93h1.1M161.59 270.70v1.1M154.20 232.35h1.1M168.07 270.70v1.1M154.20 238.77h1.1M174.56 270.70v1.1M154.20 245.20h1.1M181.05 270.70v1.1M154.20 251.62h1.1M187.54 270.70v1.1M154.20 258.05h1.1M194.03 270.70v1.1M154.20 264.47h1.1M200.51 270.70v1.1M154.20 270.90h1.1M207.00 270.70v1.1" stroke="#555" stroke-width="0.5"/>
<text transform="translate(167.30 214.80) scale(1 1.08)" font-size="8" text-anchor="start" fill="#cc1030" font-weight="normal" stroke="#cc1030" stroke-width="0.12" >CD34+</text>
<text transform="translate(149.90 245.00) rotate(-90) scale(1 1.08)" font-size="7.3" text-anchor="middle" fill="#1a1a1a" stroke="#1a1a1a" stroke-width="0.12">mCherry</text>
<text transform="translate(180.60 280.60) scale(1 1.08)" font-size="7.6" text-anchor="middle" fill="#1a1a1a" font-weight="normal" stroke="#1a1a1a" stroke-width="0.12" >FSC-A</text>
<path d="M171 231h2v1h-2zM175 231h1v1h-1zM181 232h1v1h-1zM184 232h1v1h-1zM187 232h5v1h-5zM194 232h1v1h-1zM198 233h1v1h-1zM197 234h1v1h-1zM198 237h1v1h-1zM197 242h1v1h-1zM196 243h1v1h-1zM197 244h1v1h-1zM196 245h2v1h-2zM195 246h1v1h-1zM197 246h1v1h-1zM195 247h1v1h-1zM197 247h1v1h-1zM195 248h2v1h-2zM194 249h1v1h-1zM189 250h1v1h-1zM191 250h1v1h-1zM193 250h4v1h-4zM177 251h4v1h-4zM184 251h1v1h-1zM171 252h2v1h-2zM175 252h2v1h-2zM179 252h1v1h-1zM181 252h1v1h-1zM196 252h2v1h-2zM183 253h1v1h-1zM188 253h1v1h-1zM190 253h1v1h-1zM197 253h1v1h-1zM171 254h1v1h-1zM176 254h1v1h-1zM178 254h2v1h-2zM195 254h1v1h-1zM197 254h1v1h-1zM177 255h1v1h-1zM179 255h1v1h-1zM182 255h1v1h-1zM185 255h1v1h-1zM190 255h2v1h-2zM194 255h4v1h-4zM184 256h4v1h-4zM189 256h1v1h-1zM192 256h3v1h-3zM197 256h1v1h-1zM183 257h2v1h-2zM186 257h1v1h-1zM188 257h1v1h-1zM190 257h6v1h-6zM197 257h1v1h-1zM184 258h1v1h-1zM187 258h1v1h-1zM189 258h1v1h-1zM191 258h1v1h-1zM193 258h1v1h-1zM197 258h1v1h-1zM184 259h1v1h-1zM186 259h1v1h-1zM188 259h1v1h-1zM191 259h2v1h-2zM194 259h1v1h-1zM196 259h2v1h-2zM186 260h1v1h-1zM195 260h1v1h-1zM191 261h2v1h-2zM194 261h1v1h-1zM196 261h2v1h-2zM191 262h5v1h-5zM197 262h1v1h-1zM194 263h1v1h-1zM196 263h1v1h-1zM189 264h1v1h-1zM196 264h2v1h-2zM195 265h1v1h-1zM191 266h1v1h-1zM194 266h1v1h-1zM197 266h1v1h-1zM192 267h1v1h-1zM194 267h4v1h-4zM188 268h1v1h-1zM194 268h1v1h-1zM197 268h1v1h-1zM190 269h1v1h-1zM192 269h3v1h-3zM197 269h1v1h-1z" fill="#0012f5"/>
<path d="M171 232h5v1h-5zM176 233h8v1h-8zM185 233h1v1h-1zM188 233h1v1h-1zM190 233h2v1h-2zM181 234h1v1h-1zM183 234h1v1h-1zM185 234h2v1h-2zM188 234h8v1h-8zM196 235h1v1h-1zM196 236h2v1h-2zM197 237h1v1h-1zM197 238h1v1h-1zM197 239h1v1h-1zM195 241h1v1h-1zM195 242h1v1h-1zM194 243h2v1h-2zM193 244h2v1h-2zM193 245h1v1h-1zM182 247h1v1h-1zM186 247h1v1h-1zM189 247h2v1h-2zM193 247h1v1h-1zM183 248h6v1h-6zM190 248h1v1h-1zM176 249h2v1h-2zM180 249h3v1h-3zM184 249h2v1h-2zM188 249h2v1h-2zM175 250h3v1h-3zM179 250h1v1h-1zM181 250h2v1h-2zM172 256h5v1h-5zM172 257h1v1h-1zM174 257h2v1h-2zM175 258h3v1h-3zM177 259h2v1h-2zM183 259h1v1h-1zM178 260h1v1h-1zM181 260h1v1h-1zM184 260h1v1h-1zM179 261h1v1h-1zM181 261h5v1h-5zM180 262h3v1h-3zM184 262h4v1h-4zM184 263h3v1h-3zM182 264h3v1h-3zM186 264h1v1h-1zM185 265h1v1h-1zM187 265h1v1h-1zM184 266h2v1h-2zM179 267h1v1h-1zM181 267h1v1h-1zM183 267h1v1h-1zM185 267h1v1h-1zM178 268h2v1h-2zM184 268h1v1h-1zM186 268h1v1h-1zM172 269h1v1h-1zM175 269h1v1h-1zM180 269h1v1h-1zM182 269h2v1h-2zM188 269h1v1h-1z" fill="#0032ff"/>
<path d="M176 232h5v1h-5zM182 232h2v1h-2zM186 232h1v1h-1zM192 232h2v1h-2zM195 232h3v1h-3zM187 233h1v1h-1zM189 233h1v1h-1zM192 233h6v1h-6zM196 234h1v1h-1zM197 235h1v1h-1zM197 240h1v1h-1zM196 241h2v1h-2zM196 242h1v1h-1zM195 244h2v1h-2zM194 245h2v1h-2zM193 246h2v1h-2zM191 247h2v1h-2zM194 247h1v1h-1zM191 248h4v1h-4zM183 249h1v1h-1zM186 249h2v1h-2zM190 249h4v1h-4zM178 250h1v1h-1zM180 250h1v1h-1zM183 250h6v1h-6zM190 250h1v1h-1zM192 250h1v1h-1zM171 251h6v1h-6zM173 252h2v1h-2zM171 255h6v1h-6zM178 255h1v1h-1zM180 255h2v1h-2zM183 255h2v1h-2zM187 255h3v1h-3zM192 255h1v1h-1zM171 256h1v1h-1zM177 256h6v1h-6zM190 256h1v1h-1zM196 256h1v1h-1zM171 257h1v1h-1zM176 257h7v1h-7zM185 257h1v1h-1zM189 257h1v1h-1zM178 258h6v1h-6zM185 258h2v1h-2zM190 258h1v1h-1zM192 258h1v1h-1zM196 258h1v1h-1zM179 259h4v1h-4zM185 259h1v1h-1zM187 259h1v1h-1zM193 259h1v1h-1zM195 259h1v1h-1zM180 260h1v1h-1zM182 260h2v1h-2zM185 260h1v1h-1zM187 260h7v1h-7zM186 261h5v1h-5zM195 261h1v1h-1zM183 262h1v1h-1zM188 262h3v1h-3zM196 262h1v1h-1zM187 263h7v1h-7zM195 263h1v1h-1zM185 264h1v1h-1zM187 264h2v1h-2zM190 264h4v1h-4zM195 264h1v1h-1zM184 265h1v1h-1zM186 265h1v1h-1zM188 265h6v1h-6zM196 265h1v1h-1zM181 266h3v1h-3zM186 266h5v1h-5zM192 266h2v1h-2zM196 266h1v1h-1zM182 267h1v1h-1zM184 267h1v1h-1zM186 267h6v1h-6zM193 267h1v1h-1zM180 268h4v1h-4zM185 268h1v1h-1zM187 268h1v1h-1zM189 268h5v1h-5zM195 268h2v1h-2zM178 269h2v1h-2zM181 269h1v1h-1zM184 269h4v1h-4zM189 269h1v1h-1zM191 269h1v1h-1zM195 269h2v1h-2z" fill="#001bfc"/>
<path d="M171 233h1v1h-1zM183 235h1v1h-1zM187 235h1v1h-1zM189 235h3v1h-3zM193 235h1v1h-1zM191 242h2v1h-2zM184 243h2v1h-2zM187 243h1v1h-1zM189 243h1v1h-1zM191 243h3v1h-3zM186 244h1v1h-1zM189 244h2v1h-2zM178 245h1v1h-1zM182 245h1v1h-1zM185 245h4v1h-4zM191 245h1v1h-1zM177 246h3v1h-3zM185 246h2v1h-2zM188 246h3v1h-3zM179 247h1v1h-1zM181 247h1v1h-1zM184 247h1v1h-1zM177 248h2v1h-2zM171 249h1v1h-1zM173 249h3v1h-3zM171 250h1v1h-1zM174 250h1v1h-1zM174 258h1v1h-1zM171 259h1v1h-1zM173 259h1v1h-1zM178 261h1v1h-1zM178 263h2v1h-2zM177 266h1v1h-1zM178 267h1v1h-1zM174 268h1v1h-1z" fill="#0070ff"/>
<path d="M172 233h3v1h-3zM174 234h1v1h-1zM177 234h1v1h-1zM178 235h4v1h-4zM188 235h1v1h-1zM192 236h1v1h-1zM194 236h2v1h-2zM196 239h1v1h-1zM193 241h2v1h-2zM184 242h2v1h-2zM187 242h2v1h-2zM183 243h1v1h-1zM190 243h1v1h-1zM181 244h2v1h-2zM187 244h1v1h-1zM191 244h1v1h-1zM179 245h2v1h-2zM184 245h1v1h-1zM181 246h2v1h-2zM177 247h1v1h-1zM172 249h1v1h-1zM171 260h1v1h-1zM177 261h1v1h-1zM178 262h1v1h-1zM178 264h1v1h-1zM177 265h1v1h-1zM171 266h1v1h-1zM172 267h1v1h-1zM175 267h2v1h-2zM172 268h1v1h-1zM175 268h1v1h-1z" fill="#0090ff"/>
<path d="M175 233h1v1h-1zM184 233h1v1h-1zM186 233h1v1h-1zM178 234h3v1h-3zM182 234h1v1h-1zM184 234h1v1h-1zM187 234h1v1h-1zM184 235h3v1h-3zM192 235h1v1h-1zM194 235h2v1h-2zM196 237h1v1h-1zM196 238h1v1h-1zM196 240h1v1h-1zM193 242h2v1h-2zM192 244h1v1h-1zM189 245h2v1h-2zM192 245h1v1h-1zM180 246h1v1h-1zM183 246h2v1h-2zM187 246h1v1h-1zM191 246h2v1h-2zM178 247h1v1h-1zM180 247h1v1h-1zM183 247h1v1h-1zM185 247h1v1h-1zM187 247h2v1h-2zM176 248h1v1h-1zM179 248h4v1h-4zM189 248h1v1h-1zM178 249h2v1h-2zM172 250h2v1h-2zM173 257h1v1h-1zM171 258h3v1h-3zM176 259h1v1h-1zM177 260h1v1h-1zM179 260h1v1h-1zM180 261h1v1h-1zM179 262h1v1h-1zM180 263h4v1h-4zM179 264h3v1h-3zM178 265h6v1h-6zM178 266h3v1h-3zM177 267h1v1h-1zM180 267h1v1h-1zM171 268h1v1h-1zM176 268h2v1h-2zM171 269h1v1h-1zM173 269h2v1h-2zM176 269h2v1h-2z" fill="#0051ff"/>
<path d="M171 234h3v1h-3zM176 234h1v1h-1zM182 235h1v1h-1zM188 236h1v1h-1zM193 236h1v1h-1zM195 237h1v1h-1zM194 240h2v1h-2zM192 241h1v1h-1zM180 242h3v1h-3zM179 243h2v1h-2zM186 243h1v1h-1zM188 243h1v1h-1zM180 244h1v1h-1zM183 244h3v1h-3zM188 244h1v1h-1zM181 245h1v1h-1zM183 245h1v1h-1zM176 247h1v1h-1zM171 248h2v1h-2zM174 248h2v1h-2zM172 259h1v1h-1zM174 259h2v1h-2zM176 260h1v1h-1zM176 266h1v1h-1zM171 267h1v1h-1zM173 268h1v1h-1z" fill="#00adfd"/>
<path d="M175 234h1v1h-1zM171 235h1v1h-1zM180 236h1v1h-1zM184 236h4v1h-4zM189 236h1v1h-1zM191 236h1v1h-1zM195 238h1v1h-1zM195 239h1v1h-1zM185 241h1v1h-1zM188 241h1v1h-1zM190 241h2v1h-2zM179 242h1v1h-1zM183 242h1v1h-1zM186 242h1v1h-1zM189 242h2v1h-2zM178 243h1v1h-1zM181 243h2v1h-2zM177 244h3v1h-3zM177 245h1v1h-1zM176 246h1v1h-1zM171 247h1v1h-1zM175 247h1v1h-1zM173 248h1v1h-1zM175 260h1v1h-1zM171 261h1v1h-1zM176 261h1v1h-1zM177 262h1v1h-1zM177 263h1v1h-1zM177 264h1v1h-1zM173 267h2v1h-2z" fill="#00c0ef"/>
<path d="M172 235h1v1h-1zM179 236h1v1h-1zM186 237h3v1h-3zM190 237h1v1h-1zM192 237h1v1h-1zM193 238h2v1h-2zM193 239h1v1h-1zM189 240h3v1h-3zM179 241h1v1h-1zM177 242h1v1h-1zM176 245h1v1h-1zM171 246h1v1h-1zM173 247h2v1h-2zM173 260h2v1h-2zM175 261h1v1h-1zM171 262h1v1h-1zM176 263h1v1h-1zM171 264h1v1h-1zM176 264h1v1h-1zM172 266h1v1h-1z" fill="#00e7d5"/>
<path d="M173 235h2v1h-2zM176 235h1v1h-1zM185 237h1v1h-1zM189 237h1v1h-1zM191 238h2v1h-2zM190 239h3v1h-3zM183 240h6v1h-6zM178 241h1v1h-1zM176 243h1v1h-1zM176 244h1v1h-1zM175 246h1v1h-1zM171 263h1v1h-1zM175 265h1v1h-1zM173 266h2v1h-2z" fill="#0aecb3"/>
<path d="M175 235h1v1h-1zM171 236h1v1h-1zM178 236h1v1h-1zM181 237h4v1h-4zM187 238h4v1h-4zM184 239h1v1h-1zM186 239h1v1h-1zM188 239h2v1h-2zM179 240h4v1h-4zM177 241h1v1h-1zM176 242h1v1h-1zM171 245h1v1h-1zM172 246h1v1h-1zM172 261h1v1h-1zM172 265h1v1h-1z" fill="#15ee8c"/>
<path d="M177 235h1v1h-1zM181 236h3v1h-3zM190 236h1v1h-1zM191 237h1v1h-1zM193 237h2v1h-2zM194 239h1v1h-1zM192 240h2v1h-2zM180 241h5v1h-5zM186 241h2v1h-2zM189 241h1v1h-1zM178 242h1v1h-1zM177 243h1v1h-1zM172 247h1v1h-1zM172 260h1v1h-1zM176 262h1v1h-1zM171 265h1v1h-1zM176 265h1v1h-1zM175 266h1v1h-1z" fill="#00d4e2"/>
<path d="M172 236h1v1h-1zM171 237h1v1h-1zM179 239h1v1h-1zM174 241h1v1h-1zM172 242h3v1h-3zM174 243h1v1h-1zM175 244h1v1h-1zM174 264h1v1h-1z" fill="#63f033"/>
<path d="M173 236h1v1h-1zM175 236h2v1h-2zM175 240h1v1h-1z" fill="#cfe700"/>
<path d="M174 236h1v1h-1zM173 240h2v1h-2zM176 240h1v1h-1z" fill="#ddd500"/>
<path d="M177 236h1v1h-1zM179 237h1v1h-1zM180 238h2v1h-2zM181 239h1v1h-1zM171 240h1v1h-1zM178 240h1v1h-1zM175 241h2v1h-2zM175 243h1v1h-1zM172 245h1v1h-1zM173 246h1v1h-1zM174 262h1v1h-1zM172 263h1v1h-1zM172 264h1v1h-1zM175 264h1v1h-1zM173 265h2v1h-2z" fill="#3af047"/>
<path d="M172 237h1v1h-1zM172 239h1v1h-1z" fill="#f9b100"/>
<path d="M173 237h1v1h-1zM174 239h2v1h-2z" fill="#fc2400"/>
<path d="M174 237h1v1h-1zM173 238h4v1h-4z" fill="#e60000"/>
<path d="M175 237h1v1h-1z" fill="#f11200"/>
<path d="M176 237h1v1h-1zM176 239h1v1h-1z" fill="#ff4500"/>
<path d="M177 237h1v1h-1zM177 239h1v1h-1z" fill="#ebc300"/>
<path d="M178 237h1v1h-1zM171 238h1v1h-1zM179 238h1v1h-1zM171 239h1v1h-1zM172 240h1v1h-1zM177 240h1v1h-1zM172 241h2v1h-2zM172 243h1v1h-1zM172 244h1v1h-1zM173 245h2v1h-2zM173 262h1v1h-1zM173 263h2v1h-2z" fill="#8cf01e"/>
<path d="M180 237h1v1h-1zM182 238h5v1h-5zM180 239h1v1h-1zM182 239h2v1h-2zM185 239h1v1h-1zM187 239h1v1h-1zM171 241h1v1h-1zM171 242h1v1h-1zM175 242h1v1h-1zM171 243h1v1h-1zM171 244h1v1h-1zM175 245h1v1h-1zM174 246h1v1h-1zM173 261h2v1h-2zM172 262h1v1h-1zM175 262h1v1h-1zM175 263h1v1h-1z" fill="#21ef66"/>
<path d="M172 238h1v1h-1zM173 239h1v1h-1z" fill="#ff6c00"/>
<path d="M177 238h1v1h-1z" fill="#ff9300"/>
<path d="M178 238h1v1h-1zM178 239h1v1h-1zM173 243h1v1h-1zM173 244h2v1h-2zM173 264h1v1h-1z" fill="#b4f00a"/>
<path d="M183 252h1v1h-1zM187 253h1v1h-1zM193 253h1v1h-1zM181 254h1v1h-1z" fill="#0009ed"/>
<path d="M175.4 227.1h.7v.7h-.7zM183.0 228.4h.7v.7h-.7zM193.5 228.1h.7v.7h-.7zM194.3 228.6h.7v.7h-.7zM173.3 229.5h.7v.7h-.7zM175.1 229.1h.7v.7h-.7zM177.4 229.3h.7v.7h-.7zM190.5 229.2h.7v.7h-.7zM191.3 229.5h.7v.7h-.7zM192.0 229.0h.7v.7h-.7zM198.6 229.3h.7v.7h-.7zM174.6 230.3h.7v.7h-.7zM175.1 230.4h.7v.7h-.7zM176.1 230.3h.7v.7h-.7zM177.5 230.3h.7v.7h-.7zM182.5 230.1h.7v.7h-.7zM189.4 230.6h.7v.7h-.7zM194.4 230.2h.7v.7h-.7zM195.4 230.3h.7v.7h-.7zM173.0 231.4h.7v.7h-.7zM174.5 231.0h.7v.7h-.7zM176.3 231.5h.7v.7h-.7zM178.1 231.3h.7v.7h-.7zM186.4 231.1h.7v.7h-.7zM189.4 231.5h.7v.7h-.7zM190.3 231.3h.7v.7h-.7zM195.5 231.3h.7v.7h-.7zM197.2 231.3h.7v.7h-.7zM198.5 231.6h.7v.7h-.7zM185.1 232.5h.7v.7h-.7zM198.4 232.1h.7v.7h-.7zM198.3 238.6h.7v.7h-.7zM198.3 240.2h.7v.7h-.7zM198.6 242.4h.7v.7h-.7zM198.6 246.3h.7v.7h-.7zM196.5 247.0h.7v.7h-.7zM198.0 247.2h.7v.7h-.7zM197.3 248.2h.7v.7h-.7zM195.4 249.3h.7v.7h-.7zM197.2 249.4h.7v.7h-.7zM198.3 249.2h.7v.7h-.7zM181.3 251.1h.7v.7h-.7zM185.6 251.3h.7v.7h-.7zM186.2 251.4h.7v.7h-.7zM190.5 251.5h.7v.7h-.7zM191.5 251.0h.7v.7h-.7zM192.3 251.2h.7v.7h-.7zM195.1 251.2h.7v.7h-.7zM177.5 252.4h.7v.7h-.7zM180.2 252.2h.7v.7h-.7zM182.4 252.5h.7v.7h-.7zM188.5 252.5h.7v.7h-.7zM189.2 252.6h.7v.7h-.7zM190.3 252.3h.7v.7h-.7zM191.5 252.3h.7v.7h-.7zM192.5 252.3h.7v.7h-.7zM193.6 252.3h.7v.7h-.7zM194.3 252.2h.7v.7h-.7zM195.0 252.2h.7v.7h-.7zM198.3 252.2h.7v.7h-.7zM171.3 253.2h.7v.7h-.7zM173.3 253.3h.7v.7h-.7zM176.6 253.3h.7v.7h-.7zM179.2 253.0h.7v.7h-.7zM182.2 253.6h.7v.7h-.7zM184.1 253.4h.7v.7h-.7zM185.3 253.1h.7v.7h-.7zM194.2 253.6h.7v.7h-.7zM195.4 253.2h.7v.7h-.7zM196.5 253.5h.7v.7h-.7zM198.5 253.2h.7v.7h-.7zM199.6 253.6h.7v.7h-.7zM173.3 254.2h.7v.7h-.7zM174.5 254.2h.7v.7h-.7zM175.0 254.1h.7v.7h-.7zM180.4 254.2h.7v.7h-.7zM183.5 254.2h.7v.7h-.7zM184.2 254.5h.7v.7h-.7zM185.5 254.3h.7v.7h-.7zM188.6 254.1h.7v.7h-.7zM191.4 254.5h.7v.7h-.7zM196.3 254.5h.7v.7h-.7zM198.4 254.3h.7v.7h-.7zM199.3 254.5h.7v.7h-.7zM186.4 255.2h.7v.7h-.7zM193.1 255.2h.7v.7h-.7zM183.3 256.0h.7v.7h-.7zM188.1 256.3h.7v.7h-.7zM191.6 256.5h.7v.7h-.7zM198.1 256.4h.7v.7h-.7zM187.5 257.2h.7v.7h-.7zM196.3 257.0h.7v.7h-.7zM198.1 257.1h.7v.7h-.7zM188.2 258.1h.7v.7h-.7zM194.3 258.1h.7v.7h-.7zM189.4 259.1h.7v.7h-.7zM198.2 259.2h.7v.7h-.7zM196.0 260.4h.7v.7h-.7zM197.1 260.0h.7v.7h-.7zM193.2 261.5h.7v.7h-.7zM198.5 264.5h.7v.7h-.7zM198.5 266.2h.7v.7h-.7zM198.2 268.5h.7v.7h-.7z" fill="#1428ff" fill-opacity="0.7"/>
<path d="M158.60 220.40L204.70 220.40L204.70 252.30L168.40 252.30L161.50 244.90Z" fill="none" stroke="#3a3a3a" stroke-width="0.5"/>
<rect x="227.00" y="217.50" width="51.90" height="53.40" fill="none" stroke="#c4c4c4" stroke-width="0.8"/>
<path d="M226.10 219.50h1.1M227.00 270.70v1.1M226.10 225.93h1.1M233.49 270.70v1.1M226.10 232.35h1.1M239.97 270.70v1.1M226.10 238.77h1.1M246.46 270.70v1.1M226.10 245.20h1.1M252.95 270.70v1.1M226.10 251.62h1.1M259.44 270.70v1.1M226.10 258.05h1.1M265.92 270.70v1.1M226.10 264.47h1.1M272.41 270.70v1.1M226.10 270.90h1.1M278.90 270.70v1.1" stroke="#555" stroke-width="0.5"/>
<text transform="translate(226.70 214.80) scale(1 1.08)" font-size="8" text-anchor="start" fill="#cc1030" font-weight="normal" stroke="#cc1030" stroke-width="0.12" >CD34+CD38−</text>
<text transform="translate(221.80 245.00) rotate(-90) scale(1 1.08)" font-size="7.3" text-anchor="middle" fill="#1a1a1a" stroke="#1a1a1a" stroke-width="0.12">mCherry</text>
<text transform="translate(252.50 280.60) scale(1 1.08)" font-size="7.6" text-anchor="middle" fill="#1a1a1a" font-weight="normal" stroke="#1a1a1a" stroke-width="0.12" >FSC-A</text>
<ellipse cx="256.50" cy="241" rx="12" ry="8" fill="#9090ff" fill-opacity="0.10" filter="url(#blur2)"/>
<path d="M266.8 232.4h0.7v0.7h-0.7zM262.4 249.0h0.7v0.7h-0.7zM269.5 236.7h0.7v0.7h-0.7zM247.5 241.9h0.7v0.7h-0.7zM263.9 240.7h0.7v0.7h-0.7zM244.4 246.9h0.7v0.7h-0.7zM268.0 244.3h0.7v0.7h-0.7zM246.7 236.8h0.7v0.7h-0.7zM262.1 234.1h0.7v0.7h-0.7zM257.4 243.1h0.7v0.7h-0.7zM249.3 243.4h0.7v0.7h-0.7zM251.4 240.8h0.7v0.7h-0.7zM260.6 248.8h0.7v0.7h-0.7zM249.6 236.7h0.7v0.7h-0.7zM262.3 237.8h0.7v0.7h-0.7zM256.7 244.8h0.7v0.7h-0.7zM250.2 244.7h0.7v0.7h-0.7zM249.4 232.6h0.7v0.7h-0.7zM254.6 245.0h0.7v0.7h-0.7zM264.7 246.0h0.7v0.7h-0.7zM248.8 250.4h0.7v0.7h-0.7zM265.4 236.4h0.7v0.7h-0.7zM263.8 237.6h0.7v0.7h-0.7zM256.6 235.6h0.7v0.7h-0.7zM254.5 244.6h0.7v0.7h-0.7zM247.2 239.5h0.7v0.7h-0.7zM269.5 234.7h0.7v0.7h-0.7zM268.4 238.3h0.7v0.7h-0.7zM268.5 246.2h0.7v0.7h-0.7zM261.2 239.2h0.7v0.7h-0.7zM252.2 235.2h0.7v0.7h-0.7zM250.8 238.7h0.7v0.7h-0.7zM246.6 250.3h0.7v0.7h-0.7zM252.9 247.6h0.7v0.7h-0.7zM254.9 232.9h0.7v0.7h-0.7zM253.3 249.5h0.7v0.7h-0.7zM253.1 249.0h0.7v0.7h-0.7zM254.4 247.4h0.7v0.7h-0.7zM244.4 232.7h0.7v0.7h-0.7zM267.5 238.4h0.7v0.7h-0.7zM269.1 243.7h0.7v0.7h-0.7zM262.6 238.0h0.7v0.7h-0.7zM260.4 249.9h0.7v0.7h-0.7zM249.6 241.0h0.7v0.7h-0.7zM269.0 239.3h0.7v0.7h-0.7zM254.9 241.4h0.7v0.7h-0.7zM248.2 247.2h0.7v0.7h-0.7zM265.4 246.7h0.7v0.7h-0.7zM252.1 238.1h0.7v0.7h-0.7zM264.3 233.5h0.7v0.7h-0.7zM263.6 236.7h0.7v0.7h-0.7zM244.2 242.5h0.7v0.7h-0.7zM250.4 233.6h0.7v0.7h-0.7zM256.7 245.5h0.7v0.7h-0.7zM249.6 239.9h0.7v0.7h-0.7zM261.4 246.2h0.7v0.7h-0.7zM261.2 234.3h0.7v0.7h-0.7zM251.2 242.8h0.7v0.7h-0.7zM263.2 235.8h0.7v0.7h-0.7zM249.9 234.9h0.7v0.7h-0.7zM258.9 238.2h0.7v0.7h-0.7zM270.0 241.6h0.7v0.7h-0.7zM265.0 244.4h0.7v0.7h-0.7zM246.1 241.0h0.7v0.7h-0.7zM265.9 249.4h0.7v0.7h-0.7zM251.2 234.3h0.7v0.7h-0.7zM253.3 248.5h0.7v0.7h-0.7zM250.3 246.8h0.7v0.7h-0.7zM246.1 243.3h0.7v0.7h-0.7zM249.2 239.0h0.7v0.7h-0.7zM248.8 236.8h0.7v0.7h-0.7zM260.8 235.9h0.7v0.7h-0.7zM252.1 244.9h0.7v0.7h-0.7zM251.7 235.9h0.7v0.7h-0.7zM258.0 233.2h0.7v0.7h-0.7zM253.9 242.5h0.7v0.7h-0.7zM245.8 235.1h0.7v0.7h-0.7zM254.3 237.4h0.7v0.7h-0.7zM252.9 239.9h0.7v0.7h-0.7zM270.1 238.9h0.7v0.7h-0.7zM262.9 235.9h0.7v0.7h-0.7zM267.6 240.1h0.7v0.7h-0.7zM254.2 248.8h0.7v0.7h-0.7zM260.5 249.3h0.7v0.7h-0.7zM260.0 239.0h0.7v0.7h-0.7zM247.2 237.4h0.7v0.7h-0.7zM268.2 234.1h0.7v0.7h-0.7zM264.9 250.4h0.7v0.7h-0.7zM253.7 249.2h0.7v0.7h-0.7zM265.5 235.0h0.7v0.7h-0.7zM249.3 239.7h0.7v0.7h-0.7zM265.6 235.5h0.7v0.7h-0.7zM254.1 241.8h0.7v0.7h-0.7zM246.6 236.7h0.7v0.7h-0.7zM246.5 243.4h0.7v0.7h-0.7zM260.2 237.8h0.7v0.7h-0.7zM259.0 240.1h0.7v0.7h-0.7zM255.3 240.3h0.7v0.7h-0.7zM259.9 241.3h0.7v0.7h-0.7zM263.8 246.8h0.7v0.7h-0.7zM248.1 241.0h0.7v0.7h-0.7zM246.8 240.2h0.7v0.7h-0.7zM255.2 241.7h0.7v0.7h-0.7zM260.4 233.6h0.7v0.7h-0.7zM264.2 241.7h0.7v0.7h-0.7zM256.9 239.2h0.7v0.7h-0.7zM247.0 248.3h0.7v0.7h-0.7zM263.0 247.5h0.7v0.7h-0.7zM268.3 233.2h0.7v0.7h-0.7zM263.6 235.0h0.7v0.7h-0.7zM250.7 247.5h0.7v0.7h-0.7zM256.8 249.5h0.7v0.7h-0.7zM250.4 241.6h0.7v0.7h-0.7zM244.3 235.5h0.7v0.7h-0.7zM247.8 246.9h0.7v0.7h-0.7zM257.6 244.1h0.7v0.7h-0.7zM266.8 242.5h0.7v0.7h-0.7zM260.2 239.5h0.7v0.7h-0.7zM253.0 246.5h0.7v0.7h-0.7zM248.1 246.1h0.7v0.7h-0.7zM265.4 236.8h0.7v0.7h-0.7zM251.7 232.0h0.7v0.7h-0.7zM247.3 243.7h0.7v0.7h-0.7zM257.1 249.0h0.7v0.7h-0.7zM249.4 244.4h0.7v0.7h-0.7zM243.4 238.7h0.7v0.7h-0.7zM252.9 236.3h0.7v0.7h-0.7zM259.1 235.9h0.7v0.7h-0.7zM256.1 234.6h0.7v0.7h-0.7zM249.9 234.8h0.7v0.7h-0.7zM260.5 248.6h0.7v0.7h-0.7zM254.1 237.0h0.7v0.7h-0.7zM260.6 242.7h0.7v0.7h-0.7zM260.7 240.4h0.7v0.7h-0.7zM263.0 236.7h0.7v0.7h-0.7zM244.5 242.1h0.7v0.7h-0.7zM247.1 235.8h0.7v0.7h-0.7zM256.9 244.2h0.7v0.7h-0.7zM248.0 237.9h0.7v0.7h-0.7zM263.3 240.8h0.7v0.7h-0.7zM255.5 236.3h0.7v0.7h-0.7zM249.5 232.7h0.7v0.7h-0.7zM263.5 245.2h0.7v0.7h-0.7zM262.4 237.1h0.7v0.7h-0.7zM255.0 247.0h0.7v0.7h-0.7zM250.4 244.2h0.7v0.7h-0.7zM249.1 248.7h0.7v0.7h-0.7zM250.3 236.5h0.7v0.7h-0.7zM268.7 246.2h0.7v0.7h-0.7zM267.0 238.2h0.7v0.7h-0.7zM267.7 244.0h0.7v0.7h-0.7zM265.9 245.3h0.7v0.7h-0.7zM255.1 245.8h0.7v0.7h-0.7zM251.6 236.0h0.7v0.7h-0.7zM245.4 249.3h0.7v0.7h-0.7zM252.6 234.7h0.7v0.7h-0.7zM262.0 246.0h0.7v0.7h-0.7zM259.2 238.9h0.7v0.7h-0.7zM265.3 248.9h0.7v0.7h-0.7zM246.2 235.9h0.7v0.7h-0.7zM260.4 247.7h0.7v0.7h-0.7zM251.0 233.9h0.7v0.7h-0.7zM263.7 235.9h0.7v0.7h-0.7zM254.7 232.4h0.7v0.7h-0.7zM250.9 245.6h0.7v0.7h-0.7zM266.2 243.7h0.7v0.7h-0.7zM254.4 240.3h0.7v0.7h-0.7zM252.6 245.4h0.7v0.7h-0.7zM249.1 248.4h0.7v0.7h-0.7zM265.4 235.2h0.7v0.7h-0.7zM248.7 246.5h0.7v0.7h-0.7zM264.7 235.5h0.7v0.7h-0.7zM252.6 247.8h0.7v0.7h-0.7zM268.7 237.4h0.7v0.7h-0.7zM262.1 241.5h0.7v0.7h-0.7zM262.1 247.0h0.7v0.7h-0.7zM252.9 239.6h0.7v0.7h-0.7zM244.0 235.9h0.7v0.7h-0.7zM267.5 241.5h0.7v0.7h-0.7zM267.1 236.4h0.7v0.7h-0.7zM257.6 246.3h0.7v0.7h-0.7zM260.7 238.6h0.7v0.7h-0.7zM247.5 248.0h0.7v0.7h-0.7zM263.3 235.2h0.7v0.7h-0.7zM264.1 243.0h0.7v0.7h-0.7zM255.7 248.8h0.7v0.7h-0.7zM248.5 237.7h0.7v0.7h-0.7zM266.0 234.9h0.7v0.7h-0.7zM250.0 238.2h0.7v0.7h-0.7zM247.6 238.2h0.7v0.7h-0.7zM269.5 245.8h0.7v0.7h-0.7zM269.2 233.9h0.7v0.7h-0.7zM255.0 235.7h0.7v0.7h-0.7zM246.2 235.9h0.7v0.7h-0.7zM262.0 241.5h0.7v0.7h-0.7zM255.8 234.7h0.7v0.7h-0.7zM254.2 246.1h0.7v0.7h-0.7zM254.9 242.9h0.7v0.7h-0.7zM254.6 236.3h0.7v0.7h-0.7zM267.0 246.7h0.7v0.7h-0.7zM266.2 244.9h0.7v0.7h-0.7zM255.5 237.9h0.7v0.7h-0.7zM245.9 240.0h0.7v0.7h-0.7zM262.5 244.0h0.7v0.7h-0.7zM254.7 240.6h0.7v0.7h-0.7zM254.3 244.8h0.7v0.7h-0.7zM248.2 244.4h0.7v0.7h-0.7zM253.8 241.3h0.7v0.7h-0.7zM244.3 242.3h0.7v0.7h-0.7zM264.3 249.9h0.7v0.7h-0.7zM246.0 242.9h0.7v0.7h-0.7zM262.6 241.7h0.7v0.7h-0.7zM265.6 241.9h0.7v0.7h-0.7zM253.9 246.5h0.7v0.7h-0.7zM269.8 238.8h0.7v0.7h-0.7zM250.7 239.6h0.7v0.7h-0.7zM254.6 240.0h0.7v0.7h-0.7zM252.8 237.0h0.7v0.7h-0.7zM263.2 249.9h0.7v0.7h-0.7zM249.2 247.2h0.7v0.7h-0.7zM249.0 234.5h0.7v0.7h-0.7zM265.1 244.1h0.7v0.7h-0.7zM258.4 236.3h0.7v0.7h-0.7zM252.8 244.1h0.7v0.7h-0.7zM265.3 240.9h0.7v0.7h-0.7zM258.0 234.4h0.7v0.7h-0.7zM252.8 248.2h0.7v0.7h-0.7zM253.4 236.8h0.7v0.7h-0.7zM250.9 236.7h0.7v0.7h-0.7zM256.2 240.1h0.7v0.7h-0.7zM261.0 238.9h0.7v0.7h-0.7zM267.7 246.9h0.7v0.7h-0.7zM265.7 244.0h0.7v0.7h-0.7zM250.0 233.9h0.7v0.7h-0.7zM249.6 246.7h0.7v0.7h-0.7zM247.4 249.2h0.7v0.7h-0.7zM247.8 248.9h0.7v0.7h-0.7zM264.3 244.7h0.7v0.7h-0.7zM264.5 247.9h0.7v0.7h-0.7zM261.9 242.1h0.7v0.7h-0.7zM255.1 248.8h0.7v0.7h-0.7zM250.4 236.4h0.7v0.7h-0.7zM256.6 233.1h0.7v0.7h-0.7zM247.2 241.3h0.7v0.7h-0.7zM257.8 248.4h0.7v0.7h-0.7zM265.9 240.9h0.7v0.7h-0.7zM261.2 248.0h0.7v0.7h-0.7zM254.6 250.3h0.7v0.7h-0.7zM260.4 244.1h0.7v0.7h-0.7zM259.7 245.0h0.7v0.7h-0.7zM256.3 249.1h0.7v0.7h-0.7zM262.6 243.9h0.7v0.7h-0.7zM266.5 239.0h0.7v0.7h-0.7zM257.4 246.6h0.7v0.7h-0.7zM255.0 240.0h0.7v0.7h-0.7zM265.5 237.6h0.7v0.7h-0.7zM254.2 241.6h0.7v0.7h-0.7zM264.6 238.3h0.7v0.7h-0.7zM251.3 243.1h0.7v0.7h-0.7zM267.1 242.4h0.7v0.7h-0.7zM251.4 232.1h0.7v0.7h-0.7zM268.1 243.6h0.7v0.7h-0.7zM264.5 249.3h0.7v0.7h-0.7zM259.9 243.9h0.7v0.7h-0.7zM259.3 244.9h0.7v0.7h-0.7zM261.2 240.7h0.7v0.7h-0.7zM246.0 235.4h0.7v0.7h-0.7zM264.1 249.4h0.7v0.7h-0.7zM253.2 247.6h0.7v0.7h-0.7zM258.4 236.9h0.7v0.7h-0.7zM254.6 238.1h0.7v0.7h-0.7zM260.6 249.7h0.7v0.7h-0.7zM258.6 232.7h0.7v0.7h-0.7zM265.1 242.9h0.7v0.7h-0.7zM256.1 239.8h0.7v0.7h-0.7zM260.6 236.0h0.7v0.7h-0.7zM246.6 250.4h0.7v0.7h-0.7zM266.7 234.5h0.7v0.7h-0.7zM262.7 236.6h0.7v0.7h-0.7zM262.5 248.3h0.7v0.7h-0.7zM245.6 243.9h0.7v0.7h-0.7zM255.7 249.7h0.7v0.7h-0.7zM269.2 245.6h0.7v0.7h-0.7zM247.8 248.4h0.7v0.7h-0.7zM244.9 239.0h0.7v0.7h-0.7zM255.1 244.9h0.7v0.7h-0.7zM264.7 238.9h0.7v0.7h-0.7zM260.2 239.9h0.7v0.7h-0.7zM258.5 237.6h0.7v0.7h-0.7zM252.2 243.5h0.7v0.7h-0.7zM265.7 243.4h0.7v0.7h-0.7zM254.8 248.9h0.7v0.7h-0.7zM261.7 243.4h0.7v0.7h-0.7zM265.0 237.4h0.7v0.7h-0.7zM250.4 240.0h0.7v0.7h-0.7zM265.3 248.9h0.7v0.7h-0.7zM265.7 247.4h0.7v0.7h-0.7zM258.7 237.2h0.7v0.7h-0.7zM265.0 245.0h0.7v0.7h-0.7zM252.6 233.6h0.7v0.7h-0.7zM264.7 235.8h0.7v0.7h-0.7zM268.4 236.4h0.7v0.7h-0.7zM261.5 240.8h0.7v0.7h-0.7zM250.2 246.3h0.7v0.7h-0.7zM264.1 236.4h0.7v0.7h-0.7zM267.4 248.8h0.7v0.7h-0.7zM256.1 243.2h0.7v0.7h-0.7zM248.5 235.4h0.7v0.7h-0.7zM253.1 242.7h0.7v0.7h-0.7zM257.2 234.8h0.7v0.7h-0.7zM270.1 239.1h0.7v0.7h-0.7zM260.3 247.0h0.7v0.7h-0.7zM259.4 238.6h0.7v0.7h-0.7zM266.6 241.2h0.7v0.7h-0.7zM250.3 246.8h0.7v0.7h-0.7zM269.2 236.8h0.7v0.7h-0.7zM248.7 235.4h0.7v0.7h-0.7zM245.0 243.4h0.7v0.7h-0.7zM246.5 250.2h0.7v0.7h-0.7zM258.5 244.2h0.7v0.7h-0.7zM261.3 239.5h0.7v0.7h-0.7zM249.3 232.7h0.7v0.7h-0.7z" fill="#3838e6" fill-opacity="0.42"/>
<path d="M251.4 242.1h0.7v0.7h-0.7zM262.9 235.1h0.7v0.7h-0.7zM263.3 239.1h0.7v0.7h-0.7zM255.2 234.3h0.7v0.7h-0.7zM257.9 237.7h0.7v0.7h-0.7zM260.7 241.1h0.7v0.7h-0.7zM262.2 236.4h0.7v0.7h-0.7zM255.0 241.0h0.7v0.7h-0.7zM256.7 236.6h0.7v0.7h-0.7zM255.2 239.5h0.7v0.7h-0.7zM259.9 239.8h0.7v0.7h-0.7zM258.0 239.4h0.7v0.7h-0.7zM260.3 240.7h0.7v0.7h-0.7zM262.9 238.1h0.7v0.7h-0.7zM257.0 238.4h0.7v0.7h-0.7zM259.1 237.0h0.7v0.7h-0.7zM263.9 235.8h0.7v0.7h-0.7zM258.3 236.9h0.7v0.7h-0.7zM254.9 238.2h0.7v0.7h-0.7zM263.5 235.7h0.7v0.7h-0.7zM253.6 235.8h0.7v0.7h-0.7zM252.6 241.7h0.7v0.7h-0.7zM251.0 238.3h0.7v0.7h-0.7zM258.4 239.2h0.7v0.7h-0.7zM262.5 239.2h0.7v0.7h-0.7zM254.5 237.3h0.7v0.7h-0.7zM258.8 236.4h0.7v0.7h-0.7zM254.6 238.6h0.7v0.7h-0.7zM255.6 242.5h0.7v0.7h-0.7zM255.4 239.1h0.7v0.7h-0.7zM253.1 237.9h0.7v0.7h-0.7zM258.2 237.1h0.7v0.7h-0.7zM258.0 237.7h0.7v0.7h-0.7zM261.3 235.5h0.7v0.7h-0.7zM257.7 240.6h0.7v0.7h-0.7zM255.9 239.7h0.7v0.7h-0.7zM257.7 240.1h0.7v0.7h-0.7zM270.7 237.3h0.7v0.7h-0.7zM258.2 237.3h0.7v0.7h-0.7zM254.5 243.0h0.7v0.7h-0.7zM262.6 239.2h0.7v0.7h-0.7zM253.6 244.5h0.7v0.7h-0.7zM263.8 238.3h0.7v0.7h-0.7zM255.4 239.0h0.7v0.7h-0.7zM264.2 237.9h0.7v0.7h-0.7zM254.1 237.5h0.7v0.7h-0.7zM248.5 240.0h0.7v0.7h-0.7zM257.6 241.0h0.7v0.7h-0.7zM258.2 239.0h0.7v0.7h-0.7zM257.4 233.9h0.7v0.7h-0.7zM257.1 238.8h0.7v0.7h-0.7zM261.3 239.6h0.7v0.7h-0.7zM253.4 237.9h0.7v0.7h-0.7zM258.1 241.1h0.7v0.7h-0.7zM254.7 233.4h0.7v0.7h-0.7zM254.3 237.0h0.7v0.7h-0.7zM262.6 239.4h0.7v0.7h-0.7zM251.2 240.0h0.7v0.7h-0.7zM263.5 239.4h0.7v0.7h-0.7zM252.7 241.9h0.7v0.7h-0.7zM259.7 235.6h0.7v0.7h-0.7zM265.3 238.3h0.7v0.7h-0.7zM248.6 238.5h0.7v0.7h-0.7zM256.3 239.4h0.7v0.7h-0.7zM258.5 235.7h0.7v0.7h-0.7zM258.6 239.9h0.7v0.7h-0.7zM256.3 237.7h0.7v0.7h-0.7zM252.3 237.5h0.7v0.7h-0.7zM254.6 237.7h0.7v0.7h-0.7zM255.0 233.3h0.7v0.7h-0.7zM258.9 236.2h0.7v0.7h-0.7zM255.7 235.4h0.7v0.7h-0.7zM256.6 236.9h0.7v0.7h-0.7zM263.5 233.4h0.7v0.7h-0.7zM251.8 237.9h0.7v0.7h-0.7zM251.7 237.2h0.7v0.7h-0.7zM267.0 238.6h0.7v0.7h-0.7zM257.0 239.4h0.7v0.7h-0.7zM259.0 238.9h0.7v0.7h-0.7zM257.0 237.2h0.7v0.7h-0.7zM261.7 240.0h0.7v0.7h-0.7zM256.9 238.2h0.7v0.7h-0.7zM252.3 235.9h0.7v0.7h-0.7zM250.4 237.2h0.7v0.7h-0.7zM263.0 240.8h0.7v0.7h-0.7zM256.4 237.1h0.7v0.7h-0.7zM259.9 239.8h0.7v0.7h-0.7zM253.4 237.8h0.7v0.7h-0.7zM259.5 239.6h0.7v0.7h-0.7zM260.1 240.3h0.7v0.7h-0.7zM258.1 236.7h0.7v0.7h-0.7zM250.7 236.0h0.7v0.7h-0.7zM260.4 241.8h0.7v0.7h-0.7zM260.3 236.9h0.7v0.7h-0.7zM249.9 240.1h0.7v0.7h-0.7zM252.6 237.4h0.7v0.7h-0.7zM263.1 236.2h0.7v0.7h-0.7zM255.0 239.4h0.7v0.7h-0.7zM254.4 240.1h0.7v0.7h-0.7zM263.8 237.3h0.7v0.7h-0.7zM262.9 235.4h0.7v0.7h-0.7zM257.4 237.1h0.7v0.7h-0.7zM246.6 237.1h0.7v0.7h-0.7zM259.4 237.0h0.7v0.7h-0.7zM251.6 239.5h0.7v0.7h-0.7zM253.4 240.1h0.7v0.7h-0.7zM260.5 238.9h0.7v0.7h-0.7zM255.8 237.8h0.7v0.7h-0.7zM263.4 242.9h0.7v0.7h-0.7zM258.2 232.0h0.7v0.7h-0.7zM251.7 234.4h0.7v0.7h-0.7zM262.8 234.3h0.7v0.7h-0.7zM262.2 238.6h0.7v0.7h-0.7zM256.0 241.5h0.7v0.7h-0.7zM255.9 240.9h0.7v0.7h-0.7zM261.6 236.2h0.7v0.7h-0.7zM256.6 240.8h0.7v0.7h-0.7zM247.6 240.3h0.7v0.7h-0.7zM255.8 239.9h0.7v0.7h-0.7zM255.4 236.8h0.7v0.7h-0.7zM248.3 234.3h0.7v0.7h-0.7zM253.4 237.6h0.7v0.7h-0.7zM251.8 238.4h0.7v0.7h-0.7zM257.8 238.8h0.7v0.7h-0.7zM258.9 239.3h0.7v0.7h-0.7zM253.9 238.9h0.7v0.7h-0.7zM256.7 238.9h0.7v0.7h-0.7zM249.3 236.4h0.7v0.7h-0.7zM252.6 235.7h0.7v0.7h-0.7zM255.0 236.4h0.7v0.7h-0.7z" fill="#3838e6" fill-opacity="0.42"/>
<path d="M258.3 242.5h0.7v0.7h-0.7zM254.7 244.2h0.7v0.7h-0.7zM256.3 245.6h0.7v0.7h-0.7zM259.4 247.0h0.7v0.7h-0.7zM255.9 245.0h0.7v0.7h-0.7zM258.8 245.0h0.7v0.7h-0.7zM255.1 249.2h0.7v0.7h-0.7zM259.6 248.4h0.7v0.7h-0.7zM256.4 245.3h0.7v0.7h-0.7zM262.2 245.0h0.7v0.7h-0.7zM259.6 243.7h0.7v0.7h-0.7zM265.8 247.3h0.7v0.7h-0.7zM258.1 245.5h0.7v0.7h-0.7zM256.4 246.9h0.7v0.7h-0.7zM259.1 244.0h0.7v0.7h-0.7zM260.7 251.4h0.7v0.7h-0.7zM259.2 243.8h0.7v0.7h-0.7zM257.6 247.2h0.7v0.7h-0.7zM257.1 242.1h0.7v0.7h-0.7zM263.1 241.4h0.7v0.7h-0.7zM253.6 244.7h0.7v0.7h-0.7zM259.1 241.0h0.7v0.7h-0.7zM253.2 245.9h0.7v0.7h-0.7zM257.3 239.8h0.7v0.7h-0.7zM264.2 248.8h0.7v0.7h-0.7zM265.3 245.3h0.7v0.7h-0.7zM255.8 243.7h0.7v0.7h-0.7zM263.7 244.4h0.7v0.7h-0.7zM254.0 247.4h0.7v0.7h-0.7zM262.6 242.7h0.7v0.7h-0.7zM256.5 247.1h0.7v0.7h-0.7zM253.9 246.2h0.7v0.7h-0.7zM258.4 247.6h0.7v0.7h-0.7zM256.1 244.4h0.7v0.7h-0.7zM256.6 249.2h0.7v0.7h-0.7zM261.7 242.8h0.7v0.7h-0.7zM257.2 245.7h0.7v0.7h-0.7zM258.6 246.5h0.7v0.7h-0.7zM255.2 243.7h0.7v0.7h-0.7zM266.0 248.1h0.7v0.7h-0.7zM256.3 249.5h0.7v0.7h-0.7zM263.9 239.8h0.7v0.7h-0.7zM260.3 247.7h0.7v0.7h-0.7zM259.7 245.0h0.7v0.7h-0.7zM263.6 246.1h0.7v0.7h-0.7zM251.4 245.3h0.7v0.7h-0.7zM259.9 242.1h0.7v0.7h-0.7zM263.5 245.2h0.7v0.7h-0.7zM254.0 244.8h0.7v0.7h-0.7zM256.8 246.7h0.7v0.7h-0.7zM256.6 243.9h0.7v0.7h-0.7zM264.3 244.0h0.7v0.7h-0.7zM257.7 245.0h0.7v0.7h-0.7zM256.8 247.0h0.7v0.7h-0.7zM255.1 244.0h0.7v0.7h-0.7zM265.9 240.8h0.7v0.7h-0.7zM255.5 245.4h0.7v0.7h-0.7zM251.0 239.3h0.7v0.7h-0.7zM256.9 247.8h0.7v0.7h-0.7zM260.2 243.8h0.7v0.7h-0.7zM255.3 251.5h0.7v0.7h-0.7zM261.2 242.5h0.7v0.7h-0.7zM265.0 248.6h0.7v0.7h-0.7zM256.9 240.9h0.7v0.7h-0.7zM266.6 244.9h0.7v0.7h-0.7zM257.5 245.9h0.7v0.7h-0.7zM258.3 248.1h0.7v0.7h-0.7zM257.0 245.2h0.7v0.7h-0.7zM261.3 248.4h0.7v0.7h-0.7zM256.7 243.8h0.7v0.7h-0.7z" fill="#3838e6" fill-opacity="0.42"/>
<path d="M269.9 263.4h0.7v0.7h-0.7zM257.6 265.6h0.7v0.7h-0.7zM266.7 262.6h0.7v0.7h-0.7zM253.1 261.3h0.7v0.7h-0.7zM254.6 263.5h0.7v0.7h-0.7zM251.6 256.3h0.7v0.7h-0.7zM251.2 255.5h0.7v0.7h-0.7zM260.0 266.1h0.7v0.7h-0.7zM265.9 254.9h0.7v0.7h-0.7zM265.2 258.7h0.7v0.7h-0.7zM256.4 256.5h0.7v0.7h-0.7zM251.1 267.3h0.7v0.7h-0.7zM256.3 260.6h0.7v0.7h-0.7zM266.9 258.6h0.7v0.7h-0.7zM266.1 258.5h0.7v0.7h-0.7zM254.1 259.7h0.7v0.7h-0.7zM253.6 258.5h0.7v0.7h-0.7zM259.2 265.7h0.7v0.7h-0.7zM252.6 259.3h0.7v0.7h-0.7zM251.4 261.8h0.7v0.7h-0.7zM257.5 255.0h0.7v0.7h-0.7zM266.3 259.2h0.7v0.7h-0.7zM253.0 258.2h0.7v0.7h-0.7zM249.7 263.8h0.7v0.7h-0.7zM252.3 264.4h0.7v0.7h-0.7zM254.7 266.3h0.7v0.7h-0.7zM258.3 266.3h0.7v0.7h-0.7zM252.3 259.2h0.7v0.7h-0.7zM256.9 268.1h0.7v0.7h-0.7zM269.0 261.4h0.7v0.7h-0.7zM258.5 255.9h0.7v0.7h-0.7zM254.5 267.2h0.7v0.7h-0.7zM256.7 257.6h0.7v0.7h-0.7zM253.5 266.8h0.7v0.7h-0.7zM259.8 262.0h0.7v0.7h-0.7zM265.2 259.7h0.7v0.7h-0.7zM260.9 258.6h0.7v0.7h-0.7zM255.7 263.7h0.7v0.7h-0.7zM260.8 259.3h0.7v0.7h-0.7zM255.2 255.0h0.7v0.7h-0.7zM253.8 255.9h0.7v0.7h-0.7zM254.9 259.9h0.7v0.7h-0.7zM265.3 267.0h0.7v0.7h-0.7zM251.8 258.1h0.7v0.7h-0.7zM263.3 263.8h0.7v0.7h-0.7zM257.7 263.7h0.7v0.7h-0.7zM254.2 266.4h0.7v0.7h-0.7zM262.2 256.7h0.7v0.7h-0.7zM268.2 264.8h0.7v0.7h-0.7zM249.8 254.6h0.7v0.7h-0.7zM253.2 258.5h0.7v0.7h-0.7zM252.8 266.3h0.7v0.7h-0.7zM264.0 257.7h0.7v0.7h-0.7zM263.4 259.1h0.7v0.7h-0.7zM266.5 265.4h0.7v0.7h-0.7zM250.0 257.6h0.7v0.7h-0.7zM265.6 257.1h0.7v0.7h-0.7zM264.7 255.3h0.7v0.7h-0.7zM257.3 265.0h0.7v0.7h-0.7zM264.5 266.2h0.7v0.7h-0.7zM258.0 261.5h0.7v0.7h-0.7zM251.7 265.2h0.7v0.7h-0.7zM263.8 265.8h0.7v0.7h-0.7zM260.4 257.7h0.7v0.7h-0.7zM256.5 260.1h0.7v0.7h-0.7zM255.5 256.0h0.7v0.7h-0.7zM263.1 257.5h0.7v0.7h-0.7zM259.8 260.5h0.7v0.7h-0.7zM256.4 258.4h0.7v0.7h-0.7zM252.0 262.3h0.7v0.7h-0.7zM266.1 262.1h0.7v0.7h-0.7zM252.6 263.8h0.7v0.7h-0.7zM258.7 265.3h0.7v0.7h-0.7zM251.4 258.3h0.7v0.7h-0.7zM253.3 254.9h0.7v0.7h-0.7zM253.1 264.3h0.7v0.7h-0.7zM251.4 258.8h0.7v0.7h-0.7zM256.6 256.5h0.7v0.7h-0.7zM260.8 255.6h0.7v0.7h-0.7zM258.1 256.8h0.7v0.7h-0.7zM254.3 257.6h0.7v0.7h-0.7zM255.2 256.7h0.7v0.7h-0.7zM266.8 267.6h0.7v0.7h-0.7zM265.5 266.2h0.7v0.7h-0.7zM255.9 256.7h0.7v0.7h-0.7zM255.7 259.4h0.7v0.7h-0.7zM256.8 266.2h0.7v0.7h-0.7zM266.2 264.4h0.7v0.7h-0.7zM268.8 261.3h0.7v0.7h-0.7zM252.3 258.4h0.7v0.7h-0.7z" fill="#3838e6" fill-opacity="0.38"/>
<path d="M262.3 264.7h0.7v0.7h-0.7zM259.8 265.3h0.7v0.7h-0.7zM259.4 262.3h0.7v0.7h-0.7zM261.3 263.3h0.7v0.7h-0.7zM259.9 267.0h0.7v0.7h-0.7zM264.1 262.6h0.7v0.7h-0.7zM261.5 258.3h0.7v0.7h-0.7zM255.7 263.6h0.7v0.7h-0.7zM256.0 259.4h0.7v0.7h-0.7zM255.4 263.8h0.7v0.7h-0.7zM253.6 264.2h0.7v0.7h-0.7zM261.2 256.7h0.7v0.7h-0.7zM259.4 264.7h0.7v0.7h-0.7zM254.1 263.9h0.7v0.7h-0.7zM256.8 264.1h0.7v0.7h-0.7zM260.4 263.9h0.7v0.7h-0.7zM249.7 264.5h0.7v0.7h-0.7zM263.4 259.2h0.7v0.7h-0.7zM266.1 261.3h0.7v0.7h-0.7zM253.7 258.8h0.7v0.7h-0.7zM262.5 264.2h0.7v0.7h-0.7zM255.9 260.9h0.7v0.7h-0.7zM250.9 259.3h0.7v0.7h-0.7zM253.4 263.0h0.7v0.7h-0.7zM257.1 265.1h0.7v0.7h-0.7zM258.6 262.0h0.7v0.7h-0.7zM259.8 266.7h0.7v0.7h-0.7zM256.7 262.9h0.7v0.7h-0.7zM256.4 260.1h0.7v0.7h-0.7zM255.1 261.0h0.7v0.7h-0.7zM253.9 261.8h0.7v0.7h-0.7zM256.7 263.4h0.7v0.7h-0.7zM260.8 268.2h0.7v0.7h-0.7zM256.5 262.1h0.7v0.7h-0.7zM259.6 260.8h0.7v0.7h-0.7zM261.3 264.6h0.7v0.7h-0.7zM258.0 266.0h0.7v0.7h-0.7zM255.8 261.8h0.7v0.7h-0.7zM256.6 261.9h0.7v0.7h-0.7zM253.8 262.2h0.7v0.7h-0.7zM260.9 264.0h0.7v0.7h-0.7zM261.1 263.9h0.7v0.7h-0.7zM260.6 259.6h0.7v0.7h-0.7zM256.8 257.6h0.7v0.7h-0.7zM265.4 268.5h0.7v0.7h-0.7zM257.7 261.1h0.7v0.7h-0.7zM259.5 259.9h0.7v0.7h-0.7zM261.9 269.2h0.7v0.7h-0.7zM252.9 260.5h0.7v0.7h-0.7zM261.6 266.4h0.7v0.7h-0.7zM260.2 263.3h0.7v0.7h-0.7zM257.6 262.9h0.7v0.7h-0.7zM256.2 261.3h0.7v0.7h-0.7zM256.5 267.0h0.7v0.7h-0.7zM252.0 265.3h0.7v0.7h-0.7zM253.3 258.3h0.7v0.7h-0.7zM251.4 259.9h0.7v0.7h-0.7zM259.3 261.2h0.7v0.7h-0.7zM257.9 259.8h0.7v0.7h-0.7zM258.4 258.0h0.7v0.7h-0.7zM258.7 261.1h0.7v0.7h-0.7zM254.3 266.0h0.7v0.7h-0.7zM262.8 261.0h0.7v0.7h-0.7zM262.2 263.6h0.7v0.7h-0.7zM261.3 264.7h0.7v0.7h-0.7zM258.5 261.1h0.7v0.7h-0.7zM262.3 260.5h0.7v0.7h-0.7zM257.9 264.5h0.7v0.7h-0.7zM252.2 264.4h0.7v0.7h-0.7zM256.6 261.8h0.7v0.7h-0.7zM259.5 262.7h0.7v0.7h-0.7zM258.6 260.7h0.7v0.7h-0.7zM255.5 261.7h0.7v0.7h-0.7zM256.8 259.8h0.7v0.7h-0.7zM262.0 267.3h0.7v0.7h-0.7zM253.2 261.4h0.7v0.7h-0.7zM260.8 255.7h0.7v0.7h-0.7zM260.9 262.7h0.7v0.7h-0.7zM260.2 265.4h0.7v0.7h-0.7zM262.0 258.6h0.7v0.7h-0.7zM260.0 262.9h0.7v0.7h-0.7zM260.0 258.4h0.7v0.7h-0.7zM255.2 264.6h0.7v0.7h-0.7zM261.4 267.4h0.7v0.7h-0.7zM252.9 266.3h0.7v0.7h-0.7zM257.0 261.7h0.7v0.7h-0.7zM256.9 264.3h0.7v0.7h-0.7zM261.4 260.0h0.7v0.7h-0.7zM259.9 263.0h0.7v0.7h-0.7zM255.7 265.1h0.7v0.7h-0.7zM255.2 261.1h0.7v0.7h-0.7zM257.8 262.8h0.7v0.7h-0.7zM255.5 261.2h0.7v0.7h-0.7zM261.5 262.9h0.7v0.7h-0.7zM259.0 262.4h0.7v0.7h-0.7zM260.9 266.0h0.7v0.7h-0.7zM257.6 264.9h0.7v0.7h-0.7zM255.5 262.5h0.7v0.7h-0.7zM254.4 261.0h0.7v0.7h-0.7zM267.6 260.0h0.7v0.7h-0.7z" fill="#3838e6" fill-opacity="0.42"/>
<path d="M230.50 220.40L276.60 220.40L276.60 252.30L240.30 252.30L233.40 244.90Z" fill="none" stroke="#3a3a3a" stroke-width="0.5"/>
<rect x="299.50" y="217.50" width="51.90" height="53.40" fill="none" stroke="#c4c4c4" stroke-width="0.8"/>
<path d="M298.60 219.50h1.1M299.50 270.70v1.1M298.60 225.93h1.1M305.99 270.70v1.1M298.60 232.35h1.1M312.48 270.70v1.1M298.60 238.77h1.1M318.96 270.70v1.1M298.60 245.20h1.1M325.45 270.70v1.1M298.60 251.62h1.1M331.94 270.70v1.1M298.60 258.05h1.1M338.42 270.70v1.1M298.60 264.47h1.1M344.91 270.70v1.1M298.60 270.90h1.1M351.40 270.70v1.1" stroke="#555" stroke-width="0.5"/>
<text transform="translate(298.50 214.80) scale(1 1.08)" font-size="8" text-anchor="start" fill="#cc1030" font-weight="normal" stroke="#cc1030" stroke-width="0.12" >CD34+CD38+</text>
<text transform="translate(294.30 245.00) rotate(-90) scale(1 1.08)" font-size="7.3" text-anchor="middle" fill="#1a1a1a" stroke="#1a1a1a" stroke-width="0.12">mCherry</text>
<text transform="translate(325.00 280.60) scale(1 1.08)" font-size="7.6" text-anchor="middle" fill="#1a1a1a" font-weight="normal" stroke="#1a1a1a" stroke-width="0.12" >FSC-A</text>
<path d="M316 231h1v1h-1zM321 232h1v1h-1zM323 232h1v1h-1zM326 232h1v1h-1zM328 232h4v1h-4zM333 232h1v1h-1zM338 232h3v1h-3zM342 232h1v1h-1zM342 233h1v1h-1zM341 234h1v1h-1zM342 237h1v1h-1zM342 239h1v1h-1zM341 243h1v1h-1zM341 244h1v1h-1zM339 245h3v1h-3zM340 246h2v1h-2zM340 247h2v1h-2zM338 248h1v1h-1zM340 248h2v1h-2zM337 249h1v1h-1zM334 250h1v1h-1zM339 250h1v1h-1zM320 251h2v1h-2zM323 251h1v1h-1zM326 251h1v1h-1zM333 251h1v1h-1zM316 252h1v1h-1zM320 252h1v1h-1zM322 252h1v1h-1zM328 252h1v1h-1zM331 252h1v1h-1zM333 252h2v1h-2zM336 252h1v1h-1zM340 252h2v1h-2zM316 253h1v1h-1zM322 253h1v1h-1zM324 253h2v1h-2zM331 253h1v1h-1zM340 253h1v1h-1zM318 254h1v1h-1zM320 254h1v1h-1zM318 255h1v1h-1zM321 255h1v1h-1zM323 255h2v1h-2zM332 255h1v1h-1zM335 255h1v1h-1zM337 255h1v1h-1zM342 255h1v1h-1zM322 256h1v1h-1zM327 256h1v1h-1zM331 256h3v1h-3zM335 256h5v1h-5zM325 257h1v1h-1zM327 257h4v1h-4zM335 257h4v1h-4zM341 257h1v1h-1zM331 258h1v1h-1zM333 258h1v1h-1zM335 258h1v1h-1zM340 258h2v1h-2zM335 259h3v1h-3zM339 259h1v1h-1zM341 259h1v1h-1zM332 260h10v1h-10zM333 261h1v1h-1zM337 261h2v1h-2zM341 261h1v1h-1zM333 262h1v1h-1zM335 262h2v1h-2zM339 262h3v1h-3zM333 263h2v1h-2zM339 263h2v1h-2zM337 264h3v1h-3zM342 264h1v1h-1zM336 265h1v1h-1zM340 265h1v1h-1zM333 266h2v1h-2zM336 267h2v1h-2zM338 268h1v1h-1zM341 268h2v1h-2zM332 269h1v1h-1zM338 269h2v1h-2zM342 269h1v1h-1z" fill="#0012f5"/>
<path d="M316 232h2v1h-2zM322 232h1v1h-1zM324 232h1v1h-1zM334 232h2v1h-2zM337 232h1v1h-1zM325 233h1v1h-1zM332 233h1v1h-1zM335 233h5v1h-5zM341 233h1v1h-1zM336 234h1v1h-1zM338 234h2v1h-2zM340 235h1v1h-1zM341 241h1v1h-1zM340 242h2v1h-2zM339 243h2v1h-2zM337 246h3v1h-3zM338 247h2v1h-2zM329 248h1v1h-1zM331 248h2v1h-2zM334 248h2v1h-2zM337 248h1v1h-1zM339 248h1v1h-1zM324 249h1v1h-1zM329 249h2v1h-2zM332 249h1v1h-1zM334 249h3v1h-3zM338 249h1v1h-1zM323 250h2v1h-2zM326 250h8v1h-8zM335 250h1v1h-1zM337 250h1v1h-1zM316 251h4v1h-4zM322 251h1v1h-1zM317 252h3v1h-3zM316 255h2v1h-2zM319 255h2v1h-2zM322 255h1v1h-1zM325 255h5v1h-5zM331 255h1v1h-1zM333 255h2v1h-2zM336 255h1v1h-1zM338 255h1v1h-1zM340 255h2v1h-2zM316 256h1v1h-1zM318 256h2v1h-2zM321 256h1v1h-1zM323 256h4v1h-4zM328 256h3v1h-3zM316 257h2v1h-2zM320 257h5v1h-5zM326 257h1v1h-1zM331 257h2v1h-2zM334 257h1v1h-1zM321 258h2v1h-2zM324 258h7v1h-7zM332 258h1v1h-1zM337 258h1v1h-1zM339 258h1v1h-1zM323 259h12v1h-12zM338 259h1v1h-1zM340 259h1v1h-1zM326 260h1v1h-1zM329 260h3v1h-3zM331 261h2v1h-2zM334 261h3v1h-3zM340 261h1v1h-1zM326 262h1v1h-1zM330 262h2v1h-2zM334 262h1v1h-1zM337 262h1v1h-1zM332 263h1v1h-1zM335 263h2v1h-2zM338 263h1v1h-1zM331 264h6v1h-6zM340 264h2v1h-2zM330 265h1v1h-1zM332 265h1v1h-1zM334 265h2v1h-2zM337 265h1v1h-1zM339 265h1v1h-1zM329 266h4v1h-4zM335 266h6v1h-6zM328 267h8v1h-8zM338 267h4v1h-4zM328 268h10v1h-10zM339 268h2v1h-2zM324 269h1v1h-1zM326 269h1v1h-1zM328 269h1v1h-1zM331 269h1v1h-1zM333 269h5v1h-5zM340 269h2v1h-2z" fill="#001bfc"/>
<path d="M318 232h3v1h-3zM320 233h1v1h-1zM323 233h2v1h-2zM326 233h1v1h-1zM328 233h4v1h-4zM333 233h2v1h-2zM340 233h1v1h-1zM326 234h1v1h-1zM328 234h2v1h-2zM332 234h1v1h-1zM334 234h2v1h-2zM340 234h1v1h-1zM339 235h1v1h-1zM341 235h1v1h-1zM341 236h1v1h-1zM341 238h1v1h-1zM341 240h1v1h-1zM340 241h1v1h-1zM339 242h1v1h-1zM338 243h1v1h-1zM337 244h3v1h-3zM337 245h2v1h-2zM336 246h1v1h-1zM323 247h1v1h-1zM328 247h1v1h-1zM331 247h1v1h-1zM333 247h2v1h-2zM336 247h2v1h-2zM324 248h5v1h-5zM333 248h1v1h-1zM336 248h1v1h-1zM322 249h2v1h-2zM325 249h4v1h-4zM331 249h1v1h-1zM333 249h1v1h-1zM321 250h2v1h-2zM325 250h1v1h-1zM317 256h1v1h-1zM320 256h1v1h-1zM318 257h2v1h-2zM319 258h2v1h-2zM323 258h1v1h-1zM324 260h2v1h-2zM327 260h2v1h-2zM324 261h2v1h-2zM327 261h4v1h-4zM323 262h1v1h-1zM325 262h1v1h-1zM327 262h3v1h-3zM332 262h1v1h-1zM327 263h5v1h-5zM325 264h6v1h-6zM324 265h6v1h-6zM331 265h1v1h-1zM333 265h1v1h-1zM326 266h2v1h-2zM322 267h2v1h-2zM325 267h3v1h-3zM322 268h2v1h-2zM325 268h3v1h-3zM316 269h1v1h-1zM320 269h4v1h-4zM325 269h1v1h-1zM327 269h1v1h-1zM329 269h2v1h-2z" fill="#0032ff"/>
<path d="M316 233h3v1h-3zM321 233h2v1h-2zM327 233h1v1h-1zM324 234h2v1h-2zM327 234h1v1h-1zM330 234h2v1h-2zM333 234h1v1h-1zM337 234h1v1h-1zM326 235h1v1h-1zM335 235h1v1h-1zM338 235h1v1h-1zM341 237h1v1h-1zM341 239h1v1h-1zM336 243h1v1h-1zM336 244h1v1h-1zM330 245h1v1h-1zM333 245h4v1h-4zM324 246h1v1h-1zM331 246h3v1h-3zM335 246h1v1h-1zM325 247h1v1h-1zM327 247h1v1h-1zM329 247h2v1h-2zM332 247h1v1h-1zM335 247h1v1h-1zM323 248h1v1h-1zM330 248h1v1h-1zM320 249h2v1h-2zM318 250h1v1h-1zM320 250h1v1h-1zM316 258h3v1h-3zM322 259h1v1h-1zM322 260h2v1h-2zM322 261h2v1h-2zM326 261h1v1h-1zM324 262h1v1h-1zM324 263h1v1h-1zM326 263h1v1h-1zM324 264h1v1h-1zM322 266h1v1h-1zM324 266h2v1h-2zM328 266h1v1h-1zM321 267h1v1h-1zM324 267h1v1h-1zM320 268h2v1h-2zM324 268h1v1h-1zM317 269h3v1h-3z" fill="#0051ff"/>
<path d="M319 233h1v1h-1zM316 234h1v1h-1zM320 234h1v1h-1zM323 234h1v1h-1zM324 235h2v1h-2zM328 235h6v1h-6zM336 235h2v1h-2zM336 236h1v1h-1zM338 236h3v1h-3zM340 237h1v1h-1zM338 241h2v1h-2zM337 242h2v1h-2zM332 243h2v1h-2zM337 243h1v1h-1zM327 244h1v1h-1zM331 244h1v1h-1zM334 244h2v1h-2zM323 245h1v1h-1zM326 245h4v1h-4zM327 246h1v1h-1zM329 246h2v1h-2zM334 246h1v1h-1zM321 247h2v1h-2zM324 247h1v1h-1zM326 247h1v1h-1zM321 248h2v1h-2zM316 249h1v1h-1zM316 250h2v1h-2zM319 250h1v1h-1zM316 259h1v1h-1zM320 259h2v1h-2zM321 261h1v1h-1zM322 262h1v1h-1zM323 263h1v1h-1zM325 263h1v1h-1zM322 265h2v1h-2zM323 266h1v1h-1zM320 267h1v1h-1zM317 268h1v1h-1z" fill="#0070ff"/>
<path d="M317 234h2v1h-2zM323 235h1v1h-1zM326 236h1v1h-1zM329 236h4v1h-4zM335 236h1v1h-1zM339 237h1v1h-1zM339 239h1v1h-1zM337 240h2v1h-2zM330 241h1v1h-1zM332 241h1v1h-1zM334 241h3v1h-3zM323 242h3v1h-3zM322 243h1v1h-1zM324 244h1v1h-1zM322 245h1v1h-1zM321 246h1v1h-1zM320 247h1v1h-1zM318 248h2v1h-2zM317 259h1v1h-1zM316 260h1v1h-1zM321 262h1v1h-1zM321 263h1v1h-1zM321 264h1v1h-1zM321 265h1v1h-1zM320 266h1v1h-1zM318 267h1v1h-1z" fill="#00c0ef"/>
<path d="M319 234h1v1h-1zM322 234h1v1h-1zM327 235h1v1h-1zM334 235h1v1h-1zM340 240h1v1h-1zM337 241h1v1h-1zM328 242h1v1h-1zM334 242h1v1h-1zM324 243h2v1h-2zM327 243h3v1h-3zM331 243h1v1h-1zM335 243h1v1h-1zM326 244h1v1h-1zM328 244h1v1h-1zM332 244h1v1h-1zM324 245h2v1h-2zM331 245h2v1h-2zM323 246h1v1h-1zM325 246h2v1h-2zM328 246h1v1h-1zM320 248h1v1h-1zM319 249h1v1h-1zM318 259h2v1h-2zM321 260h1v1h-1zM322 263h1v1h-1zM323 264h1v1h-1zM321 266h1v1h-1zM316 267h1v1h-1zM316 268h1v1h-1zM319 268h1v1h-1z" fill="#0090ff"/>
<path d="M321 234h1v1h-1zM322 235h1v1h-1zM333 236h2v1h-2zM337 236h1v1h-1zM340 238h1v1h-1zM340 239h1v1h-1zM339 240h1v1h-1zM326 242h2v1h-2zM330 242h4v1h-4zM335 242h2v1h-2zM326 243h1v1h-1zM330 243h1v1h-1zM334 243h1v1h-1zM322 244h2v1h-2zM325 244h1v1h-1zM329 244h2v1h-2zM333 244h1v1h-1zM322 246h1v1h-1zM316 248h2v1h-2zM317 249h2v1h-2zM320 260h1v1h-1zM322 264h1v1h-1zM317 267h1v1h-1zM319 267h1v1h-1zM318 268h1v1h-1z" fill="#00adfd"/>
<path d="M316 235h1v1h-1zM321 235h1v1h-1zM324 236h2v1h-2zM327 236h2v1h-2zM337 237h1v1h-1zM339 238h1v1h-1zM336 240h1v1h-1zM324 241h6v1h-6zM331 241h1v1h-1zM333 241h1v1h-1zM322 242h1v1h-1zM329 242h1v1h-1zM321 243h1v1h-1zM323 243h1v1h-1zM321 245h1v1h-1zM316 247h4v1h-4zM319 260h1v1h-1zM320 261h1v1h-1zM316 266h1v1h-1z" fill="#00d4e2"/>
<path d="M317 235h3v1h-3zM325 237h1v1h-1zM330 237h2v1h-2zM337 238h2v1h-2zM335 239h2v1h-2zM325 240h6v1h-6zM333 240h1v1h-1zM321 242h1v1h-1zM320 245h1v1h-1zM316 246h1v1h-1zM319 261h1v1h-1zM320 264h1v1h-1zM316 265h1v1h-1zM317 266h2v1h-2z" fill="#0aecb3"/>
<path d="M320 235h1v1h-1zM323 236h1v1h-1zM332 237h5v1h-5zM338 237h1v1h-1zM337 239h2v1h-2zM331 240h2v1h-2zM334 240h2v1h-2zM323 241h1v1h-1zM321 244h1v1h-1zM320 246h1v1h-1zM317 260h2v1h-2zM316 261h1v1h-1zM320 262h1v1h-1zM320 265h1v1h-1zM319 266h1v1h-1z" fill="#00e7d5"/>
<path d="M316 236h1v1h-1zM323 237h1v1h-1zM325 238h2v1h-2zM326 239h1v1h-1zM320 241h2v1h-2zM319 242h1v1h-1zM316 244h1v1h-1zM319 245h1v1h-1zM317 246h1v1h-1zM319 262h1v1h-1zM319 264h1v1h-1zM318 265h1v1h-1z" fill="#3af047"/>
<path d="M317 236h1v1h-1zM320 236h1v1h-1zM322 239h1v1h-1zM317 240h1v1h-1zM318 244h1v1h-1z" fill="#cfe700"/>
<path d="M318 236h1v1h-1zM316 237h1v1h-1zM316 239h1v1h-1zM318 240h3v1h-3z" fill="#ddd500"/>
<path d="M319 236h1v1h-1zM322 238h1v1h-1z" fill="#ebc300"/>
<path d="M321 236h1v1h-1zM323 238h1v1h-1zM316 240h1v1h-1zM317 243h1v1h-1zM317 244h1v1h-1zM317 245h1v1h-1zM318 262h1v1h-1zM317 263h1v1h-1zM317 264h1v1h-1z" fill="#8cf01e"/>
<path d="M322 236h1v1h-1zM324 237h1v1h-1zM327 238h7v1h-7zM325 239h1v1h-1zM327 239h3v1h-3zM323 240h1v1h-1zM320 242h1v1h-1zM316 245h1v1h-1zM318 246h1v1h-1zM318 261h1v1h-1zM316 263h1v1h-1zM317 265h1v1h-1zM319 265h1v1h-1z" fill="#21ef66"/>
<path d="M317 237h1v1h-1zM319 239h2v1h-2z" fill="#ff4500"/>
<path d="M318 237h2v1h-2zM318 238h3v1h-3z" fill="#e60000"/>
<path d="M320 237h1v1h-1zM321 238h1v1h-1z" fill="#f11200"/>
<path d="M321 237h1v1h-1zM321 239h1v1h-1z" fill="#ff6c00"/>
<path d="M322 237h1v1h-1zM321 240h1v1h-1zM318 243h1v1h-1zM318 245h1v1h-1zM318 263h1v1h-1zM318 264h1v1h-1z" fill="#b4f00a"/>
<path d="M326 237h4v1h-4zM334 238h3v1h-3zM330 239h5v1h-5zM324 240h1v1h-1zM322 241h1v1h-1zM320 243h1v1h-1zM320 244h1v1h-1zM319 246h1v1h-1zM317 261h1v1h-1zM316 262h1v1h-1zM320 263h1v1h-1zM316 264h1v1h-1z" fill="#15ee8c"/>
<path d="M316 238h1v1h-1z" fill="#f9b100"/>
<path d="M317 238h1v1h-1zM318 239h1v1h-1z" fill="#fc2400"/>
<path d="M324 238h1v1h-1zM323 239h2v1h-2zM322 240h1v1h-1zM316 241h4v1h-4zM316 242h3v1h-3zM316 243h1v1h-1zM319 243h1v1h-1zM319 244h1v1h-1zM317 262h1v1h-1zM319 263h1v1h-1z" fill="#63f033"/>
<path d="M317 239h1v1h-1z" fill="#ff9300"/>
<path d="M335 251h1v1h-1zM326 253h2v1h-2zM317 254h1v1h-1zM324 254h1v1h-1z" fill="#0009ed"/>
<path d="M318.5 226.6h.7v.7h-.7zM321.2 227.2h.7v.7h-.7zM323.6 227.2h.7v.7h-.7zM324.5 227.1h.7v.7h-.7zM316.1 228.3h.7v.7h-.7zM319.3 228.2h.7v.7h-.7zM333.5 228.1h.7v.7h-.7zM339.4 228.4h.7v.7h-.7zM341.5 228.2h.7v.7h-.7zM342.5 228.1h.7v.7h-.7zM316.0 229.5h.7v.7h-.7zM319.1 229.3h.7v.7h-.7zM327.0 229.2h.7v.7h-.7zM334.4 229.3h.7v.7h-.7zM320.6 230.4h.7v.7h-.7zM321.4 230.0h.7v.7h-.7zM322.2 230.1h.7v.7h-.7zM324.4 230.1h.7v.7h-.7zM328.6 230.3h.7v.7h-.7zM330.5 230.4h.7v.7h-.7zM335.3 230.3h.7v.7h-.7zM337.3 230.4h.7v.7h-.7zM338.2 230.3h.7v.7h-.7zM340.5 230.5h.7v.7h-.7zM318.2 231.4h.7v.7h-.7zM320.0 231.0h.7v.7h-.7zM321.0 231.5h.7v.7h-.7zM322.5 231.4h.7v.7h-.7zM326.3 231.4h.7v.7h-.7zM328.3 231.1h.7v.7h-.7zM330.4 231.3h.7v.7h-.7zM331.5 231.2h.7v.7h-.7zM338.4 231.1h.7v.7h-.7zM339.4 231.4h.7v.7h-.7zM340.2 231.0h.7v.7h-.7zM342.2 231.1h.7v.7h-.7zM325.1 232.0h.7v.7h-.7zM336.3 232.6h.7v.7h-.7zM341.3 232.5h.7v.7h-.7zM342.1 241.3h.7v.7h-.7zM342.2 242.0h.7v.7h-.7zM340.3 244.5h.7v.7h-.7zM342.3 246.0h.7v.7h-.7zM342.3 247.0h.7v.7h-.7zM336.4 250.5h.7v.7h-.7zM338.1 250.5h.7v.7h-.7zM340.5 250.1h.7v.7h-.7zM341.4 250.1h.7v.7h-.7zM342.6 250.4h.7v.7h-.7zM324.1 251.3h.7v.7h-.7zM327.0 251.3h.7v.7h-.7zM328.5 251.6h.7v.7h-.7zM330.4 251.2h.7v.7h-.7zM339.4 251.0h.7v.7h-.7zM321.6 252.5h.7v.7h-.7zM323.2 252.4h.7v.7h-.7zM325.4 252.4h.7v.7h-.7zM326.0 252.2h.7v.7h-.7zM327.2 252.2h.7v.7h-.7zM330.2 252.5h.7v.7h-.7zM332.0 252.2h.7v.7h-.7zM335.4 252.2h.7v.7h-.7zM342.3 252.4h.7v.7h-.7zM343.2 252.2h.7v.7h-.7zM318.1 253.4h.7v.7h-.7zM328.4 253.4h.7v.7h-.7zM329.4 253.2h.7v.7h-.7zM332.0 253.3h.7v.7h-.7zM334.5 253.4h.7v.7h-.7zM335.3 253.5h.7v.7h-.7zM338.4 253.3h.7v.7h-.7zM341.4 253.2h.7v.7h-.7zM343.2 253.3h.7v.7h-.7zM321.3 254.1h.7v.7h-.7zM322.5 254.2h.7v.7h-.7zM323.2 254.4h.7v.7h-.7zM328.1 254.0h.7v.7h-.7zM331.1 254.3h.7v.7h-.7zM332.3 254.1h.7v.7h-.7zM334.5 254.0h.7v.7h-.7zM335.4 254.3h.7v.7h-.7zM336.1 254.4h.7v.7h-.7zM341.3 254.1h.7v.7h-.7zM343.2 254.2h.7v.7h-.7zM330.1 255.3h.7v.7h-.7zM339.5 255.2h.7v.7h-.7zM334.1 256.3h.7v.7h-.7zM339.1 257.5h.7v.7h-.7zM340.1 257.2h.7v.7h-.7zM334.3 258.2h.7v.7h-.7zM336.4 258.4h.7v.7h-.7zM338.0 258.4h.7v.7h-.7zM342.3 258.5h.7v.7h-.7zM342.1 260.6h.7v.7h-.7zM343.4 260.0h.7v.7h-.7zM339.1 261.1h.7v.7h-.7zM342.1 261.0h.7v.7h-.7zM343.5 262.2h.7v.7h-.7zM337.2 263.3h.7v.7h-.7zM342.5 263.4h.7v.7h-.7zM338.1 265.2h.7v.7h-.7zM341.4 265.4h.7v.7h-.7zM342.2 265.3h.7v.7h-.7zM341.2 266.3h.7v.7h-.7zM343.6 266.1h.7v.7h-.7z" fill="#1428ff" fill-opacity="0.7"/>
<path d="M303.00 220.40L349.10 220.40L349.10 252.30L312.80 252.30L305.90 244.90Z" fill="none" stroke="#3a3a3a" stroke-width="0.5"/>
<rect x="42.40" y="300.40" width="52.30" height="51.90" fill="none" stroke="#c4c4c4" stroke-width="0.8"/>
<path d="M41.50 302.40h1.1M42.40 352.10v1.1M41.50 308.64h1.1M48.94 352.10v1.1M41.50 314.88h1.1M55.48 352.10v1.1M41.50 321.11h1.1M62.01 352.10v1.1M41.50 327.35h1.1M68.55 352.10v1.1M41.50 333.59h1.1M75.09 352.10v1.1M41.50 339.82h1.1M81.62 352.10v1.1M41.50 346.06h1.1M88.16 352.10v1.1M41.50 352.30h1.1M94.70 352.10v1.1" stroke="#555" stroke-width="0.5"/>
<text transform="translate(42.20 297.80) scale(1 1.08)" font-size="8" text-anchor="start" fill="#cc1030" font-weight="normal" stroke="#cc1030" stroke-width="0.12" >CD34+CD38−</text>
<text transform="translate(38.40 327.70) rotate(-90) scale(1 1.08)" font-size="7.9" text-anchor="middle" fill="#1a1a1a" stroke="#1a1a1a" stroke-width="0.12">CD90</text>
<text transform="translate(52.30 363.50) scale(1 1.08)" font-size="7.8" text-anchor="start" fill="#1a1a1a" font-weight="normal" stroke="#1a1a1a" stroke-width="0.12" >CD45RA</text>
<path d="M57 332h2v1h-2zM57 333h1v1h-1zM59 333h1v1h-1zM62 333h1v1h-1zM62 334h2v1h-2zM69 334h1v1h-1zM53 335h1v1h-1zM67 335h1v1h-1zM69 335h1v1h-1zM71 335h1v1h-1zM53 336h1v1h-1zM71 336h1v1h-1zM53 337h1v1h-1zM71 337h1v1h-1zM72 339h1v1h-1zM53 340h1v1h-1zM71 340h1v1h-1zM64 342h1v1h-1z" fill="#0012f5"/>
<path d="M57 334h2v1h-2zM60 334h1v1h-1zM54 335h1v1h-1zM61 335h2v1h-2zM64 335h3v1h-3zM54 336h1v1h-1zM70 337h1v1h-1zM53 338h1v1h-1zM71 338h1v1h-1zM54 339h1v1h-1zM71 339h1v1h-1zM54 340h2v1h-2zM70 340h1v1h-1zM56 341h4v1h-4zM68 341h1v1h-1z" fill="#001bfc"/>
<path d="M72 334h1v1h-1z" fill="#0009ed"/>
<path d="M57 335h4v1h-4zM55 336h1v1h-1zM63 336h5v1h-5zM54 337h2v1h-2zM69 337h1v1h-1zM54 338h2v1h-2zM70 338h1v1h-1zM55 339h1v1h-1zM70 339h1v1h-1zM56 340h2v1h-2zM60 341h4v1h-4zM67 341h1v1h-1z" fill="#0032ff"/>
<path d="M56 336h7v1h-7zM56 337h1v1h-1zM56 338h1v1h-1zM56 339h1v1h-1zM58 340h1v1h-1zM69 340h1v1h-1zM64 341h3v1h-3z" fill="#0051ff"/>
<path d="M57 337h2v1h-2zM61 337h1v1h-1zM67 337h2v1h-2zM57 338h1v1h-1zM69 338h1v1h-1zM57 339h2v1h-2zM59 340h2v1h-2z" fill="#0070ff"/>
<path d="M59 337h2v1h-2zM62 337h3v1h-3zM66 337h1v1h-1zM58 338h3v1h-3zM59 339h1v1h-1zM69 339h1v1h-1zM61 340h2v1h-2zM68 340h1v1h-1z" fill="#0090ff"/>
<path d="M65 337h1v1h-1zM61 338h1v1h-1zM60 339h2v1h-2zM63 340h1v1h-1z" fill="#00adfd"/>
<path d="M62 338h1v1h-1zM68 338h1v1h-1z" fill="#00c0ef"/>
<path d="M63 338h1v1h-1zM65 340h2v1h-2z" fill="#00e7d5"/>
<path d="M64 338h1v1h-1z" fill="#15ee8c"/>
<path d="M65 338h2v1h-2z" fill="#21ef66"/>
<path d="M67 338h1v1h-1zM63 339h1v1h-1z" fill="#0aecb3"/>
<path d="M62 339h1v1h-1zM68 339h1v1h-1zM64 340h1v1h-1zM67 340h1v1h-1z" fill="#00d4e2"/>
<path d="M64 339h1v1h-1zM67 339h1v1h-1z" fill="#3af047"/>
<path d="M65 339h2v1h-2z" fill="#b4f00a"/>
<path d="M55.1 322.5h.7v.7h-.7zM55.1 324.0h.7v.7h-.7zM52.6 325.0h.7v.7h-.7zM52.1 326.0h.7v.7h-.7zM55.5 326.3h.7v.7h-.7zM57.4 326.3h.7v.7h-.7zM55.3 327.2h.7v.7h-.7zM55.1 328.5h.7v.7h-.7zM57.5 328.2h.7v.7h-.7zM61.6 328.4h.7v.7h-.7zM64.6 328.5h.7v.7h-.7zM52.2 329.4h.7v.7h-.7zM53.1 329.0h.7v.7h-.7zM55.4 329.1h.7v.7h-.7zM59.1 329.0h.7v.7h-.7zM72.2 329.3h.7v.7h-.7zM73.5 329.2h.7v.7h-.7zM53.2 330.3h.7v.7h-.7zM61.4 330.1h.7v.7h-.7zM70.6 330.4h.7v.7h-.7zM72.5 330.5h.7v.7h-.7zM51.2 331.1h.7v.7h-.7zM60.1 331.1h.7v.7h-.7zM65.3 331.4h.7v.7h-.7zM67.2 331.4h.7v.7h-.7zM68.4 331.2h.7v.7h-.7zM55.1 332.1h.7v.7h-.7zM59.4 332.3h.7v.7h-.7zM63.0 332.1h.7v.7h-.7zM68.4 332.3h.7v.7h-.7zM79.2 332.2h.7v.7h-.7zM53.3 333.3h.7v.7h-.7zM54.4 333.3h.7v.7h-.7zM58.2 333.5h.7v.7h-.7zM63.5 333.1h.7v.7h-.7zM64.4 333.5h.7v.7h-.7zM75.4 333.6h.7v.7h-.7zM55.5 334.4h.7v.7h-.7zM61.1 334.5h.7v.7h-.7zM66.2 334.2h.7v.7h-.7zM67.5 334.2h.7v.7h-.7zM68.4 334.4h.7v.7h-.7zM73.3 334.3h.7v.7h-.7zM74.4 334.2h.7v.7h-.7zM51.3 335.5h.7v.7h-.7zM55.6 335.1h.7v.7h-.7zM56.3 335.6h.7v.7h-.7zM63.4 335.2h.7v.7h-.7zM76.3 335.3h.7v.7h-.7zM52.3 336.6h.7v.7h-.7zM68.1 336.1h.7v.7h-.7zM73.5 337.4h.7v.7h-.7zM53.5 339.3h.7v.7h-.7zM72.3 340.1h.7v.7h-.7zM54.5 341.2h.7v.7h-.7zM69.4 341.2h.7v.7h-.7zM70.1 341.5h.7v.7h-.7zM71.1 341.2h.7v.7h-.7zM55.4 342.5h.7v.7h-.7zM63.3 342.3h.7v.7h-.7zM66.6 342.5h.7v.7h-.7zM67.4 342.4h.7v.7h-.7zM68.6 342.5h.7v.7h-.7zM61.2 343.5h.7v.7h-.7zM62.3 343.4h.7v.7h-.7zM74.6 343.4h.7v.7h-.7zM63.2 344.2h.7v.7h-.7zM65.2 344.4h.7v.7h-.7zM69.5 344.2h.7v.7h-.7z" fill="#3040ff" fill-opacity="0.7"/>
<path d="M45.30 312.50L64.00 311.30L63.80 334.10L47.50 336.40Z" fill="none" stroke="#3a3a3a" stroke-width="0.5"/>
<path d="M47.50 336.40L63.80 334.10L63.40 345.60L47.90 346.40Z" fill="none" stroke="#3a3a3a" stroke-width="0.5"/>
<path d="M64.00 323.10L82.50 323.40L82.50 346.10L63.70 345.60Z" fill="none" stroke="#3a3a3a" stroke-width="0.5"/>
<line x1="64.00" y1="311.30" x2="141.92" y2="295.77" stroke="#c8143c" stroke-width="0.95" />
<path d="M147.80 294.60L142.54 298.91L141.29 292.63Z" fill="#c8143c"/>
<line x1="47.90" y1="346.40" x2="51.45" y2="368.67" stroke="#c8143c" stroke-width="0.95" />
<path d="M52.40 374.60L48.29 369.18L54.61 368.17Z" fill="#c8143c"/>
<line x1="82.50" y1="346.10" x2="142.04" y2="370.34" stroke="#c8143c" stroke-width="0.95" />
<path d="M147.60 372.60L140.84 373.30L143.25 367.37Z" fill="#c8143c"/>
<path d="M186.70 300.60H134.70V353.10H186.70" fill="none" stroke="#cccccc" stroke-width="0.8"/>
<path d="M133.80 302.60h1.1M134.70 352.90v1.1M133.80 308.91h1.1M141.20 352.90v1.1M133.80 315.23h1.1M147.70 352.90v1.1M133.80 321.54h1.1M154.20 352.90v1.1M133.80 327.85h1.1M160.70 352.90v1.1M133.80 334.16h1.1M167.20 352.90v1.1M133.80 340.48h1.1M173.70 352.90v1.1M133.80 346.79h1.1M180.20 352.90v1.1M133.80 353.10h1.1M186.70 352.90v1.1" stroke="#555" stroke-width="0.5"/>
<text transform="translate(151.60 297.90) scale(1 1.08)" font-size="8" text-anchor="start" fill="#cc1030" font-weight="normal" stroke="#cc1030" stroke-width="0.12" >HSC</text>
<text transform="translate(129.70 328.10) rotate(-90) scale(1 1.08)" font-size="7.3" text-anchor="middle" fill="#1a1a1a" stroke="#1a1a1a" stroke-width="0.12">mCherry</text>
<text transform="translate(160.50 362.70) scale(1 1.08)" font-size="7.6" text-anchor="middle" fill="#1a1a1a" font-weight="normal" stroke="#1a1a1a" stroke-width="0.12" >FSC-A</text>
<path d="M173.2 320.6h0.7v0.7h-0.7zM168.8 312.6h0.7v0.7h-0.7zM168.6 314.7h0.7v0.7h-0.7zM164.8 317.1h0.7v0.7h-0.7zM166.0 325.7h0.7v0.7h-0.7zM175.0 313.7h0.7v0.7h-0.7zM166.0 316.9h0.7v0.7h-0.7zM168.2 313.9h0.7v0.7h-0.7zM161.2 319.3h0.7v0.7h-0.7zM164.2 323.2h0.7v0.7h-0.7zM166.3 320.3h0.7v0.7h-0.7zM165.5 322.2h0.7v0.7h-0.7zM172.7 319.3h0.7v0.7h-0.7zM165.3 321.5h0.7v0.7h-0.7zM168.0 322.8h0.7v0.7h-0.7zM168.0 319.9h0.7v0.7h-0.7zM171.0 316.8h0.7v0.7h-0.7zM162.1 321.1h0.7v0.7h-0.7zM166.7 321.6h0.7v0.7h-0.7zM171.1 320.8h0.7v0.7h-0.7zM165.0 324.9h0.7v0.7h-0.7zM157.6 317.0h0.7v0.7h-0.7zM162.1 326.2h0.7v0.7h-0.7zM166.0 318.9h0.7v0.7h-0.7zM170.2 323.8h0.7v0.7h-0.7zM171.8 319.3h0.7v0.7h-0.7zM168.3 315.9h0.7v0.7h-0.7zM168.7 318.6h0.7v0.7h-0.7zM158.0 320.3h0.7v0.7h-0.7zM167.0 322.3h0.7v0.7h-0.7zM170.3 319.9h0.7v0.7h-0.7zM166.8 325.0h0.7v0.7h-0.7zM168.5 323.1h0.7v0.7h-0.7zM169.5 324.1h0.7v0.7h-0.7zM171.9 315.8h0.7v0.7h-0.7zM170.0 325.0h0.7v0.7h-0.7zM173.5 318.5h0.7v0.7h-0.7zM174.8 322.6h0.7v0.7h-0.7zM170.5 317.3h0.7v0.7h-0.7zM169.5 321.3h0.7v0.7h-0.7z" fill="#3838e6" fill-opacity="0.42"/>
<path d="M168.4 326.0h0.7v0.7h-0.7zM178.1 315.4h0.7v0.7h-0.7zM173.7 322.4h0.7v0.7h-0.7zM172.0 317.4h0.7v0.7h-0.7zM163.4 319.9h0.7v0.7h-0.7zM161.4 319.4h0.7v0.7h-0.7zM163.2 313.5h0.7v0.7h-0.7zM158.6 324.3h0.7v0.7h-0.7zM175.4 318.8h0.7v0.7h-0.7zM169.7 320.9h0.7v0.7h-0.7zM170.0 317.3h0.7v0.7h-0.7zM161.4 323.4h0.7v0.7h-0.7zM174.4 316.9h0.7v0.7h-0.7zM179.4 319.3h0.7v0.7h-0.7zM168.1 327.1h0.7v0.7h-0.7zM174.4 317.8h0.7v0.7h-0.7z" fill="#3838e6" fill-opacity="0.45"/>
<path d="M163.9 351.6h0.7v0.7h-0.7zM163.8 345.4h0.7v0.7h-0.7zM163.9 346.0h0.7v0.7h-0.7zM160.0 344.8h0.7v0.7h-0.7zM165.9 353.5h0.7v0.7h-0.7zM162.3 346.6h0.7v0.7h-0.7zM165.2 350.8h0.7v0.7h-0.7zM164.7 343.8h0.7v0.7h-0.7zM167.7 346.2h0.7v0.7h-0.7zM163.6 356.3h0.7v0.7h-0.7zM159.6 344.9h0.7v0.7h-0.7zM160.7 350.9h0.7v0.7h-0.7zM161.1 345.8h0.7v0.7h-0.7zM164.3 343.8h0.7v0.7h-0.7zM163.2 343.4h0.7v0.7h-0.7zM161.7 341.7h0.7v0.7h-0.7zM163.9 343.8h0.7v0.7h-0.7zM160.8 343.3h0.7v0.7h-0.7zM168.8 340.2h0.7v0.7h-0.7zM162.0 342.9h0.7v0.7h-0.7zM163.3 348.0h0.7v0.7h-0.7zM161.6 346.1h0.7v0.7h-0.7zM164.6 351.4h0.7v0.7h-0.7zM161.9 342.3h0.7v0.7h-0.7zM165.1 344.8h0.7v0.7h-0.7zM161.9 343.9h0.7v0.7h-0.7zM166.7 338.8h0.7v0.7h-0.7zM162.8 351.5h0.7v0.7h-0.7zM164.2 342.0h0.7v0.7h-0.7zM161.8 348.9h0.7v0.7h-0.7zM164.5 343.4h0.7v0.7h-0.7zM161.9 340.0h0.7v0.7h-0.7z" fill="#3838e6" fill-opacity="0.42"/>
<path d="M163.8 345.1h0.7v0.7h-0.7zM160.1 349.4h0.7v0.7h-0.7zM168.7 349.1h0.7v0.7h-0.7zM157.1 349.8h0.7v0.7h-0.7zM168.0 338.4h0.7v0.7h-0.7zM167.2 338.3h0.7v0.7h-0.7zM171.7 337.5h0.7v0.7h-0.7z" fill="#3838e6" fill-opacity="0.45"/>
<path d="M138.80 303.50L185.70 303.50L185.70 335.20L148.90 335.20L141.60 328.00Z" fill="none" stroke="#3a3a3a" stroke-width="0.5"/>
<path d="M94.20 378.90H42.20V431.40H94.20" fill="none" stroke="#cccccc" stroke-width="0.8"/>
<path d="M41.30 380.90h1.1M42.20 431.20v1.1M41.30 387.21h1.1M48.70 431.20v1.1M41.30 393.52h1.1M55.20 431.20v1.1M41.30 399.84h1.1M61.70 431.20v1.1M41.30 406.15h1.1M68.20 431.20v1.1M41.30 412.46h1.1M74.70 431.20v1.1M41.30 418.77h1.1M81.20 431.20v1.1M41.30 425.09h1.1M87.70 431.20v1.1M41.30 431.40h1.1M94.20 431.20v1.1" stroke="#555" stroke-width="0.5"/>
<text transform="translate(59.30 376.00) scale(1 1.08)" font-size="8" text-anchor="start" fill="#cc1030" font-weight="normal" stroke="#cc1030" stroke-width="0.12" >MPP</text>
<text transform="translate(37.20 406.40) rotate(-90) scale(1 1.08)" font-size="7.3" text-anchor="middle" fill="#1a1a1a" stroke="#1a1a1a" stroke-width="0.12">mCherry</text>
<text transform="translate(68.00 441.00) scale(1 1.08)" font-size="7.6" text-anchor="middle" fill="#1a1a1a" font-weight="normal" stroke="#1a1a1a" stroke-width="0.12" >FSC-A</text>
<path d="M77.2 396.3h0.7v0.7h-0.7zM79.8 400.7h0.7v0.7h-0.7zM76.2 402.6h0.7v0.7h-0.7zM76.4 400.3h0.7v0.7h-0.7zM78.8 399.9h0.7v0.7h-0.7zM77.1 399.1h0.7v0.7h-0.7zM73.9 400.1h0.7v0.7h-0.7zM73.8 400.7h0.7v0.7h-0.7zM75.0 398.7h0.7v0.7h-0.7zM75.5 397.1h0.7v0.7h-0.7zM78.3 401.5h0.7v0.7h-0.7zM68.0 400.1h0.7v0.7h-0.7zM74.4 401.4h0.7v0.7h-0.7zM82.9 398.9h0.7v0.7h-0.7zM75.5 398.0h0.7v0.7h-0.7zM77.0 401.8h0.7v0.7h-0.7zM76.7 400.3h0.7v0.7h-0.7zM72.2 399.9h0.7v0.7h-0.7zM72.7 399.2h0.7v0.7h-0.7zM81.1 400.3h0.7v0.7h-0.7zM73.3 397.4h0.7v0.7h-0.7zM70.7 398.8h0.7v0.7h-0.7zM82.9 399.4h0.7v0.7h-0.7zM75.1 397.5h0.7v0.7h-0.7zM74.3 402.4h0.7v0.7h-0.7zM79.2 399.6h0.7v0.7h-0.7zM73.1 401.7h0.7v0.7h-0.7zM83.6 407.0h0.7v0.7h-0.7zM80.6 400.1h0.7v0.7h-0.7zM78.2 399.1h0.7v0.7h-0.7zM73.2 398.4h0.7v0.7h-0.7zM75.9 401.7h0.7v0.7h-0.7zM80.8 403.2h0.7v0.7h-0.7zM77.4 394.7h0.7v0.7h-0.7zM80.9 401.2h0.7v0.7h-0.7zM73.5 403.2h0.7v0.7h-0.7zM72.9 399.3h0.7v0.7h-0.7zM75.9 400.0h0.7v0.7h-0.7zM75.6 395.1h0.7v0.7h-0.7zM71.1 399.8h0.7v0.7h-0.7zM78.4 399.9h0.7v0.7h-0.7zM71.8 397.0h0.7v0.7h-0.7zM71.8 402.7h0.7v0.7h-0.7zM72.4 401.9h0.7v0.7h-0.7zM71.8 397.6h0.7v0.7h-0.7zM73.6 403.2h0.7v0.7h-0.7zM73.4 399.5h0.7v0.7h-0.7zM73.7 398.7h0.7v0.7h-0.7zM79.1 398.5h0.7v0.7h-0.7zM75.0 397.0h0.7v0.7h-0.7zM73.4 400.3h0.7v0.7h-0.7zM80.8 404.5h0.7v0.7h-0.7zM71.6 399.5h0.7v0.7h-0.7zM69.5 399.2h0.7v0.7h-0.7zM76.0 401.5h0.7v0.7h-0.7zM77.5 397.5h0.7v0.7h-0.7zM71.6 396.4h0.7v0.7h-0.7zM81.3 396.9h0.7v0.7h-0.7zM79.1 400.7h0.7v0.7h-0.7zM79.0 396.0h0.7v0.7h-0.7zM77.2 401.0h0.7v0.7h-0.7zM75.8 401.2h0.7v0.7h-0.7zM71.9 403.5h0.7v0.7h-0.7zM72.0 399.6h0.7v0.7h-0.7zM78.8 401.3h0.7v0.7h-0.7zM81.2 399.9h0.7v0.7h-0.7zM72.0 400.9h0.7v0.7h-0.7zM77.6 396.0h0.7v0.7h-0.7zM78.9 403.1h0.7v0.7h-0.7zM73.0 402.2h0.7v0.7h-0.7zM76.1 402.4h0.7v0.7h-0.7zM74.0 402.1h0.7v0.7h-0.7zM78.1 400.2h0.7v0.7h-0.7zM74.7 399.6h0.7v0.7h-0.7zM78.2 403.6h0.7v0.7h-0.7zM75.3 402.2h0.7v0.7h-0.7zM76.1 404.7h0.7v0.7h-0.7zM80.0 401.9h0.7v0.7h-0.7zM77.3 398.7h0.7v0.7h-0.7zM70.3 402.1h0.7v0.7h-0.7zM73.3 398.4h0.7v0.7h-0.7zM79.4 400.7h0.7v0.7h-0.7zM72.1 402.9h0.7v0.7h-0.7zM74.8 402.5h0.7v0.7h-0.7zM72.0 396.3h0.7v0.7h-0.7zM73.7 402.0h0.7v0.7h-0.7zM68.8 397.3h0.7v0.7h-0.7zM79.1 406.2h0.7v0.7h-0.7zM75.0 397.7h0.7v0.7h-0.7zM74.2 398.1h0.7v0.7h-0.7zM81.1 401.8h0.7v0.7h-0.7zM72.7 402.1h0.7v0.7h-0.7zM68.3 400.1h0.7v0.7h-0.7zM75.8 399.4h0.7v0.7h-0.7zM72.5 398.5h0.7v0.7h-0.7zM69.3 401.1h0.7v0.7h-0.7zM72.4 401.4h0.7v0.7h-0.7zM78.7 398.3h0.7v0.7h-0.7zM71.6 400.2h0.7v0.7h-0.7zM78.2 396.7h0.7v0.7h-0.7zM75.6 397.5h0.7v0.7h-0.7zM80.9 401.0h0.7v0.7h-0.7zM70.1 398.6h0.7v0.7h-0.7zM76.0 398.8h0.7v0.7h-0.7zM76.1 401.0h0.7v0.7h-0.7zM76.5 398.9h0.7v0.7h-0.7zM80.8 402.2h0.7v0.7h-0.7zM74.7 399.7h0.7v0.7h-0.7zM73.5 396.4h0.7v0.7h-0.7zM74.6 400.1h0.7v0.7h-0.7zM74.5 397.6h0.7v0.7h-0.7zM65.1 395.5h0.7v0.7h-0.7zM78.7 395.4h0.7v0.7h-0.7zM77.7 401.8h0.7v0.7h-0.7zM75.4 400.0h0.7v0.7h-0.7zM78.6 399.9h0.7v0.7h-0.7zM75.6 402.2h0.7v0.7h-0.7zM75.6 404.9h0.7v0.7h-0.7zM71.9 399.0h0.7v0.7h-0.7zM74.8 400.4h0.7v0.7h-0.7zM73.4 404.7h0.7v0.7h-0.7zM78.0 395.3h0.7v0.7h-0.7zM75.7 401.7h0.7v0.7h-0.7zM79.9 401.0h0.7v0.7h-0.7zM73.1 402.0h0.7v0.7h-0.7zM71.2 400.2h0.7v0.7h-0.7zM71.6 403.4h0.7v0.7h-0.7zM78.2 405.3h0.7v0.7h-0.7zM74.7 399.7h0.7v0.7h-0.7zM74.1 402.8h0.7v0.7h-0.7z" fill="#3838e6" fill-opacity="0.42"/>
<path d="M64.9 405.5h0.7v0.7h-0.7zM69.7 405.6h0.7v0.7h-0.7zM73.5 398.0h0.7v0.7h-0.7zM69.1 393.3h0.7v0.7h-0.7zM66.0 399.0h0.7v0.7h-0.7zM78.5 399.8h0.7v0.7h-0.7zM73.6 400.8h0.7v0.7h-0.7zM63.5 404.9h0.7v0.7h-0.7zM84.3 405.0h0.7v0.7h-0.7zM79.9 404.9h0.7v0.7h-0.7zM78.2 412.2h0.7v0.7h-0.7zM61.2 398.6h0.7v0.7h-0.7zM62.3 402.1h0.7v0.7h-0.7zM69.5 398.3h0.7v0.7h-0.7zM75.0 411.3h0.7v0.7h-0.7zM80.9 410.9h0.7v0.7h-0.7zM72.8 404.2h0.7v0.7h-0.7zM81.4 406.9h0.7v0.7h-0.7zM78.4 400.4h0.7v0.7h-0.7zM69.3 398.8h0.7v0.7h-0.7zM80.2 397.8h0.7v0.7h-0.7zM73.2 403.4h0.7v0.7h-0.7zM71.4 400.6h0.7v0.7h-0.7zM74.8 398.4h0.7v0.7h-0.7zM72.9 408.6h0.7v0.7h-0.7zM68.5 407.8h0.7v0.7h-0.7zM80.1 411.1h0.7v0.7h-0.7zM66.4 410.6h0.7v0.7h-0.7zM78.7 409.3h0.7v0.7h-0.7zM78.4 401.4h0.7v0.7h-0.7zM78.2 403.0h0.7v0.7h-0.7zM69.1 399.2h0.7v0.7h-0.7zM69.2 401.4h0.7v0.7h-0.7zM61.8 403.8h0.7v0.7h-0.7zM63.1 405.2h0.7v0.7h-0.7zM81.2 408.2h0.7v0.7h-0.7zM82.6 409.9h0.7v0.7h-0.7zM87.4 401.7h0.7v0.7h-0.7zM66.7 401.3h0.7v0.7h-0.7zM65.7 408.8h0.7v0.7h-0.7zM57.0 402.2h0.7v0.7h-0.7zM78.2 405.2h0.7v0.7h-0.7zM77.8 396.9h0.7v0.7h-0.7zM69.3 401.5h0.7v0.7h-0.7zM75.3 405.1h0.7v0.7h-0.7zM81.8 396.0h0.7v0.7h-0.7zM74.1 413.3h0.7v0.7h-0.7zM80.6 403.4h0.7v0.7h-0.7zM77.8 401.1h0.7v0.7h-0.7zM80.9 399.5h0.7v0.7h-0.7zM77.6 403.4h0.7v0.7h-0.7zM67.3 403.2h0.7v0.7h-0.7zM71.8 398.9h0.7v0.7h-0.7zM73.3 397.9h0.7v0.7h-0.7zM79.5 404.7h0.7v0.7h-0.7zM78.8 405.6h0.7v0.7h-0.7zM74.1 395.5h0.7v0.7h-0.7zM70.3 402.3h0.7v0.7h-0.7zM69.1 401.8h0.7v0.7h-0.7zM69.9 399.9h0.7v0.7h-0.7zM66.6 399.8h0.7v0.7h-0.7zM65.2 407.2h0.7v0.7h-0.7zM74.0 404.6h0.7v0.7h-0.7zM77.4 400.4h0.7v0.7h-0.7zM79.2 393.5h0.7v0.7h-0.7zM68.3 402.4h0.7v0.7h-0.7zM83.1 407.7h0.7v0.7h-0.7zM77.6 405.9h0.7v0.7h-0.7zM68.8 401.4h0.7v0.7h-0.7zM68.2 402.6h0.7v0.7h-0.7zM64.5 400.7h0.7v0.7h-0.7zM69.1 404.5h0.7v0.7h-0.7zM68.4 403.9h0.7v0.7h-0.7zM75.4 404.7h0.7v0.7h-0.7zM77.3 397.7h0.7v0.7h-0.7zM72.9 401.4h0.7v0.7h-0.7zM79.1 400.0h0.7v0.7h-0.7zM74.2 395.7h0.7v0.7h-0.7zM70.2 398.7h0.7v0.7h-0.7zM72.0 399.1h0.7v0.7h-0.7zM71.9 403.2h0.7v0.7h-0.7zM65.8 405.8h0.7v0.7h-0.7zM68.4 412.2h0.7v0.7h-0.7zM79.4 405.3h0.7v0.7h-0.7zM72.9 408.7h0.7v0.7h-0.7zM74.2 394.3h0.7v0.7h-0.7zM76.5 403.4h0.7v0.7h-0.7zM56.9 393.7h0.7v0.7h-0.7zM80.7 403.8h0.7v0.7h-0.7zM67.7 393.4h0.7v0.7h-0.7zM65.5 409.6h0.7v0.7h-0.7zM57.8 404.7h0.7v0.7h-0.7zM87.4 402.8h0.7v0.7h-0.7zM66.3 404.7h0.7v0.7h-0.7zM76.1 404.0h0.7v0.7h-0.7zM71.0 394.5h0.7v0.7h-0.7zM75.5 405.7h0.7v0.7h-0.7zM74.7 404.6h0.7v0.7h-0.7zM73.1 406.4h0.7v0.7h-0.7zM94.1 399.4h0.7v0.7h-0.7zM73.9 396.5h0.7v0.7h-0.7zM60.7 402.1h0.7v0.7h-0.7zM81.1 397.4h0.7v0.7h-0.7zM69.2 399.5h0.7v0.7h-0.7zM63.1 395.2h0.7v0.7h-0.7zM72.7 399.9h0.7v0.7h-0.7zM70.8 397.5h0.7v0.7h-0.7zM80.8 413.1h0.7v0.7h-0.7zM67.0 394.7h0.7v0.7h-0.7zM80.1 409.0h0.7v0.7h-0.7zM85.0 397.8h0.7v0.7h-0.7zM71.6 392.6h0.7v0.7h-0.7zM74.8 395.7h0.7v0.7h-0.7zM60.8 405.7h0.7v0.7h-0.7zM74.8 392.1h0.7v0.7h-0.7zM67.0 414.1h0.7v0.7h-0.7zM56.6 399.6h0.7v0.7h-0.7zM84.8 410.7h0.7v0.7h-0.7zM73.2 398.3h0.7v0.7h-0.7zM74.5 398.9h0.7v0.7h-0.7zM74.3 407.2h0.7v0.7h-0.7zM72.6 407.8h0.7v0.7h-0.7zM80.3 397.9h0.7v0.7h-0.7zM70.4 397.2h0.7v0.7h-0.7zM74.4 393.3h0.7v0.7h-0.7zM65.7 391.1h0.7v0.7h-0.7zM75.0 397.5h0.7v0.7h-0.7zM80.1 405.8h0.7v0.7h-0.7zM75.1 398.1h0.7v0.7h-0.7zM61.8 396.7h0.7v0.7h-0.7zM72.2 401.5h0.7v0.7h-0.7zM70.8 402.1h0.7v0.7h-0.7zM81.1 407.9h0.7v0.7h-0.7zM64.3 405.3h0.7v0.7h-0.7zM66.3 403.2h0.7v0.7h-0.7zM73.4 406.6h0.7v0.7h-0.7zM77.1 396.2h0.7v0.7h-0.7zM71.3 404.1h0.7v0.7h-0.7zM70.7 409.7h0.7v0.7h-0.7zM63.1 404.6h0.7v0.7h-0.7zM73.2 399.6h0.7v0.7h-0.7zM71.2 400.7h0.7v0.7h-0.7zM73.8 399.1h0.7v0.7h-0.7zM69.8 414.5h0.7v0.7h-0.7zM69.0 404.7h0.7v0.7h-0.7zM78.9 397.6h0.7v0.7h-0.7zM77.1 398.9h0.7v0.7h-0.7zM55.8 402.0h0.7v0.7h-0.7zM52.6 401.4h0.7v0.7h-0.7zM76.5 410.7h0.7v0.7h-0.7zM76.2 407.2h0.7v0.7h-0.7zM76.0 402.0h0.7v0.7h-0.7zM78.7 400.1h0.7v0.7h-0.7zM73.8 398.5h0.7v0.7h-0.7zM70.2 403.8h0.7v0.7h-0.7zM59.8 398.8h0.7v0.7h-0.7zM65.7 401.6h0.7v0.7h-0.7zM84.4 397.4h0.7v0.7h-0.7zM70.7 400.3h0.7v0.7h-0.7zM67.0 398.2h0.7v0.7h-0.7zM77.9 400.8h0.7v0.7h-0.7zM67.1 396.0h0.7v0.7h-0.7zM66.4 406.3h0.7v0.7h-0.7zM65.7 392.2h0.7v0.7h-0.7zM65.8 402.1h0.7v0.7h-0.7zM74.2 401.7h0.7v0.7h-0.7zM77.0 395.5h0.7v0.7h-0.7zM65.4 400.1h0.7v0.7h-0.7zM72.1 391.5h0.7v0.7h-0.7zM70.6 393.7h0.7v0.7h-0.7zM77.6 403.0h0.7v0.7h-0.7zM82.5 411.4h0.7v0.7h-0.7zM74.8 400.2h0.7v0.7h-0.7zM64.7 398.6h0.7v0.7h-0.7zM78.2 403.4h0.7v0.7h-0.7zM71.8 394.8h0.7v0.7h-0.7zM69.9 410.3h0.7v0.7h-0.7zM69.9 408.1h0.7v0.7h-0.7zM56.2 408.6h0.7v0.7h-0.7zM65.0 394.7h0.7v0.7h-0.7zM69.2 397.6h0.7v0.7h-0.7zM81.9 400.2h0.7v0.7h-0.7zM70.1 398.2h0.7v0.7h-0.7zM76.5 407.6h0.7v0.7h-0.7zM77.3 394.1h0.7v0.7h-0.7zM70.0 404.2h0.7v0.7h-0.7zM58.8 401.0h0.7v0.7h-0.7zM77.6 409.0h0.7v0.7h-0.7zM74.7 405.8h0.7v0.7h-0.7zM77.2 403.4h0.7v0.7h-0.7zM59.4 410.8h0.7v0.7h-0.7zM76.1 401.2h0.7v0.7h-0.7zM66.3 413.2h0.7v0.7h-0.7zM73.9 406.2h0.7v0.7h-0.7zM69.1 402.9h0.7v0.7h-0.7zM71.6 407.0h0.7v0.7h-0.7zM59.4 410.5h0.7v0.7h-0.7zM71.5 405.4h0.7v0.7h-0.7zM78.0 399.0h0.7v0.7h-0.7zM76.8 395.9h0.7v0.7h-0.7z" fill="#3838e6" fill-opacity="0.42"/>
<path d="M75.0 405.8h0.7v0.7h-0.7zM77.4 410.2h0.7v0.7h-0.7zM70.7 408.0h0.7v0.7h-0.7zM72.1 404.6h0.7v0.7h-0.7zM74.0 409.4h0.7v0.7h-0.7zM77.7 406.3h0.7v0.7h-0.7zM73.5 410.2h0.7v0.7h-0.7zM74.2 410.9h0.7v0.7h-0.7zM79.9 408.5h0.7v0.7h-0.7zM71.9 406.7h0.7v0.7h-0.7zM76.7 406.9h0.7v0.7h-0.7zM74.5 408.3h0.7v0.7h-0.7zM69.7 406.5h0.7v0.7h-0.7zM73.1 405.6h0.7v0.7h-0.7zM75.0 406.6h0.7v0.7h-0.7zM73.0 410.2h0.7v0.7h-0.7zM78.7 406.9h0.7v0.7h-0.7zM72.7 404.3h0.7v0.7h-0.7zM68.9 410.4h0.7v0.7h-0.7zM74.4 405.7h0.7v0.7h-0.7zM70.3 409.8h0.7v0.7h-0.7zM73.4 408.5h0.7v0.7h-0.7zM77.1 405.7h0.7v0.7h-0.7zM70.1 407.1h0.7v0.7h-0.7zM75.8 406.9h0.7v0.7h-0.7zM73.9 408.1h0.7v0.7h-0.7zM71.5 408.7h0.7v0.7h-0.7zM77.2 405.1h0.7v0.7h-0.7zM71.8 406.5h0.7v0.7h-0.7zM72.4 406.8h0.7v0.7h-0.7zM77.5 404.6h0.7v0.7h-0.7zM75.4 406.5h0.7v0.7h-0.7zM72.1 404.5h0.7v0.7h-0.7zM68.1 407.5h0.7v0.7h-0.7zM78.5 405.5h0.7v0.7h-0.7zM76.4 404.9h0.7v0.7h-0.7zM75.7 406.8h0.7v0.7h-0.7zM73.2 404.5h0.7v0.7h-0.7zM72.7 406.5h0.7v0.7h-0.7zM78.2 408.6h0.7v0.7h-0.7zM75.6 406.1h0.7v0.7h-0.7zM75.0 408.9h0.7v0.7h-0.7zM78.2 409.2h0.7v0.7h-0.7zM79.8 406.9h0.7v0.7h-0.7zM71.5 409.9h0.7v0.7h-0.7zM79.7 409.2h0.7v0.7h-0.7zM74.4 407.6h0.7v0.7h-0.7zM73.4 406.7h0.7v0.7h-0.7zM74.3 408.2h0.7v0.7h-0.7zM70.9 408.4h0.7v0.7h-0.7zM74.8 407.0h0.7v0.7h-0.7zM75.2 406.6h0.7v0.7h-0.7zM75.2 410.3h0.7v0.7h-0.7zM73.1 409.0h0.7v0.7h-0.7zM72.6 406.9h0.7v0.7h-0.7zM75.1 406.2h0.7v0.7h-0.7zM77.4 404.4h0.7v0.7h-0.7zM73.8 407.4h0.7v0.7h-0.7zM74.6 407.0h0.7v0.7h-0.7zM71.4 407.4h0.7v0.7h-0.7z" fill="#3838e6" fill-opacity="0.42"/>
<path d="M75.0 399.6h0.7v0.7h-0.7zM75.1 396.3h0.7v0.7h-0.7zM67.6 410.7h0.7v0.7h-0.7zM71.9 394.5h0.7v0.7h-0.7zM77.8 405.5h0.7v0.7h-0.7zM67.9 395.6h0.7v0.7h-0.7zM66.2 395.7h0.7v0.7h-0.7zM73.0 400.3h0.7v0.7h-0.7zM78.4 395.7h0.7v0.7h-0.7zM74.2 405.3h0.7v0.7h-0.7zM79.0 405.7h0.7v0.7h-0.7zM78.9 404.0h0.7v0.7h-0.7zM68.3 395.1h0.7v0.7h-0.7zM86.8 397.8h0.7v0.7h-0.7zM63.1 398.7h0.7v0.7h-0.7zM81.3 400.6h0.7v0.7h-0.7zM61.1 394.9h0.7v0.7h-0.7zM81.0 401.0h0.7v0.7h-0.7zM61.7 394.1h0.7v0.7h-0.7zM72.7 396.0h0.7v0.7h-0.7zM79.2 399.3h0.7v0.7h-0.7zM82.4 394.5h0.7v0.7h-0.7zM64.2 403.1h0.7v0.7h-0.7zM73.5 393.3h0.7v0.7h-0.7zM76.1 408.8h0.7v0.7h-0.7zM76.5 395.9h0.7v0.7h-0.7zM84.3 399.3h0.7v0.7h-0.7zM75.1 394.4h0.7v0.7h-0.7zM71.2 403.1h0.7v0.7h-0.7zM78.5 400.4h0.7v0.7h-0.7zM79.0 393.0h0.7v0.7h-0.7zM69.6 404.8h0.7v0.7h-0.7zM65.0 404.3h0.7v0.7h-0.7zM71.7 394.7h0.7v0.7h-0.7zM75.4 393.2h0.7v0.7h-0.7zM80.9 407.7h0.7v0.7h-0.7zM79.5 392.7h0.7v0.7h-0.7zM86.3 407.3h0.7v0.7h-0.7zM64.4 404.8h0.7v0.7h-0.7zM76.5 409.5h0.7v0.7h-0.7zM63.4 407.3h0.7v0.7h-0.7zM72.9 394.0h0.7v0.7h-0.7zM83.8 409.4h0.7v0.7h-0.7zM82.7 402.6h0.7v0.7h-0.7zM72.6 403.8h0.7v0.7h-0.7zM81.2 393.5h0.7v0.7h-0.7zM73.8 397.5h0.7v0.7h-0.7zM58.2 406.2h0.7v0.7h-0.7zM82.1 407.4h0.7v0.7h-0.7zM61.5 404.4h0.7v0.7h-0.7zM73.8 398.7h0.7v0.7h-0.7zM79.2 408.1h0.7v0.7h-0.7zM60.9 399.0h0.7v0.7h-0.7zM80.1 394.8h0.7v0.7h-0.7zM86.4 406.6h0.7v0.7h-0.7zM60.2 394.2h0.7v0.7h-0.7zM75.4 401.9h0.7v0.7h-0.7zM69.8 403.6h0.7v0.7h-0.7zM84.5 407.9h0.7v0.7h-0.7zM70.5 408.7h0.7v0.7h-0.7zM65.3 397.7h0.7v0.7h-0.7zM67.4 393.8h0.7v0.7h-0.7zM80.1 407.9h0.7v0.7h-0.7zM79.8 397.2h0.7v0.7h-0.7zM70.0 392.4h0.7v0.7h-0.7zM83.7 409.5h0.7v0.7h-0.7zM80.3 406.7h0.7v0.7h-0.7zM81.0 402.1h0.7v0.7h-0.7zM81.9 398.0h0.7v0.7h-0.7zM68.6 402.2h0.7v0.7h-0.7zM62.7 402.1h0.7v0.7h-0.7zM73.6 409.8h0.7v0.7h-0.7z" fill="#3838e6" fill-opacity="0.45"/>
<path d="M78.7 421.2h0.7v0.7h-0.7zM75.2 423.7h0.7v0.7h-0.7zM74.3 426.8h0.7v0.7h-0.7zM74.1 423.7h0.7v0.7h-0.7zM73.1 429.5h0.7v0.7h-0.7zM76.0 423.9h0.7v0.7h-0.7zM67.9 426.0h0.7v0.7h-0.7zM71.1 418.6h0.7v0.7h-0.7zM73.6 421.4h0.7v0.7h-0.7zM73.5 424.8h0.7v0.7h-0.7zM72.5 421.8h0.7v0.7h-0.7zM72.9 433.0h0.7v0.7h-0.7zM70.2 420.3h0.7v0.7h-0.7zM70.5 420.1h0.7v0.7h-0.7zM72.3 421.2h0.7v0.7h-0.7zM74.9 424.5h0.7v0.7h-0.7zM77.3 424.3h0.7v0.7h-0.7zM74.7 425.3h0.7v0.7h-0.7zM62.9 424.4h0.7v0.7h-0.7zM72.3 421.4h0.7v0.7h-0.7zM73.8 421.8h0.7v0.7h-0.7zM76.2 425.7h0.7v0.7h-0.7zM68.4 426.9h0.7v0.7h-0.7zM67.4 425.9h0.7v0.7h-0.7zM81.2 428.6h0.7v0.7h-0.7zM69.4 429.5h0.7v0.7h-0.7zM80.9 425.3h0.7v0.7h-0.7zM74.7 430.8h0.7v0.7h-0.7zM75.4 419.1h0.7v0.7h-0.7zM73.4 424.5h0.7v0.7h-0.7zM76.7 431.1h0.7v0.7h-0.7zM76.7 428.3h0.7v0.7h-0.7zM68.5 421.3h0.7v0.7h-0.7zM74.4 425.8h0.7v0.7h-0.7zM82.8 429.7h0.7v0.7h-0.7zM69.2 427.4h0.7v0.7h-0.7zM70.9 422.9h0.7v0.7h-0.7zM74.1 424.2h0.7v0.7h-0.7zM74.8 422.5h0.7v0.7h-0.7zM77.2 423.2h0.7v0.7h-0.7zM73.1 422.1h0.7v0.7h-0.7zM74.2 421.4h0.7v0.7h-0.7zM70.3 427.2h0.7v0.7h-0.7zM75.8 425.7h0.7v0.7h-0.7zM74.4 421.3h0.7v0.7h-0.7zM68.5 428.1h0.7v0.7h-0.7zM73.9 426.3h0.7v0.7h-0.7zM74.3 427.4h0.7v0.7h-0.7zM69.7 427.8h0.7v0.7h-0.7zM65.6 425.2h0.7v0.7h-0.7zM79.1 425.6h0.7v0.7h-0.7zM75.0 421.8h0.7v0.7h-0.7zM77.7 424.7h0.7v0.7h-0.7zM76.8 426.6h0.7v0.7h-0.7zM73.1 422.5h0.7v0.7h-0.7zM76.9 426.7h0.7v0.7h-0.7zM74.8 426.3h0.7v0.7h-0.7zM71.6 424.6h0.7v0.7h-0.7zM76.9 425.4h0.7v0.7h-0.7zM64.3 425.6h0.7v0.7h-0.7zM72.0 423.5h0.7v0.7h-0.7zM74.6 429.7h0.7v0.7h-0.7zM66.0 421.3h0.7v0.7h-0.7zM81.2 422.4h0.7v0.7h-0.7zM80.9 429.4h0.7v0.7h-0.7zM70.6 423.6h0.7v0.7h-0.7zM77.3 430.1h0.7v0.7h-0.7zM73.9 425.4h0.7v0.7h-0.7zM72.6 431.9h0.7v0.7h-0.7zM67.2 425.4h0.7v0.7h-0.7zM77.4 425.7h0.7v0.7h-0.7zM72.4 426.2h0.7v0.7h-0.7zM71.5 421.2h0.7v0.7h-0.7zM81.9 430.9h0.7v0.7h-0.7zM71.0 424.3h0.7v0.7h-0.7zM79.3 424.3h0.7v0.7h-0.7zM72.6 423.9h0.7v0.7h-0.7zM67.0 425.1h0.7v0.7h-0.7zM70.7 423.4h0.7v0.7h-0.7zM68.0 424.0h0.7v0.7h-0.7zM72.2 422.4h0.7v0.7h-0.7zM76.7 416.0h0.7v0.7h-0.7zM73.0 417.1h0.7v0.7h-0.7zM67.7 429.6h0.7v0.7h-0.7zM74.7 426.3h0.7v0.7h-0.7zM66.5 419.6h0.7v0.7h-0.7zM75.9 425.2h0.7v0.7h-0.7zM77.7 424.8h0.7v0.7h-0.7zM75.2 425.8h0.7v0.7h-0.7zM73.5 419.4h0.7v0.7h-0.7zM77.3 422.7h0.7v0.7h-0.7zM73.2 423.5h0.7v0.7h-0.7zM76.3 423.2h0.7v0.7h-0.7zM68.8 424.6h0.7v0.7h-0.7zM77.9 422.7h0.7v0.7h-0.7zM79.1 423.8h0.7v0.7h-0.7zM75.1 430.5h0.7v0.7h-0.7zM78.2 437.2h0.7v0.7h-0.7zM70.7 424.7h0.7v0.7h-0.7zM76.9 423.3h0.7v0.7h-0.7zM70.4 425.8h0.7v0.7h-0.7zM73.1 423.3h0.7v0.7h-0.7zM71.8 425.5h0.7v0.7h-0.7zM73.5 423.9h0.7v0.7h-0.7zM71.1 422.3h0.7v0.7h-0.7zM68.6 425.3h0.7v0.7h-0.7zM73.0 422.1h0.7v0.7h-0.7zM73.6 425.8h0.7v0.7h-0.7zM75.7 423.5h0.7v0.7h-0.7zM76.7 427.2h0.7v0.7h-0.7zM66.2 420.4h0.7v0.7h-0.7zM76.2 424.9h0.7v0.7h-0.7zM76.1 428.0h0.7v0.7h-0.7zM69.6 425.1h0.7v0.7h-0.7zM78.0 420.7h0.7v0.7h-0.7zM79.9 417.2h0.7v0.7h-0.7zM72.4 432.3h0.7v0.7h-0.7zM72.4 424.6h0.7v0.7h-0.7zM75.1 423.2h0.7v0.7h-0.7zM76.8 424.3h0.7v0.7h-0.7zM71.0 432.9h0.7v0.7h-0.7zM76.4 421.3h0.7v0.7h-0.7zM65.9 422.8h0.7v0.7h-0.7zM75.5 419.2h0.7v0.7h-0.7zM71.5 423.9h0.7v0.7h-0.7zM73.7 429.1h0.7v0.7h-0.7zM67.3 420.8h0.7v0.7h-0.7zM81.7 418.7h0.7v0.7h-0.7zM74.1 425.3h0.7v0.7h-0.7zM77.7 421.3h0.7v0.7h-0.7zM76.1 428.9h0.7v0.7h-0.7zM73.4 426.6h0.7v0.7h-0.7zM70.2 427.2h0.7v0.7h-0.7zM72.8 422.8h0.7v0.7h-0.7zM73.2 419.1h0.7v0.7h-0.7zM67.6 424.9h0.7v0.7h-0.7zM73.7 423.5h0.7v0.7h-0.7zM67.6 424.8h0.7v0.7h-0.7zM72.0 419.1h0.7v0.7h-0.7zM77.8 432.0h0.7v0.7h-0.7zM74.1 421.5h0.7v0.7h-0.7zM64.4 427.7h0.7v0.7h-0.7zM74.6 427.5h0.7v0.7h-0.7zM81.8 422.2h0.7v0.7h-0.7zM74.2 429.7h0.7v0.7h-0.7zM69.7 428.0h0.7v0.7h-0.7zM73.7 422.2h0.7v0.7h-0.7zM74.0 426.4h0.7v0.7h-0.7zM73.4 424.9h0.7v0.7h-0.7zM76.2 426.7h0.7v0.7h-0.7z" fill="#3838e6" fill-opacity="0.42"/>
<path d="M71.8 417.2h0.7v0.7h-0.7zM86.4 424.7h0.7v0.7h-0.7zM79.7 422.6h0.7v0.7h-0.7zM64.5 421.5h0.7v0.7h-0.7zM81.5 428.5h0.7v0.7h-0.7zM77.8 426.6h0.7v0.7h-0.7zM65.5 427.5h0.7v0.7h-0.7zM67.2 428.3h0.7v0.7h-0.7zM83.8 429.1h0.7v0.7h-0.7zM80.3 420.1h0.7v0.7h-0.7zM60.1 419.4h0.7v0.7h-0.7zM79.9 430.8h0.7v0.7h-0.7zM64.2 421.0h0.7v0.7h-0.7zM69.0 422.3h0.7v0.7h-0.7zM67.2 416.8h0.7v0.7h-0.7zM64.5 417.4h0.7v0.7h-0.7zM79.5 419.9h0.7v0.7h-0.7zM80.4 421.1h0.7v0.7h-0.7zM65.3 429.9h0.7v0.7h-0.7zM70.8 426.8h0.7v0.7h-0.7zM82.3 428.0h0.7v0.7h-0.7zM76.4 418.9h0.7v0.7h-0.7zM82.5 427.9h0.7v0.7h-0.7zM62.6 426.0h0.7v0.7h-0.7zM63.9 418.9h0.7v0.7h-0.7z" fill="#3838e6" fill-opacity="0.45"/>
<path d="M46.30 381.80L93.20 381.80L93.20 413.50L56.40 413.50L49.10 406.30Z" fill="none" stroke="#3a3a3a" stroke-width="0.5"/>
<path d="M187.00 378.90H135.00V431.40H187.00" fill="none" stroke="#cccccc" stroke-width="0.8"/>
<path d="M134.10 380.90h1.1M135.00 431.20v1.1M134.10 387.21h1.1M141.50 431.20v1.1M134.10 393.52h1.1M148.00 431.20v1.1M134.10 399.84h1.1M154.50 431.20v1.1M134.10 406.15h1.1M161.00 431.20v1.1M134.10 412.46h1.1M167.50 431.20v1.1M134.10 418.77h1.1M174.00 431.20v1.1M134.10 425.09h1.1M180.50 431.20v1.1M134.10 431.40h1.1M187.00 431.20v1.1" stroke="#555" stroke-width="0.5"/>
<text transform="translate(152.40 376.00) scale(1 1.08)" font-size="8" text-anchor="start" fill="#cc1030" font-weight="normal" stroke="#cc1030" stroke-width="0.12" >MLP</text>
<text transform="translate(130.00 406.40) rotate(-90) scale(1 1.08)" font-size="7.3" text-anchor="middle" fill="#1a1a1a" stroke="#1a1a1a" stroke-width="0.12">mCherry</text>
<text transform="translate(160.80 441.00) scale(1 1.08)" font-size="7.6" text-anchor="middle" fill="#1a1a1a" font-weight="normal" stroke="#1a1a1a" stroke-width="0.12" >FSC-A</text>
<path d="M168.6 403.2h0.7v0.7h-0.7zM164.4 402.9h0.7v0.7h-0.7zM159.8 402.4h0.7v0.7h-0.7zM164.0 400.4h0.7v0.7h-0.7zM163.7 399.3h0.7v0.7h-0.7zM162.8 404.5h0.7v0.7h-0.7zM162.2 397.8h0.7v0.7h-0.7zM166.4 400.0h0.7v0.7h-0.7zM162.0 404.4h0.7v0.7h-0.7zM164.0 402.5h0.7v0.7h-0.7zM165.2 405.2h0.7v0.7h-0.7zM167.2 397.5h0.7v0.7h-0.7zM171.1 399.9h0.7v0.7h-0.7zM162.9 403.0h0.7v0.7h-0.7zM164.0 400.2h0.7v0.7h-0.7zM162.9 400.3h0.7v0.7h-0.7zM168.8 401.9h0.7v0.7h-0.7zM169.6 405.7h0.7v0.7h-0.7zM167.4 399.1h0.7v0.7h-0.7zM164.9 402.2h0.7v0.7h-0.7zM159.3 400.9h0.7v0.7h-0.7zM160.1 404.0h0.7v0.7h-0.7zM157.4 400.2h0.7v0.7h-0.7zM165.4 401.6h0.7v0.7h-0.7zM160.7 402.9h0.7v0.7h-0.7zM164.1 404.7h0.7v0.7h-0.7zM164.8 403.2h0.7v0.7h-0.7zM158.0 401.6h0.7v0.7h-0.7zM164.7 398.6h0.7v0.7h-0.7zM155.5 402.9h0.7v0.7h-0.7zM169.3 399.6h0.7v0.7h-0.7zM167.7 402.7h0.7v0.7h-0.7zM162.1 399.5h0.7v0.7h-0.7zM175.2 402.6h0.7v0.7h-0.7zM166.0 400.3h0.7v0.7h-0.7zM158.8 401.7h0.7v0.7h-0.7zM163.7 401.9h0.7v0.7h-0.7zM164.2 396.7h0.7v0.7h-0.7zM162.6 401.4h0.7v0.7h-0.7zM162.8 401.7h0.7v0.7h-0.7zM165.5 400.8h0.7v0.7h-0.7zM162.6 405.2h0.7v0.7h-0.7zM165.5 401.9h0.7v0.7h-0.7zM166.4 401.6h0.7v0.7h-0.7zM156.8 400.1h0.7v0.7h-0.7zM165.4 402.3h0.7v0.7h-0.7zM164.6 398.4h0.7v0.7h-0.7zM163.1 402.1h0.7v0.7h-0.7zM164.7 407.7h0.7v0.7h-0.7zM166.5 402.3h0.7v0.7h-0.7zM163.7 395.7h0.7v0.7h-0.7zM167.9 399.4h0.7v0.7h-0.7zM169.4 400.1h0.7v0.7h-0.7zM163.1 403.7h0.7v0.7h-0.7zM162.8 397.0h0.7v0.7h-0.7zM166.0 402.2h0.7v0.7h-0.7zM166.0 400.7h0.7v0.7h-0.7zM165.6 398.9h0.7v0.7h-0.7zM164.2 402.9h0.7v0.7h-0.7zM152.2 402.5h0.7v0.7h-0.7zM168.9 404.9h0.7v0.7h-0.7zM163.1 402.4h0.7v0.7h-0.7zM164.1 398.7h0.7v0.7h-0.7zM165.8 403.4h0.7v0.7h-0.7zM167.7 396.5h0.7v0.7h-0.7zM163.7 400.8h0.7v0.7h-0.7zM164.7 397.6h0.7v0.7h-0.7zM172.2 397.4h0.7v0.7h-0.7zM160.6 405.3h0.7v0.7h-0.7zM165.5 399.2h0.7v0.7h-0.7zM161.6 402.8h0.7v0.7h-0.7zM161.9 402.9h0.7v0.7h-0.7zM166.4 402.1h0.7v0.7h-0.7zM167.7 399.6h0.7v0.7h-0.7zM158.7 397.1h0.7v0.7h-0.7zM164.3 399.1h0.7v0.7h-0.7zM170.5 398.8h0.7v0.7h-0.7zM170.6 400.8h0.7v0.7h-0.7zM164.4 396.4h0.7v0.7h-0.7zM164.1 404.7h0.7v0.7h-0.7zM158.6 404.3h0.7v0.7h-0.7zM167.5 403.3h0.7v0.7h-0.7zM160.4 405.0h0.7v0.7h-0.7zM159.9 405.0h0.7v0.7h-0.7zM168.9 396.8h0.7v0.7h-0.7zM170.3 405.5h0.7v0.7h-0.7zM164.0 397.2h0.7v0.7h-0.7zM163.5 400.4h0.7v0.7h-0.7zM167.7 398.7h0.7v0.7h-0.7zM160.7 401.6h0.7v0.7h-0.7zM165.6 396.7h0.7v0.7h-0.7zM166.1 399.7h0.7v0.7h-0.7zM162.6 402.6h0.7v0.7h-0.7zM167.1 402.3h0.7v0.7h-0.7zM171.2 401.7h0.7v0.7h-0.7zM164.4 401.9h0.7v0.7h-0.7zM170.2 402.7h0.7v0.7h-0.7zM165.6 403.6h0.7v0.7h-0.7zM158.3 403.6h0.7v0.7h-0.7zM167.5 400.4h0.7v0.7h-0.7zM158.5 397.1h0.7v0.7h-0.7zM155.8 402.0h0.7v0.7h-0.7zM163.8 398.9h0.7v0.7h-0.7zM167.9 398.7h0.7v0.7h-0.7zM168.4 403.1h0.7v0.7h-0.7zM166.5 398.3h0.7v0.7h-0.7zM160.1 401.3h0.7v0.7h-0.7zM168.5 398.5h0.7v0.7h-0.7zM165.2 403.3h0.7v0.7h-0.7zM157.6 405.8h0.7v0.7h-0.7zM163.5 399.8h0.7v0.7h-0.7zM165.1 400.7h0.7v0.7h-0.7zM160.6 399.6h0.7v0.7h-0.7zM163.3 398.4h0.7v0.7h-0.7zM168.3 402.7h0.7v0.7h-0.7zM167.2 397.0h0.7v0.7h-0.7zM162.4 402.4h0.7v0.7h-0.7zM164.0 396.5h0.7v0.7h-0.7zM165.8 406.1h0.7v0.7h-0.7zM168.5 400.9h0.7v0.7h-0.7zM159.6 403.7h0.7v0.7h-0.7zM166.6 400.3h0.7v0.7h-0.7zM163.1 403.1h0.7v0.7h-0.7zM163.9 399.4h0.7v0.7h-0.7zM159.7 400.1h0.7v0.7h-0.7zM163.1 399.8h0.7v0.7h-0.7zM181.5 398.0h0.7v0.7h-0.7zM157.6 399.3h0.7v0.7h-0.7zM167.8 406.0h0.7v0.7h-0.7zM157.8 399.7h0.7v0.7h-0.7z" fill="#3838e6" fill-opacity="0.42"/>
<path d="M169.8 399.2h0.7v0.7h-0.7zM169.5 400.7h0.7v0.7h-0.7zM173.8 402.7h0.7v0.7h-0.7zM178.0 396.9h0.7v0.7h-0.7zM173.6 400.7h0.7v0.7h-0.7zM173.8 399.9h0.7v0.7h-0.7zM171.6 406.4h0.7v0.7h-0.7zM167.6 398.0h0.7v0.7h-0.7zM160.3 400.1h0.7v0.7h-0.7zM163.7 406.1h0.7v0.7h-0.7zM156.6 401.6h0.7v0.7h-0.7zM165.7 402.2h0.7v0.7h-0.7zM158.6 407.4h0.7v0.7h-0.7zM164.9 399.1h0.7v0.7h-0.7zM164.7 406.8h0.7v0.7h-0.7zM169.6 406.9h0.7v0.7h-0.7zM169.2 400.5h0.7v0.7h-0.7zM154.7 398.7h0.7v0.7h-0.7zM164.9 395.7h0.7v0.7h-0.7zM163.5 398.9h0.7v0.7h-0.7zM174.0 394.3h0.7v0.7h-0.7zM182.0 405.1h0.7v0.7h-0.7zM162.0 402.6h0.7v0.7h-0.7zM177.1 405.0h0.7v0.7h-0.7zM163.2 400.0h0.7v0.7h-0.7zM154.6 403.4h0.7v0.7h-0.7zM171.8 401.9h0.7v0.7h-0.7zM165.6 399.0h0.7v0.7h-0.7zM166.4 404.3h0.7v0.7h-0.7zM156.2 405.0h0.7v0.7h-0.7zM163.5 404.2h0.7v0.7h-0.7zM165.6 403.7h0.7v0.7h-0.7zM167.3 405.3h0.7v0.7h-0.7zM160.2 401.9h0.7v0.7h-0.7zM157.0 402.5h0.7v0.7h-0.7zM173.5 401.2h0.7v0.7h-0.7zM173.0 400.5h0.7v0.7h-0.7zM168.2 407.1h0.7v0.7h-0.7zM167.8 403.9h0.7v0.7h-0.7zM175.4 404.8h0.7v0.7h-0.7zM172.5 401.2h0.7v0.7h-0.7zM160.2 405.3h0.7v0.7h-0.7zM158.1 406.9h0.7v0.7h-0.7zM161.6 403.4h0.7v0.7h-0.7zM171.4 398.1h0.7v0.7h-0.7zM179.6 402.3h0.7v0.7h-0.7zM164.1 398.3h0.7v0.7h-0.7zM153.5 395.4h0.7v0.7h-0.7zM158.5 404.5h0.7v0.7h-0.7zM162.2 406.9h0.7v0.7h-0.7zM158.6 396.4h0.7v0.7h-0.7zM169.0 401.3h0.7v0.7h-0.7zM155.3 407.8h0.7v0.7h-0.7zM167.6 396.8h0.7v0.7h-0.7zM162.0 398.7h0.7v0.7h-0.7zM173.9 400.3h0.7v0.7h-0.7zM161.1 403.5h0.7v0.7h-0.7zM177.0 407.7h0.7v0.7h-0.7zM165.5 401.1h0.7v0.7h-0.7zM161.2 406.1h0.7v0.7h-0.7zM157.9 402.1h0.7v0.7h-0.7zM170.5 399.7h0.7v0.7h-0.7zM148.1 400.2h0.7v0.7h-0.7zM159.5 398.5h0.7v0.7h-0.7zM161.3 405.4h0.7v0.7h-0.7zM154.8 397.6h0.7v0.7h-0.7zM164.5 405.8h0.7v0.7h-0.7zM159.6 404.5h0.7v0.7h-0.7zM173.0 399.4h0.7v0.7h-0.7zM163.9 405.5h0.7v0.7h-0.7zM166.9 399.9h0.7v0.7h-0.7zM164.4 401.2h0.7v0.7h-0.7zM165.9 403.3h0.7v0.7h-0.7zM166.4 399.9h0.7v0.7h-0.7zM165.4 403.4h0.7v0.7h-0.7zM163.9 408.5h0.7v0.7h-0.7zM161.9 393.4h0.7v0.7h-0.7zM174.0 400.3h0.7v0.7h-0.7zM167.9 401.2h0.7v0.7h-0.7zM172.1 400.1h0.7v0.7h-0.7zM169.4 408.2h0.7v0.7h-0.7zM169.7 398.9h0.7v0.7h-0.7zM177.7 406.5h0.7v0.7h-0.7zM165.2 396.6h0.7v0.7h-0.7zM167.1 401.8h0.7v0.7h-0.7zM168.6 402.7h0.7v0.7h-0.7zM176.7 402.9h0.7v0.7h-0.7zM162.5 400.6h0.7v0.7h-0.7zM167.5 404.2h0.7v0.7h-0.7zM156.3 398.2h0.7v0.7h-0.7zM172.0 401.3h0.7v0.7h-0.7zM172.9 401.4h0.7v0.7h-0.7zM160.6 403.9h0.7v0.7h-0.7zM167.2 412.8h0.7v0.7h-0.7zM176.7 401.8h0.7v0.7h-0.7zM167.1 404.2h0.7v0.7h-0.7zM169.0 405.0h0.7v0.7h-0.7zM164.8 400.6h0.7v0.7h-0.7zM153.9 400.9h0.7v0.7h-0.7zM172.9 402.9h0.7v0.7h-0.7zM167.5 396.9h0.7v0.7h-0.7zM150.2 404.5h0.7v0.7h-0.7zM159.5 399.8h0.7v0.7h-0.7zM150.7 407.8h0.7v0.7h-0.7zM175.6 395.1h0.7v0.7h-0.7zM161.1 401.2h0.7v0.7h-0.7zM168.3 405.5h0.7v0.7h-0.7zM164.7 401.6h0.7v0.7h-0.7zM169.2 395.3h0.7v0.7h-0.7zM164.2 402.0h0.7v0.7h-0.7zM167.3 398.1h0.7v0.7h-0.7zM160.3 397.5h0.7v0.7h-0.7zM164.0 397.9h0.7v0.7h-0.7zM183.1 399.5h0.7v0.7h-0.7zM174.3 399.6h0.7v0.7h-0.7zM162.0 405.6h0.7v0.7h-0.7zM163.1 410.6h0.7v0.7h-0.7zM168.5 395.2h0.7v0.7h-0.7zM174.9 391.0h0.7v0.7h-0.7zM162.5 398.8h0.7v0.7h-0.7zM165.3 398.9h0.7v0.7h-0.7zM161.6 400.5h0.7v0.7h-0.7zM170.4 398.4h0.7v0.7h-0.7zM162.3 410.9h0.7v0.7h-0.7zM180.0 406.6h0.7v0.7h-0.7zM165.2 399.7h0.7v0.7h-0.7zM165.7 396.8h0.7v0.7h-0.7zM173.3 399.1h0.7v0.7h-0.7zM149.3 406.1h0.7v0.7h-0.7zM176.1 405.6h0.7v0.7h-0.7zM169.8 403.9h0.7v0.7h-0.7zM176.5 407.3h0.7v0.7h-0.7zM153.7 404.3h0.7v0.7h-0.7zM164.5 408.5h0.7v0.7h-0.7zM163.0 400.5h0.7v0.7h-0.7zM153.0 402.2h0.7v0.7h-0.7zM167.4 407.7h0.7v0.7h-0.7zM163.7 405.8h0.7v0.7h-0.7zM180.7 397.4h0.7v0.7h-0.7zM172.9 401.9h0.7v0.7h-0.7zM152.7 398.8h0.7v0.7h-0.7zM165.4 397.6h0.7v0.7h-0.7zM170.0 398.9h0.7v0.7h-0.7zM173.1 400.6h0.7v0.7h-0.7zM174.2 406.5h0.7v0.7h-0.7zM171.9 406.8h0.7v0.7h-0.7zM186.1 405.9h0.7v0.7h-0.7zM153.1 400.3h0.7v0.7h-0.7zM172.3 406.2h0.7v0.7h-0.7zM160.9 404.1h0.7v0.7h-0.7zM165.8 401.0h0.7v0.7h-0.7zM161.8 402.2h0.7v0.7h-0.7zM174.4 395.2h0.7v0.7h-0.7zM173.2 403.0h0.7v0.7h-0.7zM153.3 403.2h0.7v0.7h-0.7zM164.1 398.4h0.7v0.7h-0.7zM169.4 401.0h0.7v0.7h-0.7zM174.0 407.6h0.7v0.7h-0.7zM168.5 403.8h0.7v0.7h-0.7zM158.2 402.0h0.7v0.7h-0.7z" fill="#3838e6" fill-opacity="0.42"/>
<path d="M155.5 408.9h0.7v0.7h-0.7zM172.6 398.8h0.7v0.7h-0.7zM157.1 408.6h0.7v0.7h-0.7zM165.7 407.8h0.7v0.7h-0.7zM169.8 406.2h0.7v0.7h-0.7zM163.7 407.3h0.7v0.7h-0.7zM176.4 397.4h0.7v0.7h-0.7zM166.2 401.1h0.7v0.7h-0.7zM154.8 402.1h0.7v0.7h-0.7zM158.4 400.5h0.7v0.7h-0.7zM172.0 403.8h0.7v0.7h-0.7zM159.6 395.4h0.7v0.7h-0.7zM154.4 399.3h0.7v0.7h-0.7zM165.9 407.9h0.7v0.7h-0.7zM160.9 404.1h0.7v0.7h-0.7zM156.7 402.6h0.7v0.7h-0.7zM174.0 405.0h0.7v0.7h-0.7zM170.6 395.0h0.7v0.7h-0.7zM162.7 409.5h0.7v0.7h-0.7zM175.8 403.8h0.7v0.7h-0.7zM151.4 398.0h0.7v0.7h-0.7zM158.4 408.2h0.7v0.7h-0.7zM159.9 409.5h0.7v0.7h-0.7zM158.4 397.2h0.7v0.7h-0.7zM155.4 405.9h0.7v0.7h-0.7zM160.9 408.5h0.7v0.7h-0.7zM154.9 397.4h0.7v0.7h-0.7zM167.2 407.0h0.7v0.7h-0.7zM164.8 403.6h0.7v0.7h-0.7zM162.3 403.2h0.7v0.7h-0.7zM152.6 401.3h0.7v0.7h-0.7zM171.8 398.6h0.7v0.7h-0.7zM157.6 396.4h0.7v0.7h-0.7zM161.7 400.0h0.7v0.7h-0.7zM157.1 405.1h0.7v0.7h-0.7zM163.4 402.5h0.7v0.7h-0.7zM167.6 397.7h0.7v0.7h-0.7zM153.3 400.0h0.7v0.7h-0.7zM168.8 401.4h0.7v0.7h-0.7zM165.1 409.0h0.7v0.7h-0.7zM155.3 399.6h0.7v0.7h-0.7zM176.0 405.6h0.7v0.7h-0.7zM155.6 395.7h0.7v0.7h-0.7zM174.3 404.7h0.7v0.7h-0.7zM168.2 395.9h0.7v0.7h-0.7zM160.2 396.5h0.7v0.7h-0.7zM170.7 402.7h0.7v0.7h-0.7zM169.4 401.5h0.7v0.7h-0.7zM153.5 408.5h0.7v0.7h-0.7zM157.1 401.0h0.7v0.7h-0.7zM160.2 399.0h0.7v0.7h-0.7zM157.1 401.0h0.7v0.7h-0.7zM162.8 397.3h0.7v0.7h-0.7zM153.7 402.5h0.7v0.7h-0.7zM156.3 405.0h0.7v0.7h-0.7zM173.2 399.4h0.7v0.7h-0.7zM173.4 402.1h0.7v0.7h-0.7zM164.3 396.9h0.7v0.7h-0.7zM170.2 403.7h0.7v0.7h-0.7zM154.1 399.8h0.7v0.7h-0.7zM167.0 405.8h0.7v0.7h-0.7zM170.1 400.5h0.7v0.7h-0.7zM174.8 404.6h0.7v0.7h-0.7zM175.0 405.8h0.7v0.7h-0.7zM161.5 405.1h0.7v0.7h-0.7zM172.6 408.0h0.7v0.7h-0.7zM166.6 397.9h0.7v0.7h-0.7zM164.3 400.1h0.7v0.7h-0.7zM165.0 403.8h0.7v0.7h-0.7zM158.6 402.5h0.7v0.7h-0.7zM162.5 405.0h0.7v0.7h-0.7zM165.6 399.1h0.7v0.7h-0.7zM170.4 406.7h0.7v0.7h-0.7zM157.8 408.9h0.7v0.7h-0.7zM161.3 399.4h0.7v0.7h-0.7zM170.5 407.3h0.7v0.7h-0.7zM171.1 398.2h0.7v0.7h-0.7zM160.8 399.6h0.7v0.7h-0.7zM171.8 406.0h0.7v0.7h-0.7zM157.4 406.8h0.7v0.7h-0.7zM169.6 404.5h0.7v0.7h-0.7zM158.5 395.9h0.7v0.7h-0.7zM157.3 400.1h0.7v0.7h-0.7zM172.9 406.1h0.7v0.7h-0.7zM161.2 399.0h0.7v0.7h-0.7zM170.6 408.4h0.7v0.7h-0.7zM174.9 401.6h0.7v0.7h-0.7zM159.6 409.6h0.7v0.7h-0.7zM155.3 399.2h0.7v0.7h-0.7zM174.5 400.0h0.7v0.7h-0.7zM175.5 401.4h0.7v0.7h-0.7zM172.3 400.6h0.7v0.7h-0.7zM175.8 401.6h0.7v0.7h-0.7zM167.4 398.8h0.7v0.7h-0.7zM161.7 400.7h0.7v0.7h-0.7zM161.2 406.4h0.7v0.7h-0.7zM169.7 404.4h0.7v0.7h-0.7zM159.1 398.0h0.7v0.7h-0.7zM176.0 398.5h0.7v0.7h-0.7zM166.8 399.8h0.7v0.7h-0.7zM159.9 404.7h0.7v0.7h-0.7zM165.0 396.8h0.7v0.7h-0.7zM159.6 401.2h0.7v0.7h-0.7zM157.6 407.8h0.7v0.7h-0.7zM167.1 400.7h0.7v0.7h-0.7zM172.9 407.2h0.7v0.7h-0.7zM172.3 402.2h0.7v0.7h-0.7zM152.5 400.7h0.7v0.7h-0.7zM168.2 406.7h0.7v0.7h-0.7zM166.1 400.8h0.7v0.7h-0.7zM153.9 398.9h0.7v0.7h-0.7zM163.1 409.9h0.7v0.7h-0.7zM163.7 398.2h0.7v0.7h-0.7zM153.6 396.4h0.7v0.7h-0.7zM162.9 402.6h0.7v0.7h-0.7zM170.3 402.7h0.7v0.7h-0.7zM155.7 402.7h0.7v0.7h-0.7zM161.2 407.9h0.7v0.7h-0.7zM175.1 400.4h0.7v0.7h-0.7zM167.9 403.5h0.7v0.7h-0.7zM153.3 409.3h0.7v0.7h-0.7zM154.1 404.8h0.7v0.7h-0.7zM160.0 399.9h0.7v0.7h-0.7zM160.3 401.3h0.7v0.7h-0.7zM160.9 401.0h0.7v0.7h-0.7zM169.2 405.0h0.7v0.7h-0.7zM162.2 398.5h0.7v0.7h-0.7zM163.6 407.5h0.7v0.7h-0.7zM171.2 395.4h0.7v0.7h-0.7zM164.7 402.1h0.7v0.7h-0.7zM155.8 404.7h0.7v0.7h-0.7zM158.1 404.7h0.7v0.7h-0.7zM167.9 397.6h0.7v0.7h-0.7zM159.6 403.3h0.7v0.7h-0.7zM164.3 404.2h0.7v0.7h-0.7zM159.5 405.2h0.7v0.7h-0.7zM168.0 406.7h0.7v0.7h-0.7zM157.1 401.6h0.7v0.7h-0.7zM166.6 406.3h0.7v0.7h-0.7zM169.0 396.6h0.7v0.7h-0.7zM171.0 399.0h0.7v0.7h-0.7zM155.9 407.4h0.7v0.7h-0.7zM173.8 405.3h0.7v0.7h-0.7zM174.7 398.0h0.7v0.7h-0.7zM160.3 395.4h0.7v0.7h-0.7zM152.8 396.1h0.7v0.7h-0.7zM154.3 397.4h0.7v0.7h-0.7zM172.9 399.2h0.7v0.7h-0.7zM173.3 406.0h0.7v0.7h-0.7zM153.5 408.9h0.7v0.7h-0.7zM167.8 407.9h0.7v0.7h-0.7zM170.2 402.0h0.7v0.7h-0.7zM163.5 398.0h0.7v0.7h-0.7zM158.7 406.2h0.7v0.7h-0.7zM157.8 405.4h0.7v0.7h-0.7zM157.2 398.3h0.7v0.7h-0.7zM161.1 402.6h0.7v0.7h-0.7zM175.1 400.4h0.7v0.7h-0.7zM160.6 406.0h0.7v0.7h-0.7zM162.2 402.9h0.7v0.7h-0.7zM176.3 402.1h0.7v0.7h-0.7zM172.6 398.0h0.7v0.7h-0.7zM160.7 407.2h0.7v0.7h-0.7zM158.6 404.5h0.7v0.7h-0.7zM161.4 403.7h0.7v0.7h-0.7zM158.0 407.5h0.7v0.7h-0.7zM167.5 404.4h0.7v0.7h-0.7zM172.4 399.4h0.7v0.7h-0.7zM172.6 405.2h0.7v0.7h-0.7zM163.0 405.1h0.7v0.7h-0.7zM156.2 396.5h0.7v0.7h-0.7zM165.0 397.2h0.7v0.7h-0.7zM174.8 400.8h0.7v0.7h-0.7zM156.0 403.7h0.7v0.7h-0.7zM164.1 403.1h0.7v0.7h-0.7zM164.9 407.6h0.7v0.7h-0.7zM176.6 398.0h0.7v0.7h-0.7zM172.1 403.5h0.7v0.7h-0.7zM157.0 406.7h0.7v0.7h-0.7zM171.0 398.4h0.7v0.7h-0.7zM168.8 400.6h0.7v0.7h-0.7zM155.2 403.3h0.7v0.7h-0.7zM152.4 398.7h0.7v0.7h-0.7zM157.9 396.3h0.7v0.7h-0.7zM157.9 399.5h0.7v0.7h-0.7zM161.2 406.8h0.7v0.7h-0.7zM154.1 398.4h0.7v0.7h-0.7zM160.1 396.6h0.7v0.7h-0.7zM172.5 409.9h0.7v0.7h-0.7zM152.0 406.4h0.7v0.7h-0.7zM176.6 400.9h0.7v0.7h-0.7zM153.0 409.2h0.7v0.7h-0.7zM163.1 401.6h0.7v0.7h-0.7zM173.8 402.1h0.7v0.7h-0.7zM162.2 408.4h0.7v0.7h-0.7zM169.2 403.4h0.7v0.7h-0.7zM166.8 398.7h0.7v0.7h-0.7zM174.8 396.2h0.7v0.7h-0.7zM175.2 409.7h0.7v0.7h-0.7zM168.2 404.5h0.7v0.7h-0.7zM163.9 397.0h0.7v0.7h-0.7zM170.6 405.9h0.7v0.7h-0.7zM168.7 404.9h0.7v0.7h-0.7zM151.6 401.6h0.7v0.7h-0.7zM167.4 400.1h0.7v0.7h-0.7zM169.4 399.3h0.7v0.7h-0.7zM159.4 403.2h0.7v0.7h-0.7zM154.2 406.0h0.7v0.7h-0.7zM161.1 397.7h0.7v0.7h-0.7zM164.8 401.2h0.7v0.7h-0.7zM165.4 399.5h0.7v0.7h-0.7zM161.5 401.5h0.7v0.7h-0.7zM173.9 400.9h0.7v0.7h-0.7zM158.7 396.6h0.7v0.7h-0.7zM163.3 408.1h0.7v0.7h-0.7zM163.1 406.4h0.7v0.7h-0.7zM155.2 402.8h0.7v0.7h-0.7zM176.8 408.5h0.7v0.7h-0.7zM166.4 401.2h0.7v0.7h-0.7zM163.2 408.7h0.7v0.7h-0.7zM167.1 405.7h0.7v0.7h-0.7zM176.4 396.6h0.7v0.7h-0.7zM154.5 402.1h0.7v0.7h-0.7zM155.2 398.3h0.7v0.7h-0.7zM153.5 397.9h0.7v0.7h-0.7zM154.8 407.3h0.7v0.7h-0.7zM157.9 398.6h0.7v0.7h-0.7zM152.3 406.1h0.7v0.7h-0.7zM174.7 396.5h0.7v0.7h-0.7zM170.1 403.8h0.7v0.7h-0.7zM158.6 402.5h0.7v0.7h-0.7zM163.0 399.2h0.7v0.7h-0.7zM159.2 399.1h0.7v0.7h-0.7zM153.4 407.0h0.7v0.7h-0.7zM157.3 396.7h0.7v0.7h-0.7zM164.9 405.8h0.7v0.7h-0.7zM162.3 408.4h0.7v0.7h-0.7zM167.8 398.1h0.7v0.7h-0.7zM168.8 407.1h0.7v0.7h-0.7zM153.2 407.9h0.7v0.7h-0.7zM158.1 404.2h0.7v0.7h-0.7zM163.7 405.7h0.7v0.7h-0.7zM169.2 396.6h0.7v0.7h-0.7zM168.9 405.3h0.7v0.7h-0.7zM156.3 409.4h0.7v0.7h-0.7zM162.7 400.6h0.7v0.7h-0.7zM171.4 404.8h0.7v0.7h-0.7zM166.7 402.7h0.7v0.7h-0.7zM157.6 406.1h0.7v0.7h-0.7zM158.4 406.8h0.7v0.7h-0.7zM159.6 400.5h0.7v0.7h-0.7zM174.2 407.7h0.7v0.7h-0.7zM155.7 397.3h0.7v0.7h-0.7zM156.8 400.0h0.7v0.7h-0.7zM155.3 405.8h0.7v0.7h-0.7zM174.3 399.9h0.7v0.7h-0.7zM159.3 399.0h0.7v0.7h-0.7zM151.0 409.4h0.7v0.7h-0.7zM158.0 395.4h0.7v0.7h-0.7zM170.5 403.7h0.7v0.7h-0.7zM157.8 399.3h0.7v0.7h-0.7zM154.4 407.7h0.7v0.7h-0.7zM170.6 407.1h0.7v0.7h-0.7zM166.1 407.2h0.7v0.7h-0.7zM165.8 399.0h0.7v0.7h-0.7zM156.3 405.6h0.7v0.7h-0.7zM172.4 404.4h0.7v0.7h-0.7zM176.4 407.2h0.7v0.7h-0.7zM160.0 408.9h0.7v0.7h-0.7zM153.8 400.0h0.7v0.7h-0.7z" fill="#3838e6" fill-opacity="0.45"/>
<path d="M171.9 421.4h0.7v0.7h-0.7zM163.0 416.5h0.7v0.7h-0.7zM168.0 419.8h0.7v0.7h-0.7zM161.6 424.9h0.7v0.7h-0.7zM166.6 425.0h0.7v0.7h-0.7zM162.6 419.2h0.7v0.7h-0.7zM167.4 428.8h0.7v0.7h-0.7zM168.7 422.4h0.7v0.7h-0.7zM170.0 426.6h0.7v0.7h-0.7zM163.0 430.9h0.7v0.7h-0.7zM171.1 423.4h0.7v0.7h-0.7zM168.6 418.7h0.7v0.7h-0.7zM171.6 431.8h0.7v0.7h-0.7zM167.9 424.7h0.7v0.7h-0.7zM166.7 423.7h0.7v0.7h-0.7zM163.7 423.9h0.7v0.7h-0.7zM170.8 422.5h0.7v0.7h-0.7zM170.9 418.6h0.7v0.7h-0.7zM165.1 422.2h0.7v0.7h-0.7zM165.9 427.3h0.7v0.7h-0.7zM163.3 426.6h0.7v0.7h-0.7zM164.2 423.4h0.7v0.7h-0.7zM158.1 416.2h0.7v0.7h-0.7zM168.2 426.5h0.7v0.7h-0.7zM168.8 423.6h0.7v0.7h-0.7zM170.7 424.8h0.7v0.7h-0.7zM170.1 418.9h0.7v0.7h-0.7zM173.8 422.1h0.7v0.7h-0.7zM163.3 421.1h0.7v0.7h-0.7zM170.7 423.8h0.7v0.7h-0.7zM166.9 428.4h0.7v0.7h-0.7zM171.3 425.2h0.7v0.7h-0.7zM164.4 426.4h0.7v0.7h-0.7zM166.0 424.4h0.7v0.7h-0.7zM166.6 417.3h0.7v0.7h-0.7zM165.9 422.5h0.7v0.7h-0.7zM161.5 419.4h0.7v0.7h-0.7zM173.2 423.0h0.7v0.7h-0.7zM174.2 425.5h0.7v0.7h-0.7zM165.9 421.1h0.7v0.7h-0.7zM173.0 420.3h0.7v0.7h-0.7zM169.4 421.9h0.7v0.7h-0.7zM164.3 421.9h0.7v0.7h-0.7zM165.6 429.2h0.7v0.7h-0.7zM165.0 421.4h0.7v0.7h-0.7zM159.6 421.4h0.7v0.7h-0.7zM160.2 420.3h0.7v0.7h-0.7zM157.3 419.1h0.7v0.7h-0.7zM171.1 424.2h0.7v0.7h-0.7zM162.0 421.7h0.7v0.7h-0.7zM172.1 422.5h0.7v0.7h-0.7zM162.4 424.2h0.7v0.7h-0.7zM162.0 422.4h0.7v0.7h-0.7zM167.9 423.3h0.7v0.7h-0.7zM164.2 430.0h0.7v0.7h-0.7zM173.1 425.8h0.7v0.7h-0.7zM172.3 424.5h0.7v0.7h-0.7zM168.1 421.0h0.7v0.7h-0.7zM165.5 425.2h0.7v0.7h-0.7zM166.1 419.4h0.7v0.7h-0.7zM164.9 421.6h0.7v0.7h-0.7zM159.9 419.0h0.7v0.7h-0.7zM168.9 415.0h0.7v0.7h-0.7zM167.4 427.7h0.7v0.7h-0.7zM164.9 425.6h0.7v0.7h-0.7zM168.0 421.5h0.7v0.7h-0.7zM161.7 421.3h0.7v0.7h-0.7zM167.9 423.2h0.7v0.7h-0.7zM166.8 427.5h0.7v0.7h-0.7zM169.2 422.7h0.7v0.7h-0.7zM169.2 420.5h0.7v0.7h-0.7zM159.6 421.1h0.7v0.7h-0.7zM170.2 424.7h0.7v0.7h-0.7zM168.3 425.1h0.7v0.7h-0.7zM165.5 428.6h0.7v0.7h-0.7zM165.7 422.6h0.7v0.7h-0.7zM168.6 419.6h0.7v0.7h-0.7zM171.3 428.6h0.7v0.7h-0.7zM168.4 421.3h0.7v0.7h-0.7zM173.2 421.1h0.7v0.7h-0.7zM167.3 423.7h0.7v0.7h-0.7zM171.7 418.7h0.7v0.7h-0.7zM172.2 426.9h0.7v0.7h-0.7zM168.0 418.6h0.7v0.7h-0.7zM172.3 414.7h0.7v0.7h-0.7zM164.2 429.4h0.7v0.7h-0.7zM170.0 422.1h0.7v0.7h-0.7zM165.1 418.6h0.7v0.7h-0.7zM169.9 419.8h0.7v0.7h-0.7zM166.9 426.1h0.7v0.7h-0.7zM165.5 423.0h0.7v0.7h-0.7zM172.0 417.8h0.7v0.7h-0.7zM167.6 428.9h0.7v0.7h-0.7zM166.5 421.9h0.7v0.7h-0.7zM168.4 417.6h0.7v0.7h-0.7zM166.7 425.0h0.7v0.7h-0.7zM166.1 429.4h0.7v0.7h-0.7zM161.0 424.8h0.7v0.7h-0.7zM168.2 424.9h0.7v0.7h-0.7zM163.1 429.4h0.7v0.7h-0.7zM168.0 424.7h0.7v0.7h-0.7zM167.3 422.0h0.7v0.7h-0.7zM166.6 422.2h0.7v0.7h-0.7zM167.4 428.7h0.7v0.7h-0.7zM169.8 420.9h0.7v0.7h-0.7zM166.5 423.8h0.7v0.7h-0.7zM165.9 425.7h0.7v0.7h-0.7zM168.6 418.1h0.7v0.7h-0.7zM168.2 419.3h0.7v0.7h-0.7zM166.7 421.8h0.7v0.7h-0.7zM165.1 425.4h0.7v0.7h-0.7zM166.1 429.1h0.7v0.7h-0.7zM168.0 426.5h0.7v0.7h-0.7zM165.9 430.3h0.7v0.7h-0.7zM164.7 420.4h0.7v0.7h-0.7zM161.5 428.9h0.7v0.7h-0.7zM170.9 422.1h0.7v0.7h-0.7zM160.9 420.7h0.7v0.7h-0.7zM167.2 426.2h0.7v0.7h-0.7zM170.6 426.0h0.7v0.7h-0.7zM167.5 421.5h0.7v0.7h-0.7zM157.6 427.9h0.7v0.7h-0.7zM163.9 423.9h0.7v0.7h-0.7zM171.2 417.2h0.7v0.7h-0.7zM166.0 424.8h0.7v0.7h-0.7zM163.5 419.2h0.7v0.7h-0.7zM171.9 421.1h0.7v0.7h-0.7zM165.8 427.4h0.7v0.7h-0.7zM166.4 427.2h0.7v0.7h-0.7zM159.7 425.0h0.7v0.7h-0.7z" fill="#3838e6" fill-opacity="0.42"/>
<path d="M177.2 428.9h0.7v0.7h-0.7zM172.2 428.1h0.7v0.7h-0.7zM175.6 420.6h0.7v0.7h-0.7zM164.1 426.3h0.7v0.7h-0.7zM167.8 417.9h0.7v0.7h-0.7zM164.2 420.6h0.7v0.7h-0.7zM172.0 420.5h0.7v0.7h-0.7zM161.3 422.8h0.7v0.7h-0.7zM166.7 421.3h0.7v0.7h-0.7zM177.8 423.9h0.7v0.7h-0.7zM168.1 418.8h0.7v0.7h-0.7zM169.4 421.7h0.7v0.7h-0.7zM170.7 418.1h0.7v0.7h-0.7zM163.0 420.2h0.7v0.7h-0.7zM176.9 418.5h0.7v0.7h-0.7zM168.4 423.1h0.7v0.7h-0.7zM173.1 420.7h0.7v0.7h-0.7zM175.6 419.5h0.7v0.7h-0.7zM170.5 424.8h0.7v0.7h-0.7zM160.8 422.3h0.7v0.7h-0.7zM174.0 424.4h0.7v0.7h-0.7zM168.5 418.5h0.7v0.7h-0.7zM163.4 427.2h0.7v0.7h-0.7zM173.6 420.2h0.7v0.7h-0.7zM171.3 424.8h0.7v0.7h-0.7zM170.7 417.9h0.7v0.7h-0.7zM172.8 423.0h0.7v0.7h-0.7zM161.9 420.0h0.7v0.7h-0.7zM176.5 426.7h0.7v0.7h-0.7zM165.7 418.5h0.7v0.7h-0.7zM165.7 425.8h0.7v0.7h-0.7zM174.5 423.6h0.7v0.7h-0.7zM160.2 428.2h0.7v0.7h-0.7zM170.4 420.8h0.7v0.7h-0.7zM166.0 418.1h0.7v0.7h-0.7zM170.5 426.3h0.7v0.7h-0.7zM160.7 426.6h0.7v0.7h-0.7zM172.6 426.5h0.7v0.7h-0.7zM168.4 426.0h0.7v0.7h-0.7zM163.9 423.0h0.7v0.7h-0.7zM173.8 418.0h0.7v0.7h-0.7zM166.5 416.4h0.7v0.7h-0.7zM173.9 423.7h0.7v0.7h-0.7zM173.9 416.8h0.7v0.7h-0.7zM162.8 416.4h0.7v0.7h-0.7zM169.8 419.1h0.7v0.7h-0.7zM173.2 423.4h0.7v0.7h-0.7zM178.0 429.3h0.7v0.7h-0.7zM166.3 419.8h0.7v0.7h-0.7zM168.2 428.5h0.7v0.7h-0.7z" fill="#3838e6" fill-opacity="0.45"/>
<path d="M139.10 381.80L186.00 381.80L186.00 413.50L149.20 413.50L141.90 406.30Z" fill="none" stroke="#3a3a3a" stroke-width="0.5"/>
<text transform="translate(6.80 459.20) scale(1 1.08)" font-size="10" text-anchor="start" fill="#000" font-weight="bold" >D</text>
<line x1="60.90" y1="486.70" x2="60.90" y2="589.80" stroke="#1a1a1a" stroke-width="1.3" />
<line x1="60.30" y1="589.20" x2="137.20" y2="589.20" stroke="#1a1a1a" stroke-width="1.3" />
<line x1="57.90" y1="589.20" x2="60.30" y2="589.20" stroke="#1a1a1a" stroke-width="0.8" />
<text transform="translate(54.80 591.35) scale(1 1.08)" font-size="7.5" text-anchor="end" fill="#1a1a1a" font-weight="normal" stroke="#1a1a1a" stroke-width="0.12" >0</text>
<line x1="57.90" y1="571.22" x2="60.30" y2="571.22" stroke="#1a1a1a" stroke-width="0.8" />
<text transform="translate(54.80 573.37) scale(1 1.08)" font-size="7.5" text-anchor="end" fill="#1a1a1a" font-weight="normal" stroke="#1a1a1a" stroke-width="0.12" >20</text>
<line x1="57.90" y1="553.24" x2="60.30" y2="553.24" stroke="#1a1a1a" stroke-width="0.8" />
<text transform="translate(54.80 555.39) scale(1 1.08)" font-size="7.5" text-anchor="end" fill="#1a1a1a" font-weight="normal" stroke="#1a1a1a" stroke-width="0.12" >40</text>
<line x1="57.90" y1="535.26" x2="60.30" y2="535.26" stroke="#1a1a1a" stroke-width="0.8" />
<text transform="translate(54.80 537.41) scale(1 1.08)" font-size="7.5" text-anchor="end" fill="#1a1a1a" font-weight="normal" stroke="#1a1a1a" stroke-width="0.12" >60</text>
<line x1="57.90" y1="517.28" x2="60.30" y2="517.28" stroke="#1a1a1a" stroke-width="0.8" />
<text transform="translate(54.80 519.43) scale(1 1.08)" font-size="7.5" text-anchor="end" fill="#1a1a1a" font-weight="normal" stroke="#1a1a1a" stroke-width="0.12" >80</text>
<line x1="57.90" y1="499.30" x2="60.30" y2="499.30" stroke="#1a1a1a" stroke-width="0.8" />
<text transform="translate(54.80 501.45) scale(1 1.08)" font-size="7.5" text-anchor="end" fill="#1a1a1a" font-weight="normal" stroke="#1a1a1a" stroke-width="0.12" >100</text>
<rect x="68.95" y="500.38" width="14.3" height="67.16" fill="#c8143a"/>
<rect x="68.95" y="567.53" width="14.3" height="13.66" fill="#1a4f8c"/>
<rect x="68.95" y="581.20" width="14.3" height="8.00" fill="#3cb94a"/>
<line x1="76.10" y1="500.38" x2="76.10" y2="497.23" stroke="#c8143a" stroke-width="0.9" />
<line x1="72.80" y1="497.23" x2="79.40" y2="497.23" stroke="#c8143a" stroke-width="0.9" />
<line x1="76.10" y1="500.38" x2="76.10" y2="503.53" stroke="#c8143a" stroke-width="0.9" />
<line x1="72.80" y1="503.53" x2="79.40" y2="503.53" stroke="#c8143a" stroke-width="0.9" />
<line x1="76.10" y1="567.53" x2="76.10" y2="565.56" stroke="#1a4f8c" stroke-width="0.9" />
<line x1="72.80" y1="565.56" x2="79.40" y2="565.56" stroke="#1a4f8c" stroke-width="0.9" />
<line x1="76.10" y1="567.53" x2="76.10" y2="569.51" stroke="#1a4f8c" stroke-width="0.9" />
<line x1="72.80" y1="569.51" x2="79.40" y2="569.51" stroke="#1a4f8c" stroke-width="0.9" />
<line x1="76.10" y1="581.20" x2="76.10" y2="578.50" stroke="#2aa040" stroke-width="0.9" />
<line x1="72.80" y1="578.50" x2="79.40" y2="578.50" stroke="#2aa040" stroke-width="0.9" />
<line x1="76.10" y1="581.20" x2="76.10" y2="583.90" stroke="#2aa040" stroke-width="0.9" />
<line x1="72.80" y1="583.90" x2="79.40" y2="583.90" stroke="#2aa040" stroke-width="0.9" />
<line x1="76.10" y1="589.20" x2="76.10" y2="591.70" stroke="#1a1a1a" stroke-width="0.8" />
<text transform="translate(76.10 602.00) scale(1 1.08)" font-size="7.8" text-anchor="middle" fill="#1a1a1a" font-weight="normal" stroke="#1a1a1a" stroke-width="0.12" >Luc</text>
<rect x="92.25" y="500.38" width="14.3" height="62.03" fill="#c8143a"/>
<rect x="92.25" y="562.41" width="14.3" height="22.56" fill="#1a4f8c"/>
<rect x="92.25" y="584.97" width="14.3" height="4.23" fill="#3cb94a"/>
<line x1="99.40" y1="500.38" x2="99.40" y2="495.70" stroke="#c8143a" stroke-width="0.9" />
<line x1="96.10" y1="495.70" x2="102.70" y2="495.70" stroke="#c8143a" stroke-width="0.9" />
<line x1="99.40" y1="500.38" x2="99.40" y2="505.05" stroke="#c8143a" stroke-width="0.9" />
<line x1="96.10" y1="505.05" x2="102.70" y2="505.05" stroke="#c8143a" stroke-width="0.9" />
<line x1="99.40" y1="562.41" x2="99.40" y2="557.47" stroke="#1a4f8c" stroke-width="0.9" />
<line x1="96.10" y1="557.47" x2="102.70" y2="557.47" stroke="#1a4f8c" stroke-width="0.9" />
<line x1="99.40" y1="562.41" x2="99.40" y2="567.35" stroke="#1a4f8c" stroke-width="0.9" />
<line x1="96.10" y1="567.35" x2="102.70" y2="567.35" stroke="#1a4f8c" stroke-width="0.9" />
<line x1="99.40" y1="584.97" x2="99.40" y2="582.46" stroke="#2aa040" stroke-width="0.9" />
<line x1="96.10" y1="582.46" x2="102.70" y2="582.46" stroke="#2aa040" stroke-width="0.9" />
<line x1="99.40" y1="584.97" x2="99.40" y2="587.49" stroke="#2aa040" stroke-width="0.9" />
<line x1="96.10" y1="587.49" x2="102.70" y2="587.49" stroke="#2aa040" stroke-width="0.9" />
<line x1="99.40" y1="589.20" x2="99.40" y2="591.70" stroke="#1a1a1a" stroke-width="0.8" />
<text transform="translate(99.40 602.00) scale(1 1.08)" font-size="7.8" text-anchor="middle" fill="#1a1a1a" font-weight="normal" stroke="#1a1a1a" stroke-width="0.12" >#1</text>
<rect x="115.65" y="500.38" width="14.3" height="70.66" fill="#c8143a"/>
<rect x="115.65" y="571.04" width="14.3" height="13.93" fill="#1a4f8c"/>
<rect x="115.65" y="584.97" width="14.3" height="4.23" fill="#3cb94a"/>
<line x1="122.80" y1="500.38" x2="122.80" y2="495.79" stroke="#c8143a" stroke-width="0.9" />
<line x1="119.50" y1="495.79" x2="126.10" y2="495.79" stroke="#c8143a" stroke-width="0.9" />
<line x1="122.80" y1="500.38" x2="122.80" y2="504.96" stroke="#c8143a" stroke-width="0.9" />
<line x1="119.50" y1="504.96" x2="126.10" y2="504.96" stroke="#c8143a" stroke-width="0.9" />
<line x1="122.80" y1="571.04" x2="122.80" y2="565.56" stroke="#1a4f8c" stroke-width="0.9" />
<line x1="119.50" y1="565.56" x2="126.10" y2="565.56" stroke="#1a4f8c" stroke-width="0.9" />
<line x1="122.80" y1="571.04" x2="122.80" y2="576.52" stroke="#1a4f8c" stroke-width="0.9" />
<line x1="119.50" y1="576.52" x2="126.10" y2="576.52" stroke="#1a4f8c" stroke-width="0.9" />
<line x1="122.80" y1="584.97" x2="122.80" y2="583.00" stroke="#2aa040" stroke-width="0.9" />
<line x1="119.50" y1="583.00" x2="126.10" y2="583.00" stroke="#2aa040" stroke-width="0.9" />
<line x1="122.80" y1="584.97" x2="122.80" y2="586.95" stroke="#2aa040" stroke-width="0.9" />
<line x1="119.50" y1="586.95" x2="126.10" y2="586.95" stroke="#2aa040" stroke-width="0.9" />
<line x1="122.80" y1="589.20" x2="122.80" y2="591.70" stroke="#1a1a1a" stroke-width="0.8" />
<text transform="translate(122.80 602.00) scale(1 1.08)" font-size="7.8" text-anchor="middle" fill="#1a1a1a" font-weight="normal" stroke="#1a1a1a" stroke-width="0.12" >#3</text>
<rect x="140.6" y="562.40" width="5.9" height="4.6" fill="#c8143a"/>
<text transform="translate(149.00 567.70) scale(1 1.08)" font-size="7.6" text-anchor="start" fill="#1a1a1a" font-weight="normal" stroke="#1a1a1a" stroke-width="0.12" >MLP</text>
<rect x="140.6" y="572.30" width="5.9" height="4.6" fill="#1a4f8c"/>
<text transform="translate(149.00 577.60) scale(1 1.08)" font-size="7.6" text-anchor="start" fill="#1a1a1a" font-weight="normal" stroke="#1a1a1a" stroke-width="0.12" >MPP</text>
<rect x="140.6" y="583.10" width="5.9" height="4.6" fill="#3cb94a"/>
<text transform="translate(149.00 588.40) scale(1 1.08)" font-size="7.6" text-anchor="start" fill="#1a1a1a" font-weight="normal" stroke="#1a1a1a" stroke-width="0.12" >HSC</text>
<text transform="translate(24.20 537.30) rotate(-90)" font-size="8.0" text-anchor="middle" fill="#1a1a1a" stroke="#1a1a1a" stroke-width="0.15" textLength="38" lengthAdjust="spacingAndGlyphs">Distribution of</text>
<text transform="translate(35.60 538.50) rotate(-90)" font-size="8.3" text-anchor="middle" fill="#1a1a1a" stroke="#1a1a1a" stroke-width="0.15" textLength="84" lengthAdjust="spacingAndGlyphs">mCherry<tspan font-size="5.4" dy="-3.0">+</tspan><tspan dy="3.0">CD34<tspan font-size="5.4" dy="-3.0">+</tspan><tspan dy="3.0">CD38<tspan font-size="5.4" dy="-3.0">&#8722;</tspan><tspan dy="3.0"> HSPCs</tspan></tspan></tspan></text>
<text transform="translate(199.80 459.20) scale(1 1.08)" font-size="10" text-anchor="start" fill="#000" font-weight="bold" >E</text>
<line x1="228.80" y1="465.40" x2="228.80" y2="589.80" stroke="#1a1a1a" stroke-width="1.3" />
<line x1="228.20" y1="589.20" x2="255.80" y2="589.20" stroke="#1a1a1a" stroke-width="1.3" />
<line x1="225.80" y1="589.20" x2="228.20" y2="589.20" stroke="#1a1a1a" stroke-width="0.8" />
<text transform="translate(222.70 591.35) scale(1 1.08)" font-size="7.5" text-anchor="end" fill="#1a1a1a" font-weight="normal" stroke="#1a1a1a" stroke-width="0.12" >0</text>
<line x1="225.80" y1="565.06" x2="228.20" y2="565.06" stroke="#1a1a1a" stroke-width="0.8" />
<text transform="translate(222.70 567.21) scale(1 1.08)" font-size="7.5" text-anchor="end" fill="#1a1a1a" font-weight="normal" stroke="#1a1a1a" stroke-width="0.12" >20</text>
<line x1="225.80" y1="540.92" x2="228.20" y2="540.92" stroke="#1a1a1a" stroke-width="0.8" />
<text transform="translate(222.70 543.07) scale(1 1.08)" font-size="7.5" text-anchor="end" fill="#1a1a1a" font-weight="normal" stroke="#1a1a1a" stroke-width="0.12" >40</text>
<line x1="225.80" y1="516.78" x2="228.20" y2="516.78" stroke="#1a1a1a" stroke-width="0.8" />
<text transform="translate(222.70 518.93) scale(1 1.08)" font-size="7.5" text-anchor="end" fill="#1a1a1a" font-weight="normal" stroke="#1a1a1a" stroke-width="0.12" >60</text>
<line x1="225.80" y1="492.64" x2="228.20" y2="492.64" stroke="#1a1a1a" stroke-width="0.8" />
<text transform="translate(222.70 494.79) scale(1 1.08)" font-size="7.5" text-anchor="end" fill="#1a1a1a" font-weight="normal" stroke="#1a1a1a" stroke-width="0.12" >80</text>
<line x1="225.80" y1="468.50" x2="228.20" y2="468.50" stroke="#1a1a1a" stroke-width="0.8" />
<text transform="translate(222.70 470.65) scale(1 1.08)" font-size="7.5" text-anchor="end" fill="#1a1a1a" font-weight="normal" stroke="#1a1a1a" stroke-width="0.12" >100</text>
<line x1="242.80" y1="589.20" x2="242.80" y2="591.70" stroke="#1a1a1a" stroke-width="0.8" />
<rect x="233.50" y="576.65" width="7.00" height="12.55" fill="#e596a8"/>
<circle cx="237.00" cy="518.59" r="1.06" fill="#c8143c"/>
<circle cx="237.74" cy="576.53" r="1.06" fill="#c8143c"/>
<circle cx="236.58" cy="579.54" r="1.06" fill="#c8143c"/>
<circle cx="235.93" cy="585.58" r="1.06" fill="#c8143c"/>
<circle cx="234.50" cy="589.20" r="1.06" fill="#c8143c"/>
<circle cx="239.50" cy="589.20" r="1.06" fill="#c8143c"/>
<line x1="237.00" y1="584.37" x2="237.00" y2="568.68" stroke="#c8143c" stroke-width="0.9" />
<line x1="235.10" y1="568.68" x2="238.90" y2="568.68" stroke="#c8143c" stroke-width="0.9" />
<line x1="235.10" y1="584.37" x2="238.90" y2="584.37" stroke="#c8143c" stroke-width="0.9" />
<rect x="245.10" y="542.73" width="6.80" height="46.47" fill="#ae95c4"/>
<path d="M248.50 477.30L249.96 478.76L248.50 480.22L247.04 478.76Z" fill="#4c2072"/>
<path d="M248.50 499.63L249.96 501.09L248.50 502.55L247.04 501.09Z" fill="#4c2072"/>
<path d="M248.50 521.96L249.96 523.42L248.50 524.87L247.04 523.42Z" fill="#4c2072"/>
<path d="M249.38 559.98L250.84 561.44L249.38 562.90L247.92 561.44Z" fill="#4c2072"/>
<path d="M248.00 572.05L249.46 573.51L248.00 574.97L246.54 573.51Z" fill="#4c2072"/>
<path d="M247.87 575.07L249.32 576.53L247.87 577.98L246.41 576.53Z" fill="#4c2072"/>
<path d="M247.66 587.74L249.11 589.20L247.66 590.66L246.20 589.20Z" fill="#4c2072"/>
<line x1="248.50" y1="557.82" x2="248.50" y2="528.25" stroke="#4c2072" stroke-width="0.9" />
<line x1="246.60" y1="528.25" x2="250.40" y2="528.25" stroke="#4c2072" stroke-width="0.9" />
<line x1="246.60" y1="557.82" x2="250.40" y2="557.82" stroke="#4c2072" stroke-width="0.9" />
<path d="M237.00 509.00V466.80H248.50V471.80" fill="none" stroke="#333" stroke-width="0.9"/>
<circle cx="242.60" cy="460.70" r="1.05" fill="#1a1a1a"/>
<text transform="translate(204.80 528.70) rotate(-90)" font-size="8.3" text-anchor="middle" fill="#1a1a1a" stroke="#1a1a1a" stroke-width="0.15" textLength="64.5" lengthAdjust="spacingAndGlyphs">% mCherry<tspan font-size="5.4" dy="-3.0">+</tspan><tspan dy="3.0"> in hCD45<tspan font-size="5.4" dy="-3.0">+</tspan><tspan dy="3.0"></tspan></tspan></text>
<circle cx="260.80" cy="577.40" r="1.71" fill="#c8143c"/>
<text transform="translate(265.10 579.90) scale(1 1.08)" font-size="7.2" text-anchor="start" fill="#c8143c" font-weight="normal" stroke="#c8143c" stroke-width="0.12" >shLuc</text>
<path d="M260.80 582.76L263.14 585.10L260.80 587.44L258.46 585.10Z" fill="#4c2072"/>
<text transform="translate(265.10 587.60) scale(1 1.08)" font-size="7.2" text-anchor="start" fill="#4c2072" font-weight="normal" stroke="#4c2072" stroke-width="0.12" >shLNK #3</text>
</svg>
<svg id="brd" width="520" height="608" viewBox="0 0 520 608" shape-rendering="crispEdges">
<rect x="1" y="1" width="518" height="1" fill="#e8e8e8"/><rect x="1" y="1" width="1" height="606" fill="#e0e0e0"/><rect x="1" y="606" width="518" height="1" fill="#d8d8d8"/><rect x="518" y="1" width="1" height="606" fill="#d8d8d8"/>
<rect x="0" y="0" width="520" height="1" fill="#000"/><rect x="0" y="607" width="520" height="1" fill="#000"/><rect x="0" y="0" width="1" height="608" fill="#000"/><rect x="519" y="0" width="1" height="608" fill="#000"/>
</svg>
</body></html>
